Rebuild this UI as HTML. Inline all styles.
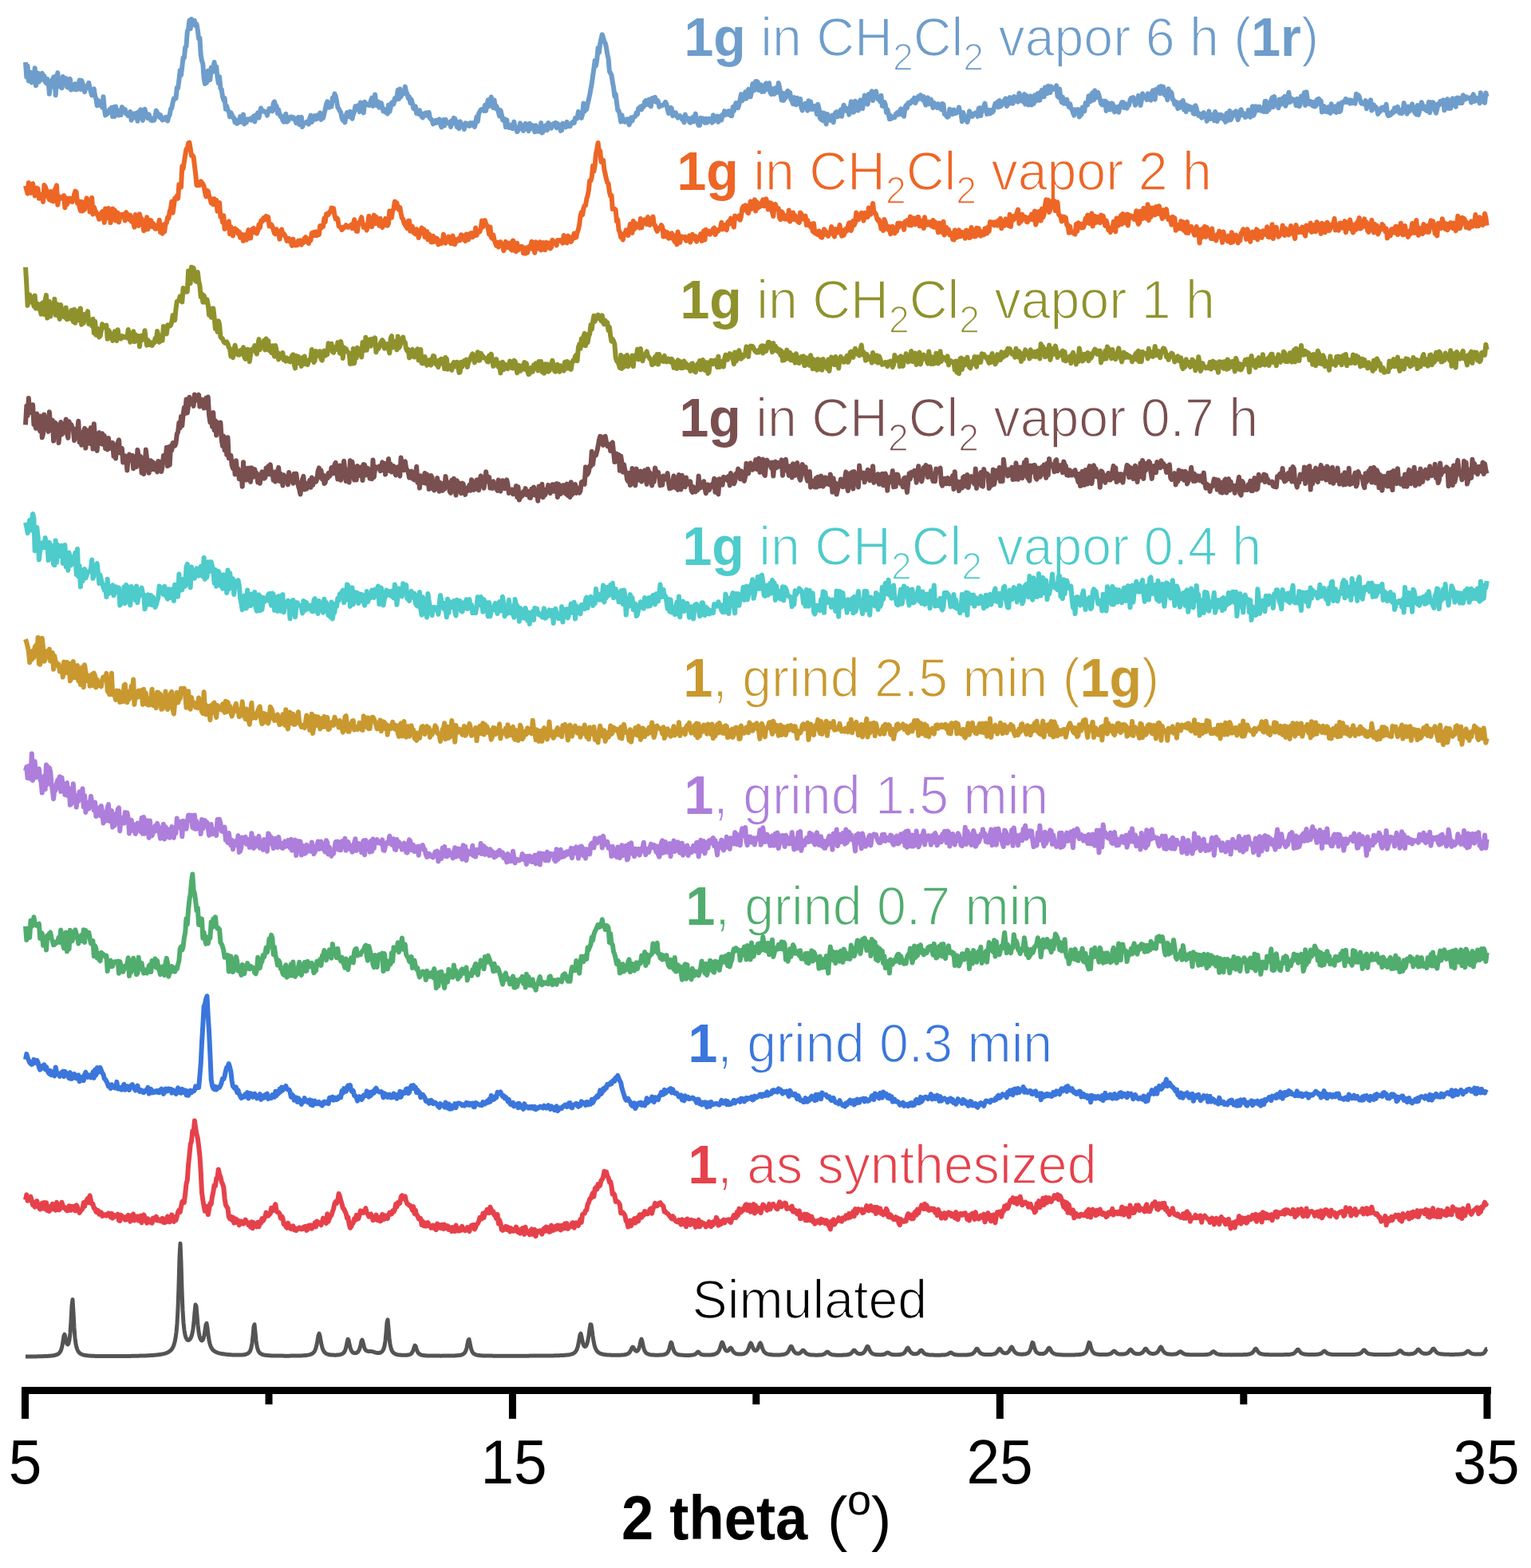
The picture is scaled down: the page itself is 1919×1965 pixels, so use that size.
<!DOCTYPE html>
<html><head><meta charset="utf-8"><title>PXRD patterns</title>
<style>
html,body{margin:0;padding:0;background:#fff;}
body{width:1919px;height:1965px;overflow:hidden;}
svg{display:block;}
text{font-family:"Liberation Sans",Arial,sans-serif;}
.lb{font-size:68.6px;}
.b{font-weight:bold;}
.tk{font-size:77.5px;fill:#000;}
</style></head><body>
<svg width="1919" height="1965" viewBox="0 0 1919 1965">
<rect width="1919" height="1965" fill="#fff"/>
<g class="lb">
<g transform="translate(857.5,69.9) scale(0.966,1)"><text x="0" y="0" fill="#6e9dcb" stroke="#fff" stroke-width="1.6"><tspan class="b" stroke="none">1g</tspan> in CH<tspan font-size="48.0" dy="17.8">2</tspan><tspan dy="-17.8">Cl</tspan><tspan font-size="48.0" dy="17.8">2</tspan><tspan dy="-17.8"> vapor 6 h (</tspan><tspan class="b" stroke="none">1r</tspan>)</text></g>
<g transform="translate(848.5,237.5) scale(0.966,1)"><text x="0" y="0" fill="#ed6626" stroke="#fff" stroke-width="1.6"><tspan class="b" stroke="none">1g</tspan> in CH<tspan font-size="48.0" dy="17.8">2</tspan><tspan dy="-17.8">Cl</tspan><tspan font-size="48.0" dy="17.8">2</tspan><tspan dy="-17.8"> vapor 2 h</tspan></text></g>
<g transform="translate(852.5,399) scale(0.966,1)"><text x="0" y="0" fill="#8f922c" stroke="#fff" stroke-width="1.6"><tspan class="b" stroke="none">1g</tspan> in CH<tspan font-size="48.0" dy="17.8">2</tspan><tspan dy="-17.8">Cl</tspan><tspan font-size="48.0" dy="17.8">2</tspan><tspan dy="-17.8"> vapor 1 h</tspan></text></g>
<g transform="translate(851.5,546.8) scale(0.966,1)"><text x="0" y="0" fill="#7a4f50" stroke="#fff" stroke-width="1.6"><tspan class="b" stroke="none">1g</tspan> in CH<tspan font-size="48.0" dy="17.8">2</tspan><tspan dy="-17.8">Cl</tspan><tspan font-size="48.0" dy="17.8">2</tspan><tspan dy="-17.8"> vapor 0.7 h</tspan></text></g>
<g transform="translate(855.5,708.3) scale(0.966,1)"><text x="0" y="0" fill="#4ecbcb" stroke="#fff" stroke-width="1.6"><tspan class="b" stroke="none">1g</tspan> in CH<tspan font-size="48.0" dy="17.8">2</tspan><tspan dy="-17.8">Cl</tspan><tspan font-size="48.0" dy="17.8">2</tspan><tspan dy="-17.8"> vapor 0.4 h</tspan></text></g>
<g transform="translate(856.5,873.2) scale(0.966,1)"><text x="0" y="0" fill="#c9992f" stroke="#fff" stroke-width="1.6"><tspan class="b" stroke="none">1</tspan>, grind 2.5 min (<tspan class="b" stroke="none">1g</tspan>)</text></g>
<g transform="translate(857.5,1019.5) scale(0.966,1)"><text x="0" y="0" fill="#ad7edb" stroke="#fff" stroke-width="1.6"><tspan class="b" stroke="none">1</tspan>, grind 1.5 min</text></g>
<g transform="translate(859.5,1158.6) scale(0.966,1)"><text x="0" y="0" fill="#50ad6e" stroke="#fff" stroke-width="1.6"><tspan class="b" stroke="none">1</tspan>, grind 0.7 min</text></g>
<g transform="translate(862.5,1331) scale(0.966,1)"><text x="0" y="0" fill="#3b76dc" stroke="#fff" stroke-width="1.6"><tspan class="b" stroke="none">1</tspan>, grind 0.3 min</text></g>
<g transform="translate(862.5,1482.5) scale(0.966,1)"><text x="0" y="0" fill="#e6414b" stroke="#fff" stroke-width="1.6"><tspan class="b" stroke="none">1</tspan>, as synthesized</text></g>
<g transform="translate(867.5,1652) scale(0.966,1)"><text x="0" y="0" fill="#000" stroke="#fff" stroke-width="1.6">Simulated</text></g>
</g>
<polyline fill="none" stroke="#6e9dcb" stroke-width="6.0" stroke-linejoin="round" points="32.0,78.0 33.3,96.6 34.6,82.6 35.9,101.4 37.2,91.3 38.5,90.9 39.8,103.5 41.1,99.2 42.4,101.8 43.7,85.3 45.0,107.3 46.3,98.0 47.6,91.6 48.9,102.4 50.2,94.7 51.5,100.2 52.8,91.7 54.1,95.4 55.4,95.3 56.7,102.4 58.0,104.3 59.3,99.0 60.6,101.8 61.9,117.8 63.2,105.2 64.5,109.1 65.8,99.5 67.1,96.8 68.4,96.2 69.7,119.2 71.0,100.9 72.3,91.1 73.6,108.4 74.9,105.5 76.2,104.4 77.5,110.4 78.8,96.1 80.1,103.9 81.4,104.1 82.7,98.1 84.0,109.1 85.3,109.6 86.6,104.8 87.9,98.9 89.2,112.6 90.5,106.0 91.8,107.7 93.1,111.7 94.4,105.1 95.7,112.4 97.0,111.8 98.3,109.1 99.6,100.5 100.9,111.9 102.2,101.0 103.5,104.1 104.8,111.6 106.1,115.2 107.4,110.2 108.7,107.8 110.0,107.0 111.3,103.8 112.6,110.1 113.9,115.6 115.2,119.5 116.5,112.4 117.8,111.5 119.1,120.1 120.4,123.9 121.7,132.4 123.0,125.8 124.3,127.9 125.6,131.9 126.9,130.4 128.2,134.5 129.5,121.2 130.8,136.3 132.1,144.4 133.4,141.5 134.7,142.6 136.0,140.3 137.3,137.1 138.6,140.9 139.9,134.9 141.2,146.1 142.5,134.3 143.8,146.0 145.1,133.5 146.4,141.5 147.7,141.1 149.0,144.5 150.3,138.3 151.6,144.0 152.9,134.1 154.2,137.8 155.5,139.7 156.8,137.1 158.1,142.8 159.4,141.8 160.7,145.0 162.0,142.7 163.3,139.9 164.6,150.7 165.9,145.5 167.2,147.6 168.5,142.3 169.8,144.7 171.1,142.0 172.4,151.8 173.7,140.3 175.0,140.1 176.3,137.4 177.6,139.5 178.9,150.9 180.2,145.8 181.5,136.7 182.8,142.2 184.1,142.9 185.4,148.2 186.7,143.4 188.0,147.8 189.3,150.8 190.6,151.1 191.9,148.4 193.2,150.6 194.5,146.6 195.8,138.6 197.1,141.0 198.4,143.1 199.7,146.8 201.0,144.0 202.3,148.2 203.6,150.4 204.9,149.3 206.2,149.6 207.5,146.8 208.8,147.0 210.1,151.5 211.4,146.1 212.7,144.1 214.0,136.6 215.3,135.5 216.6,128.5 217.9,123.5 219.2,124.0 220.5,123.2 221.8,109.9 223.1,110.4 224.4,100.5 225.7,88.2 227.0,94.2 228.3,83.5 229.6,72.2 230.9,72.4 232.2,59.3 233.5,58.1 234.8,39.3 236.1,36.4 237.4,25.6 238.7,36.1 240.0,23.9 241.3,30.9 242.6,26.9 243.9,26.0 245.2,32.5 246.5,30.1 247.8,37.8 249.1,48.4 250.4,47.6 251.7,68.9 253.0,76.2 254.3,80.0 255.6,97.9 256.9,105.0 258.2,104.2 259.5,103.0 260.8,88.7 262.1,96.8 263.4,99.9 264.7,84.8 266.0,90.6 267.3,84.6 268.6,78.0 269.9,88.9 271.2,83.4 272.5,96.6 273.8,104.2 275.1,96.2 276.4,110.8 277.7,112.0 279.0,121.2 280.3,125.5 281.6,123.0 282.9,136.8 284.2,132.9 285.5,137.9 286.8,139.6 288.1,146.4 289.4,141.1 290.7,143.6 292.0,147.5 293.3,147.7 294.6,153.5 295.9,150.6 297.2,154.8 298.5,153.9 299.8,151.9 301.1,146.1 302.4,152.9 303.7,149.5 305.0,143.5 306.3,155.4 307.6,150.3 308.9,153.5 310.2,149.2 311.5,149.8 312.8,150.0 314.1,148.5 315.4,150.6 316.7,149.9 318.0,145.7 319.3,152.5 320.6,144.3 321.9,145.6 323.2,141.2 324.5,147.6 325.8,141.2 327.1,135.5 328.4,138.1 329.7,139.4 331.0,139.3 332.3,140.1 333.6,140.4 334.9,144.7 336.2,140.0 337.5,136.1 338.8,138.0 340.1,136.2 341.4,139.3 342.7,129.5 344.0,127.5 345.3,132.4 346.6,132.9 347.9,142.1 349.2,137.5 350.5,143.9 351.8,146.1 353.1,145.6 354.4,151.0 355.7,152.7 357.0,152.3 358.3,142.7 359.6,152.8 360.9,151.9 362.2,147.3 363.5,148.6 364.8,146.3 366.1,148.5 367.4,146.9 368.7,147.9 370.0,150.7 371.3,154.1 372.6,149.0 373.9,147.0 375.2,156.2 376.5,150.2 377.8,146.9 379.1,159.1 380.4,155.5 381.7,154.3 383.0,154.1 384.3,152.7 385.6,154.0 386.9,155.7 388.2,148.4 389.5,144.7 390.8,153.0 392.1,150.1 393.4,145.2 394.7,146.9 396.0,149.6 397.3,144.5 398.6,148.5 399.9,147.3 401.2,141.5 402.5,149.9 403.8,148.4 405.1,147.9 406.4,142.2 407.7,137.3 409.0,130.6 410.3,127.4 411.6,130.1 412.9,134.6 414.2,130.8 415.5,133.5 416.8,122.6 418.1,123.9 419.4,117.5 420.7,120.3 422.0,126.8 423.3,134.3 424.6,136.3 425.9,138.9 427.2,140.9 428.5,147.8 429.8,150.7 431.1,148.7 432.4,153.4 433.7,144.5 435.0,141.1 436.3,145.8 437.6,146.3 438.9,139.7 440.2,144.1 441.5,148.8 442.8,143.4 444.1,139.7 445.4,133.2 446.7,132.9 448.0,136.7 449.3,132.0 450.6,140.1 451.9,128.4 453.2,133.7 454.5,133.4 455.8,141.4 457.1,127.7 458.4,129.9 459.7,130.1 461.0,131.6 462.3,132.0 463.6,131.9 464.9,125.9 466.2,122.7 467.5,132.9 468.8,132.2 470.1,118.4 471.4,129.9 472.7,132.2 474.0,127.3 475.3,134.8 476.6,129.8 477.9,129.1 479.2,134.5 480.5,139.4 481.8,136.9 483.1,140.4 484.4,139.8 485.7,142.5 487.0,131.4 488.3,139.9 489.6,134.8 490.9,128.7 492.2,127.9 493.5,130.3 494.8,123.4 496.1,125.1 497.4,122.5 498.7,112.8 500.0,124.1 501.3,111.4 502.6,121.2 503.9,116.7 505.2,115.7 506.5,117.4 507.8,108.6 509.1,115.2 510.4,117.4 511.7,123.0 513.0,121.3 514.3,129.0 515.6,124.6 516.9,129.5 518.2,135.6 519.5,136.7 520.8,133.4 522.1,142.0 523.4,141.5 524.7,142.9 526.0,138.2 527.3,142.9 528.6,146.2 529.9,147.5 531.2,142.5 532.5,144.6 533.8,141.4 535.1,144.3 536.4,145.2 537.7,140.9 539.0,148.4 540.3,149.3 541.6,151.2 542.9,155.3 544.2,152.0 545.5,151.1 546.8,154.0 548.1,150.6 549.4,151.6 550.7,149.5 552.0,155.6 553.3,159.4 554.6,158.3 555.9,150.1 557.2,157.5 558.5,149.7 559.8,153.5 561.1,153.5 562.4,154.8 563.7,153.1 565.0,159.0 566.3,151.1 567.6,154.9 568.9,147.9 570.2,148.8 571.5,152.1 572.8,159.3 574.1,159.1 575.4,161.1 576.7,152.2 578.0,157.9 579.3,156.4 580.6,156.3 581.9,162.0 583.2,154.3 584.5,157.5 585.8,155.2 587.1,157.1 588.4,157.9 589.7,154.2 591.0,156.9 592.3,154.0 593.6,155.3 594.9,159.0 596.2,154.1 597.5,146.3 598.8,152.2 600.1,142.4 601.4,139.7 602.7,137.5 604.0,136.8 605.3,136.5 606.6,138.8 607.9,131.8 609.2,138.9 610.5,130.4 611.8,125.2 613.1,133.1 614.4,130.3 615.7,121.5 617.0,125.9 618.3,135.1 619.6,125.5 620.9,135.8 622.2,132.8 623.5,136.0 624.8,140.7 626.1,145.4 627.4,138.1 628.7,143.3 630.0,150.4 631.3,148.6 632.6,149.4 633.9,159.3 635.2,150.3 636.5,158.9 637.8,159.9 639.1,159.8 640.4,156.7 641.7,161.0 643.0,161.0 644.3,152.6 645.6,159.4 646.9,159.8 648.2,165.2 649.5,163.4 650.8,161.4 652.1,154.4 653.4,157.2 654.7,160.3 656.0,163.9 657.3,159.2 658.6,154.9 659.9,155.6 661.2,160.9 662.5,164.1 663.8,154.7 665.1,156.9 666.4,156.8 667.7,161.3 669.0,157.5 670.3,165.3 671.6,157.2 672.9,160.2 674.2,164.8 675.5,162.9 676.8,164.5 678.1,154.1 679.4,166.4 680.7,165.3 682.0,160.4 683.3,157.6 684.6,156.9 685.9,163.1 687.2,154.0 688.5,155.6 689.8,156.5 691.1,160.7 692.4,156.4 693.7,155.2 695.0,156.8 696.3,153.8 697.6,160.2 698.9,154.8 700.2,159.5 701.5,156.3 702.8,163.9 704.1,163.2 705.4,154.4 706.7,158.1 708.0,157.7 709.3,159.2 710.6,152.9 711.9,158.1 713.2,158.2 714.5,158.3 715.8,155.3 717.1,153.5 718.4,152.6 719.7,154.1 721.0,148.0 722.3,148.8 723.6,148.4 724.9,139.9 726.2,142.2 727.5,142.1 728.8,147.9 730.1,143.0 731.4,129.4 732.7,139.7 734.0,136.1 735.3,137.0 736.6,129.8 737.9,124.5 739.2,118.8 740.5,111.6 741.8,104.4 743.1,95.1 744.4,86.0 745.7,75.7 747.0,82.3 748.3,74.4 749.6,60.1 750.9,66.0 752.2,54.9 753.5,48.7 754.8,43.3 756.1,47.2 757.4,52.3 758.7,54.2 760.0,59.7 761.3,68.1 762.6,73.8 763.9,89.4 765.2,91.6 766.5,94.2 767.8,102.9 769.1,109.8 770.4,120.7 771.7,118.0 773.0,128.1 774.3,138.4 775.6,138.6 776.9,144.0 778.2,152.6 779.5,144.1 780.8,152.0 782.1,152.0 783.4,152.9 784.7,149.6 786.0,149.2 787.3,149.4 788.6,156.4 789.9,152.9 791.2,147.3 792.5,151.5 793.8,146.6 795.1,146.4 796.4,145.6 797.7,141.2 799.0,143.2 800.3,135.7 801.6,135.4 802.9,133.6 804.2,137.1 805.5,132.9 806.8,133.8 808.1,127.4 809.4,126.1 810.7,130.9 812.0,127.6 813.3,124.7 814.6,132.1 815.9,133.4 817.2,123.0 818.5,125.8 819.8,126.5 821.1,121.9 822.4,127.8 823.7,125.5 825.0,127.1 826.3,134.0 827.6,132.3 828.9,131.9 830.2,132.4 831.5,131.2 832.8,130.2 834.1,127.8 835.4,130.4 836.7,137.2 838.0,142.0 839.3,137.2 840.6,134.8 841.9,136.0 843.2,145.2 844.5,140.9 845.8,141.8 847.1,141.3 848.4,145.5 849.7,147.5 851.0,146.5 852.3,145.2 853.6,147.1 854.9,149.8 856.2,150.2 857.5,153.5 858.8,143.5 860.1,149.2 861.4,148.7 862.7,148.4 864.0,152.6 865.3,153.9 866.6,148.5 867.9,147.3 869.2,152.5 870.5,146.3 871.8,142.6 873.1,150.1 874.4,153.8 875.7,157.1 877.0,157.1 878.3,147.8 879.6,148.8 880.9,148.3 882.2,150.8 883.5,153.8 884.8,148.7 886.1,153.8 887.4,149.3 888.7,148.7 890.0,148.9 891.3,152.5 892.6,153.6 893.9,144.3 895.2,151.8 896.5,149.0 897.8,146.0 899.1,145.5 900.4,152.9 901.7,147.1 903.0,145.6 904.3,150.5 905.6,143.8 906.9,144.8 908.2,139.1 909.5,143.8 910.8,143.5 912.1,143.4 913.4,139.1 914.7,143.4 916.0,145.1 917.3,145.2 918.6,134.1 919.9,139.2 921.2,132.8 922.5,129.1 923.8,134.3 925.1,135.2 926.4,131.0 927.7,124.2 929.0,118.1 930.3,126.3 931.6,124.4 932.9,123.1 934.2,115.4 935.5,123.6 936.8,114.7 938.1,112.0 939.4,113.2 940.7,121.4 942.0,115.8 943.3,105.0 944.6,109.6 945.9,113.0 947.2,101.9 948.5,101.9 949.8,102.9 951.1,113.0 952.4,111.9 953.7,106.2 955.0,115.0 956.3,107.8 957.6,114.8 958.9,107.3 960.2,104.3 961.5,111.9 962.8,105.0 964.1,104.1 965.4,115.8 966.7,118.1 968.0,111.1 969.3,115.3 970.6,117.8 971.9,110.3 973.2,116.1 974.5,115.5 975.8,103.9 977.1,109.4 978.4,117.3 979.7,125.5 981.0,116.7 982.3,125.9 983.6,122.7 984.9,122.5 986.2,115.4 987.5,113.9 988.8,120.2 990.1,115.8 991.4,124.8 992.7,126.6 994.0,130.2 995.3,122.0 996.6,130.6 997.9,131.3 999.2,122.7 1000.5,128.3 1001.8,130.2 1003.1,124.0 1004.4,135.0 1005.7,138.5 1007.0,131.1 1008.3,134.0 1009.6,129.6 1010.9,132.4 1012.2,138.6 1013.5,126.3 1014.8,135.6 1016.1,127.5 1017.4,137.1 1018.7,134.2 1020.0,136.6 1021.3,132.9 1022.6,136.3 1023.9,143.2 1025.2,130.8 1026.5,135.9 1027.8,147.9 1029.1,149.6 1030.4,141.3 1031.7,151.3 1033.0,141.8 1034.3,151.1 1035.6,155.5 1036.9,142.9 1038.2,145.1 1039.5,148.5 1040.8,150.8 1042.1,151.1 1043.4,144.6 1044.7,153.3 1046.0,143.9 1047.3,141.2 1048.6,140.2 1049.9,146.3 1051.2,145.1 1052.5,140.9 1053.8,137.7 1055.1,145.8 1056.4,136.2 1057.7,131.7 1059.0,136.5 1060.3,138.7 1061.6,139.2 1062.9,135.8 1064.2,143.7 1065.5,137.5 1066.8,127.3 1068.1,136.5 1069.4,140.7 1070.7,139.8 1072.0,126.8 1073.3,132.7 1074.6,133.9 1075.9,138.5 1077.2,127.8 1078.5,125.5 1079.8,135.6 1081.1,136.0 1082.4,128.5 1083.7,119.6 1085.0,129.3 1086.3,125.6 1087.6,130.7 1088.9,118.1 1090.2,123.1 1091.5,117.7 1092.8,114.4 1094.1,126.1 1095.4,118.1 1096.7,116.4 1098.0,114.3 1099.3,121.0 1100.6,124.6 1101.9,122.6 1103.2,127.3 1104.5,119.7 1105.8,132.9 1107.1,133.2 1108.4,128.0 1109.7,130.7 1111.0,140.9 1112.3,137.4 1113.6,142.1 1114.9,149.3 1116.2,144.9 1117.5,148.7 1118.8,147.1 1120.1,146.8 1121.4,147.2 1122.7,143.2 1124.0,141.8 1125.3,140.6 1126.6,143.6 1127.9,139.3 1129.2,136.4 1130.5,143.4 1131.8,143.9 1133.1,145.7 1134.4,135.2 1135.7,132.0 1137.0,135.4 1138.3,129.0 1139.6,128.4 1140.9,129.7 1142.2,127.6 1143.5,125.6 1144.8,127.7 1146.1,122.6 1147.4,129.1 1148.7,124.6 1150.0,125.0 1151.3,120.7 1152.6,121.9 1153.9,119.1 1155.2,123.9 1156.5,125.3 1157.8,121.2 1159.1,128.2 1160.4,131.6 1161.7,125.0 1163.0,122.5 1164.3,130.4 1165.6,125.4 1166.9,124.6 1168.2,128.2 1169.5,135.1 1170.8,129.0 1172.1,130.4 1173.4,131.2 1174.7,135.0 1176.0,130.2 1177.3,135.3 1178.6,133.7 1179.9,137.2 1181.2,129.9 1182.5,130.9 1183.8,143.0 1185.1,143.0 1186.4,145.6 1187.7,146.8 1189.0,145.7 1190.3,136.8 1191.6,142.0 1192.9,141.1 1194.2,143.1 1195.5,137.5 1196.8,139.1 1198.1,142.1 1199.4,140.5 1200.7,140.1 1202.0,134.5 1203.3,140.3 1204.6,142.3 1205.9,152.3 1207.2,141.1 1208.5,144.5 1209.8,149.4 1211.1,147.3 1212.4,153.0 1213.7,148.8 1215.0,139.3 1216.3,142.1 1217.6,143.6 1218.9,145.9 1220.2,142.6 1221.5,142.6 1222.8,141.3 1224.1,141.2 1225.4,145.9 1226.7,135.8 1228.0,135.2 1229.3,145.1 1230.6,138.3 1231.9,138.4 1233.2,133.2 1234.5,129.6 1235.8,137.7 1237.1,143.1 1238.4,137.8 1239.7,138.0 1241.0,142.4 1242.3,138.1 1243.6,140.9 1244.9,139.5 1246.2,134.3 1247.5,129.7 1248.8,133.0 1250.1,128.1 1251.4,134.4 1252.7,126.0 1254.0,133.5 1255.3,132.2 1256.6,129.2 1257.9,126.6 1259.2,125.4 1260.5,123.4 1261.8,133.1 1263.1,130.9 1264.4,125.6 1265.7,122.0 1267.0,129.4 1268.3,127.4 1269.6,129.6 1270.9,121.0 1272.2,121.6 1273.5,126.5 1274.8,124.1 1276.1,127.7 1277.4,116.7 1278.7,120.8 1280.0,126.1 1281.3,122.2 1282.6,127.6 1283.9,117.9 1285.2,130.6 1286.5,119.8 1287.8,121.3 1289.1,131.5 1290.4,122.5 1291.7,120.3 1293.0,131.4 1294.3,130.4 1295.6,130.1 1296.9,119.3 1298.2,126.7 1299.5,119.1 1300.8,117.2 1302.1,125.8 1303.4,125.6 1304.7,115.0 1306.0,112.9 1307.3,115.7 1308.6,121.3 1309.9,109.5 1311.2,109.5 1312.5,117.3 1313.8,107.8 1315.1,114.5 1316.4,116.0 1317.7,108.4 1319.0,112.4 1320.3,110.7 1321.6,110.2 1322.9,111.7 1324.2,107.2 1325.5,120.4 1326.8,121.9 1328.1,111.5 1329.4,122.4 1330.7,128.0 1332.0,121.6 1333.3,129.7 1334.6,125.9 1335.9,129.8 1337.2,124.7 1338.5,130.3 1339.8,134.1 1341.1,130.1 1342.4,135.0 1343.7,137.5 1345.0,141.2 1346.3,144.6 1347.6,137.2 1348.9,140.0 1350.2,141.3 1351.5,137.1 1352.8,146.5 1354.1,144.4 1355.4,143.9 1356.7,134.6 1358.0,134.9 1359.3,139.5 1360.6,128.9 1361.9,128.5 1363.2,131.4 1364.5,120.2 1365.8,123.4 1367.1,127.0 1368.4,117.5 1369.7,116.2 1371.0,125.3 1372.3,113.5 1373.6,122.6 1374.9,119.1 1376.2,115.8 1377.5,119.5 1378.8,124.6 1380.1,129.9 1381.4,131.4 1382.7,126.8 1384.0,126.8 1385.3,126.6 1386.6,138.9 1387.9,128.6 1389.2,134.7 1390.5,133.3 1391.8,137.5 1393.1,129.4 1394.4,129.9 1395.7,132.6 1397.0,140.2 1398.3,138.7 1399.6,139.1 1400.9,133.9 1402.2,140.7 1403.5,135.1 1404.8,131.6 1406.1,128.3 1407.4,128.1 1408.7,135.0 1410.0,129.7 1411.3,131.0 1412.6,135.7 1413.9,130.8 1415.2,131.7 1416.5,125.3 1417.8,122.9 1419.1,122.6 1420.4,122.0 1421.7,126.3 1423.0,131.9 1424.3,124.7 1425.6,126.3 1426.9,119.9 1428.2,126.8 1429.5,132.0 1430.8,126.2 1432.1,117.3 1433.4,121.8 1434.7,120.4 1436.0,120.5 1437.3,125.0 1438.6,117.3 1439.9,123.8 1441.2,124.7 1442.5,125.6 1443.8,115.9 1445.1,113.5 1446.4,118.0 1447.7,124.6 1449.0,112.0 1450.3,112.9 1451.6,110.9 1452.9,109.1 1454.2,117.4 1455.5,108.1 1456.8,111.7 1458.1,108.8 1459.4,118.3 1460.7,119.5 1462.0,118.7 1463.3,125.2 1464.6,111.3 1465.9,119.8 1467.2,115.0 1468.5,116.3 1469.8,124.9 1471.1,125.4 1472.4,130.8 1473.7,127.8 1475.0,128.1 1476.3,136.1 1477.6,134.2 1478.9,134.6 1480.2,128.4 1481.5,132.3 1482.8,126.0 1484.1,137.6 1485.4,130.9 1486.7,140.1 1488.0,132.3 1489.3,133.5 1490.6,133.3 1491.9,137.3 1493.2,134.5 1494.5,134.4 1495.8,142.2 1497.1,142.8 1498.4,132.2 1499.7,135.8 1501.0,141.5 1502.3,144.8 1503.6,142.3 1504.9,143.8 1506.2,147.7 1507.5,144.0 1508.8,141.1 1510.1,146.4 1511.4,143.7 1512.7,151.9 1514.0,148.0 1515.3,139.4 1516.6,149.0 1517.9,148.0 1519.2,145.4 1520.5,143.6 1521.8,151.1 1523.1,140.0 1524.4,143.8 1525.7,152.1 1527.0,147.3 1528.3,143.7 1529.6,148.0 1530.9,143.9 1532.2,145.1 1533.5,149.4 1534.8,148.6 1536.1,152.9 1537.4,142.0 1538.7,145.6 1540.0,150.7 1541.3,139.0 1542.6,150.2 1543.9,147.2 1545.2,145.2 1546.5,141.0 1547.8,142.4 1549.1,139.3 1550.4,145.9 1551.7,150.1 1553.0,146.3 1554.3,139.4 1555.6,137.3 1556.9,144.1 1558.2,141.6 1559.5,142.7 1560.8,146.9 1562.1,144.2 1563.4,145.5 1564.7,137.9 1566.0,141.4 1567.3,146.9 1568.6,143.0 1569.9,133.2 1571.2,144.8 1572.5,141.8 1573.8,133.3 1575.1,135.4 1576.4,138.2 1577.7,133.7 1579.0,133.8 1580.3,138.7 1581.6,136.1 1582.9,139.4 1584.2,139.9 1585.5,127.0 1586.8,126.8 1588.1,140.1 1589.4,130.3 1590.7,137.3 1592.0,129.4 1593.3,125.6 1594.6,122.3 1595.9,134.3 1597.2,121.1 1598.5,128.1 1599.8,130.6 1601.1,129.4 1602.4,135.3 1603.7,124.6 1605.0,126.4 1606.3,130.7 1607.6,123.3 1608.9,122.7 1610.2,120.9 1611.5,132.8 1612.8,128.1 1614.1,122.0 1615.4,115.8 1616.7,128.3 1618.0,122.8 1619.3,126.7 1620.6,124.4 1621.9,125.1 1623.2,125.4 1624.5,132.3 1625.8,123.8 1627.1,125.6 1628.4,133.3 1629.7,131.3 1631.0,120.4 1632.3,127.0 1633.6,126.7 1634.9,115.9 1636.2,131.9 1637.5,115.2 1638.8,123.9 1640.1,126.9 1641.4,130.5 1642.7,127.0 1644.0,128.6 1645.3,132.6 1646.6,128.1 1647.9,133.5 1649.2,133.0 1650.5,125.1 1651.8,130.3 1653.1,123.7 1654.4,127.8 1655.7,126.4 1657.0,140.5 1658.3,133.2 1659.6,133.1 1660.9,139.6 1662.2,138.0 1663.5,140.1 1664.8,134.2 1666.1,140.5 1667.4,141.8 1668.7,130.3 1670.0,138.5 1671.3,134.3 1672.6,139.8 1673.9,133.2 1675.2,141.0 1676.5,139.2 1677.8,130.1 1679.1,140.0 1680.4,138.6 1681.7,128.4 1683.0,129.4 1684.3,127.4 1685.6,126.5 1686.9,123.9 1688.2,128.2 1689.5,126.3 1690.8,125.4 1692.1,129.6 1693.4,125.7 1694.7,129.1 1696.0,126.5 1697.3,128.3 1698.6,129.7 1699.9,117.8 1701.2,121.8 1702.5,119.2 1703.8,121.2 1705.1,126.0 1706.4,129.7 1707.7,129.9 1709.0,130.1 1710.3,130.5 1711.6,126.1 1712.9,136.2 1714.2,129.2 1715.5,128.7 1716.8,127.2 1718.1,125.3 1719.4,138.5 1720.7,135.7 1722.0,131.3 1723.3,135.8 1724.6,134.1 1725.9,137.1 1727.2,143.0 1728.5,138.6 1729.8,140.1 1731.1,135.2 1732.4,134.6 1733.7,134.4 1735.0,137.9 1736.3,136.9 1737.6,130.8 1738.9,142.5 1740.2,145.0 1741.5,141.9 1742.8,144.1 1744.1,142.8 1745.4,139.5 1746.7,141.0 1748.0,135.2 1749.3,139.4 1750.6,136.9 1751.9,133.9 1753.2,139.3 1754.5,141.7 1755.8,138.4 1757.1,142.2 1758.4,139.8 1759.7,129.1 1761.0,133.5 1762.3,133.5 1763.6,142.7 1764.9,133.4 1766.2,139.9 1767.5,135.8 1768.8,135.3 1770.1,130.4 1771.4,138.5 1772.7,139.6 1774.0,142.0 1775.3,143.3 1776.6,132.1 1777.9,144.0 1779.2,138.9 1780.5,134.7 1781.8,128.2 1783.1,131.5 1784.4,136.5 1785.7,133.6 1787.0,137.8 1788.3,138.8 1789.6,135.9 1790.9,127.9 1792.2,141.2 1793.5,128.3 1794.8,136.3 1796.1,128.2 1797.4,129.8 1798.7,138.4 1800.0,141.6 1801.3,136.8 1802.6,130.3 1803.9,131.6 1805.2,127.1 1806.5,127.9 1807.8,126.1 1809.1,125.3 1810.4,138.2 1811.7,125.9 1813.0,131.3 1814.3,124.1 1815.6,135.8 1816.9,129.9 1818.2,135.9 1819.5,125.5 1820.8,123.4 1822.1,129.1 1823.4,132.1 1824.7,133.8 1826.0,122.6 1827.3,122.4 1828.6,123.0 1829.9,129.1 1831.2,128.4 1832.5,129.1 1833.8,119.2 1835.1,120.7 1836.4,124.7 1837.7,121.3 1839.0,123.3 1840.3,122.5 1841.6,122.4 1842.9,123.4 1844.2,128.5 1845.5,121.2 1846.8,118.2 1848.1,127.1 1849.4,124.8 1850.7,122.7 1852.0,125.8 1853.3,125.4 1854.6,129.4 1855.9,116.3 1857.2,125.0 1858.5,120.4 1859.8,127.9 1861.1,128.8 1862.4,116.4 1863.7,121.1"/>
<polyline fill="none" stroke="#ed6626" stroke-width="6.0" stroke-linejoin="round" points="32.0,232.7 33.3,237.7 34.6,242.5 35.9,229.0 37.2,240.9 38.5,241.8 39.8,230.7 41.1,230.2 42.4,238.9 43.7,245.4 45.0,241.5 46.3,235.6 47.6,236.5 48.9,248.7 50.2,243.3 51.5,246.3 52.8,247.3 54.1,252.9 55.4,232.1 56.7,234.0 58.0,237.6 59.3,245.9 60.6,247.0 61.9,250.0 63.2,240.0 64.5,251.6 65.8,246.2 67.1,252.4 68.4,238.1 69.7,236.2 71.0,232.4 72.3,256.7 73.6,247.7 74.9,246.6 76.2,248.7 77.5,248.3 78.8,246.2 80.1,245.1 81.4,260.3 82.7,248.0 84.0,256.1 85.3,253.2 86.6,248.5 87.9,248.7 89.2,252.4 90.5,253.0 91.8,248.9 93.1,243.7 94.4,239.7 95.7,240.6 97.0,254.6 98.3,251.9 99.6,258.9 100.9,264.1 102.2,252.8 103.5,264.5 104.8,260.5 106.1,262.4 107.4,253.9 108.7,248.3 110.0,253.8 111.3,251.7 112.6,265.5 113.9,252.4 115.2,247.9 116.5,268.6 117.8,259.6 119.1,263.1 120.4,265.6 121.7,268.4 123.0,270.8 124.3,274.7 125.6,271.0 126.9,266.9 128.2,265.3 129.5,271.6 130.8,278.9 132.1,261.5 133.4,273.5 134.7,270.9 136.0,261.0 137.3,265.7 138.6,279.1 139.9,272.1 141.2,261.5 142.5,267.6 143.8,263.4 145.1,276.6 146.4,266.3 147.7,266.6 149.0,278.4 150.3,272.4 151.6,269.1 152.9,270.1 154.2,268.7 155.5,271.4 156.8,276.5 158.1,266.1 159.4,268.5 160.7,269.2 162.0,275.2 163.3,269.7 164.6,277.5 165.9,272.6 167.2,279.4 168.5,284.7 169.8,268.9 171.1,273.4 172.4,280.5 173.7,282.8 175.0,268.3 176.3,274.1 177.6,274.0 178.9,279.5 180.2,289.2 181.5,284.9 182.8,287.6 184.1,272.2 185.4,287.3 186.7,279.2 188.0,276.0 189.3,276.2 190.6,284.0 191.9,280.1 193.2,281.5 194.5,286.8 195.8,286.5 197.1,282.5 198.4,284.9 199.7,275.8 201.0,290.9 202.3,289.2 203.6,292.7 204.9,281.5 206.2,290.4 207.5,280.3 208.8,279.5 210.1,272.2 211.4,273.6 212.7,265.1 214.0,261.1 215.3,252.4 216.6,266.8 217.9,257.9 219.2,248.3 220.5,248.4 221.8,245.3 223.1,248.8 224.4,231.3 225.7,233.6 227.0,234.5 228.3,208.5 229.6,211.4 230.9,202.7 232.2,194.6 233.5,186.7 234.8,186.8 236.1,179.4 237.4,178.7 238.7,186.3 240.0,195.1 241.3,194.7 242.6,196.6 243.9,207.8 245.2,218.3 246.5,232.2 247.8,232.4 249.1,228.3 250.4,232.1 251.7,227.2 253.0,228.8 254.3,230.4 255.6,233.2 256.9,240.8 258.2,246.3 259.5,238.7 260.8,239.6 262.1,245.8 263.4,249.2 264.7,254.4 266.0,249.5 267.3,256.4 268.6,249.1 269.9,254.1 271.2,250.9 272.5,264.8 273.8,263.5 275.1,253.9 276.4,271.8 277.7,270.4 279.0,278.6 280.3,270.1 281.6,287.0 282.9,280.0 284.2,280.1 285.5,285.6 286.8,277.4 288.1,293.3 289.4,284.2 290.7,287.2 292.0,295.5 293.3,287.8 294.6,286.5 295.9,287.8 297.2,288.5 298.5,292.9 299.8,290.6 301.1,297.8 302.4,296.5 303.7,294.0 305.0,301.9 306.3,294.3 307.6,299.8 308.9,300.5 310.2,293.1 311.5,288.1 312.8,298.5 314.1,298.5 315.4,288.1 316.7,286.8 318.0,286.0 319.3,291.2 320.6,290.0 321.9,292.6 323.2,289.3 324.5,281.4 325.8,285.5 327.1,276.9 328.4,277.8 329.7,274.0 331.0,272.7 332.3,275.4 333.6,270.9 334.9,274.1 336.2,272.0 337.5,283.5 338.8,282.9 340.1,281.5 341.4,283.6 342.7,288.1 344.0,292.4 345.3,293.2 346.6,287.2 347.9,291.8 349.2,289.9 350.5,299.8 351.8,294.0 353.1,287.5 354.4,294.0 355.7,293.0 357.0,294.6 358.3,297.8 359.6,301.9 360.9,300.7 362.2,299.0 363.5,302.9 364.8,303.6 366.1,307.9 367.4,299.6 368.7,307.0 370.0,307.5 371.3,304.3 372.6,307.2 373.9,301.7 375.2,304.1 376.5,301.3 377.8,306.8 379.1,303.2 380.4,304.0 381.7,298.6 383.0,297.2 384.3,298.6 385.6,303.9 386.9,305.1 388.2,299.2 389.5,301.2 390.8,291.9 392.1,294.7 393.4,291.0 394.7,295.2 396.0,290.5 397.3,295.2 398.6,291.1 399.9,294.0 401.2,282.9 402.5,285.8 403.8,283.7 405.1,283.9 406.4,273.6 407.7,278.0 409.0,268.3 410.3,267.5 411.6,269.0 412.9,265.7 414.2,265.7 415.5,260.5 416.8,261.0 418.1,261.2 419.4,269.6 420.7,274.4 422.0,273.1 423.3,274.4 424.6,283.2 425.9,284.4 427.2,285.2 428.5,288.1 429.8,284.9 431.1,285.8 432.4,284.1 433.7,282.2 435.0,283.7 436.3,284.9 437.6,283.5 438.9,282.8 440.2,281.6 441.5,286.3 442.8,281.7 444.1,275.3 445.4,285.1 446.7,289.8 448.0,289.8 449.3,279.1 450.6,280.3 451.9,275.8 453.2,272.2 454.5,279.7 455.8,285.1 457.1,284.9 458.4,282.5 459.7,288.6 461.0,281.1 462.3,270.8 463.6,283.4 464.9,274.7 466.2,284.3 467.5,277.5 468.8,269.6 470.1,280.2 471.4,271.8 472.7,279.7 474.0,275.1 475.3,282.7 476.6,273.7 477.9,282.9 479.2,285.0 480.5,277.8 481.8,282.3 483.1,273.9 484.4,279.9 485.7,282.7 487.0,280.1 488.3,264.5 489.6,265.9 490.9,272.8 492.2,263.8 493.5,261.8 494.8,252.4 496.1,259.5 497.4,254.2 498.7,261.4 500.0,262.9 501.3,259.9 502.6,267.6 503.9,273.4 505.2,274.6 506.5,279.7 507.8,281.8 509.1,283.8 510.4,286.1 511.7,276.8 513.0,276.8 514.3,289.6 515.6,283.1 516.9,283.7 518.2,291.4 519.5,292.1 520.8,293.3 522.1,287.3 523.4,288.3 524.7,298.0 526.0,293.6 527.3,292.5 528.6,285.6 529.9,290.6 531.2,287.4 532.5,297.2 533.8,291.6 535.1,290.1 536.4,300.3 537.7,293.2 539.0,295.0 540.3,303.4 541.6,303.5 542.9,295.7 544.2,302.9 545.5,297.8 546.8,299.9 548.1,299.1 549.4,306.5 550.7,301.9 552.0,302.9 553.3,305.0 554.6,303.4 555.9,293.6 557.2,300.1 558.5,304.8 559.8,300.1 561.1,301.3 562.4,296.6 563.7,302.5 565.0,305.0 566.3,297.5 567.6,295.6 568.9,305.8 570.2,306.1 571.5,300.1 572.8,302.4 574.1,301.8 575.4,298.6 576.7,301.2 578.0,294.2 579.3,297.6 580.6,295.3 581.9,300.2 583.2,302.1 584.5,293.4 585.8,293.7 587.1,300.4 588.4,294.6 589.7,292.4 591.0,292.0 592.3,297.3 593.6,295.9 594.9,295.3 596.2,285.4 597.5,294.9 598.8,290.2 600.1,290.1 601.4,290.4 602.7,286.4 604.0,276.6 605.3,284.2 606.6,276.5 607.9,276.3 609.2,280.9 610.5,282.4 611.8,286.3 613.1,293.6 614.4,284.4 615.7,297.5 617.0,298.8 618.3,294.4 619.6,300.7 620.9,304.4 622.2,308.0 623.5,303.7 624.8,309.6 626.1,305.7 627.4,303.1 628.7,306.3 630.0,307.1 631.3,314.2 632.6,309.8 633.9,302.9 635.2,310.1 636.5,305.7 637.8,310.1 639.1,304.5 640.4,312.4 641.7,313.6 643.0,301.4 644.3,303.9 645.6,314.2 646.9,315.2 648.2,304.8 649.5,313.4 650.8,309.2 652.1,309.4 653.4,308.8 654.7,309.1 656.0,317.3 657.3,312.6 658.6,317.8 659.9,310.4 661.2,316.7 662.5,310.5 663.8,308.4 665.1,310.1 666.4,302.7 667.7,312.4 669.0,304.1 670.3,316.7 671.6,303.3 672.9,309.0 674.2,311.6 675.5,309.8 676.8,303.3 678.1,313.4 679.4,304.5 680.7,304.1 682.0,312.8 683.3,313.1 684.6,303.7 685.9,307.4 687.2,310.1 688.5,304.5 689.8,311.4 691.1,309.7 692.4,300.7 693.7,302.5 695.0,303.2 696.3,304.7 697.6,307.5 698.9,301.1 700.2,302.1 701.5,300.9 702.8,301.2 704.1,303.0 705.4,304.6 706.7,295.0 708.0,300.3 709.3,300.0 710.6,304.5 711.9,295.5 713.2,300.0 714.5,297.2 715.8,303.0 717.1,300.4 718.4,297.5 719.7,292.5 721.0,297.9 722.3,297.5 723.6,291.2 724.9,287.7 726.2,281.6 727.5,270.7 728.8,266.1 730.1,269.3 731.4,261.5 732.7,257.7 734.0,257.4 735.3,249.3 736.6,245.2 737.9,238.2 739.2,226.4 740.5,226.5 741.8,222.0 743.1,207.7 744.4,214.8 745.7,207.0 747.0,192.6 748.3,186.6 749.6,179.0 750.9,190.0 752.2,189.1 753.5,202.9 754.8,203.4 756.1,200.7 757.4,212.6 758.7,218.2 760.0,224.4 761.3,228.8 762.6,230.3 763.9,240.5 765.2,245.6 766.5,244.8 767.8,261.9 769.1,261.7 770.4,261.8 771.7,263.0 773.0,277.2 774.3,275.3 775.6,288.2 776.9,291.0 778.2,297.3 779.5,295.1 780.8,300.5 782.1,293.0 783.4,292.8 784.7,288.3 786.0,292.0 787.3,295.1 788.6,288.1 789.9,280.7 791.2,290.7 792.5,291.8 793.8,276.9 795.1,287.3 796.4,279.9 797.7,281.0 799.0,284.6 800.3,284.4 801.6,285.5 802.9,274.0 804.2,285.3 805.5,278.8 806.8,276.9 808.1,275.3 809.4,275.5 810.7,281.2 812.0,271.9 813.3,274.7 814.6,282.0 815.9,275.3 817.2,275.2 818.5,271.5 819.8,281.5 821.1,282.3 822.4,287.3 823.7,289.8 825.0,287.3 826.3,285.6 827.6,286.3 828.9,282.1 830.2,284.3 831.5,296.5 832.8,289.4 834.1,296.4 835.4,291.0 836.7,291.7 838.0,298.8 839.3,296.6 840.6,298.0 841.9,292.2 843.2,297.6 844.5,300.4 845.8,303.0 847.1,294.7 848.4,306.3 849.7,290.6 851.0,296.3 852.3,303.9 853.6,296.3 854.9,298.7 856.2,296.8 857.5,297.8 858.8,296.9 860.1,301.8 861.4,299.2 862.7,297.2 864.0,295.4 865.3,303.6 866.6,298.3 867.9,293.7 869.2,296.5 870.5,299.5 871.8,296.0 873.1,302.8 874.4,299.2 875.7,299.0 877.0,296.9 878.3,293.0 879.6,302.0 880.9,297.9 882.2,289.3 883.5,300.6 884.8,287.8 886.1,293.3 887.4,291.7 888.7,289.6 890.0,293.7 891.3,290.2 892.6,291.1 893.9,286.9 895.2,285.8 896.5,294.0 897.8,291.8 899.1,288.2 900.4,289.5 901.7,287.7 903.0,286.1 904.3,278.7 905.6,287.4 906.9,283.0 908.2,282.2 909.5,286.9 910.8,288.2 912.1,278.9 913.4,277.2 914.7,280.4 916.0,273.6 917.3,276.1 918.6,279.7 919.9,284.7 921.2,270.5 922.5,271.6 923.8,273.1 925.1,273.7 926.4,270.3 927.7,275.7 929.0,270.9 930.3,261.4 931.6,258.7 932.9,263.1 934.2,257.2 935.5,258.0 936.8,265.8 938.1,267.1 939.4,260.0 940.7,252.4 942.0,261.8 943.3,258.6 944.6,256.3 945.9,250.2 947.2,264.5 948.5,253.1 949.8,260.9 951.1,255.2 952.4,259.1 953.7,255.7 955.0,253.9 956.3,250.4 957.6,258.2 958.9,256.7 960.2,249.2 961.5,253.3 962.8,262.5 964.1,261.6 965.4,254.1 966.7,254.5 968.0,266.1 969.3,271.0 970.6,259.0 971.9,255.9 973.2,261.2 974.5,260.6 975.8,261.4 977.1,273.0 978.4,275.0 979.7,265.3 981.0,266.8 982.3,273.9 983.6,270.1 984.9,274.7 986.2,273.1 987.5,274.8 988.8,263.5 990.1,277.5 991.4,275.6 992.7,266.9 994.0,266.5 995.3,275.0 996.6,269.9 997.9,275.8 999.2,273.3 1000.5,278.2 1001.8,279.1 1003.1,266.6 1004.4,268.0 1005.7,270.2 1007.0,274.6 1008.3,273.1 1009.6,270.7 1010.9,282.1 1012.2,275.9 1013.5,281.2 1014.8,281.6 1016.1,284.6 1017.4,280.7 1018.7,289.9 1020.0,280.0 1021.3,291.8 1022.6,290.2 1023.9,293.7 1025.2,294.0 1026.5,289.5 1027.8,295.3 1029.1,297.4 1030.4,297.7 1031.7,291.0 1033.0,287.4 1034.3,289.4 1035.6,293.9 1036.9,292.2 1038.2,296.0 1039.5,291.2 1040.8,292.3 1042.1,284.1 1043.4,287.4 1044.7,294.3 1046.0,296.5 1047.3,287.0 1048.6,289.7 1049.9,291.3 1051.2,290.5 1052.5,281.9 1053.8,291.2 1055.1,295.8 1056.4,288.6 1057.7,294.9 1059.0,291.1 1060.3,286.9 1061.6,289.2 1062.9,283.5 1064.2,279.4 1065.5,279.0 1066.8,289.0 1068.1,284.7 1069.4,276.7 1070.7,282.1 1072.0,278.8 1073.3,266.5 1074.6,272.8 1075.9,275.3 1077.2,269.0 1078.5,271.9 1079.8,266.8 1081.1,268.2 1082.4,276.6 1083.7,266.8 1085.0,272.3 1086.3,271.9 1087.6,272.0 1088.9,260.4 1090.2,264.7 1091.5,268.7 1092.8,263.3 1094.1,254.9 1095.4,266.0 1096.7,266.7 1098.0,268.7 1099.3,274.2 1100.6,276.5 1101.9,275.5 1103.2,280.4 1104.5,286.8 1105.8,284.4 1107.1,288.9 1108.4,275.0 1109.7,278.6 1111.0,283.3 1112.3,287.2 1113.6,288.0 1114.9,284.0 1116.2,293.2 1117.5,285.6 1118.8,283.9 1120.1,291.1 1121.4,292.4 1122.7,290.3 1124.0,289.8 1125.3,279.7 1126.6,284.9 1127.9,279.6 1129.2,281.1 1130.5,280.3 1131.8,280.9 1133.1,287.9 1134.4,277.7 1135.7,278.2 1137.0,276.1 1138.3,279.9 1139.6,282.1 1140.9,271.4 1142.2,282.4 1143.5,280.7 1144.8,273.3 1146.1,278.1 1147.4,281.3 1148.7,280.2 1150.0,272.0 1151.3,272.1 1152.6,283.3 1153.9,282.9 1155.2,281.4 1156.5,276.2 1157.8,286.1 1159.1,272.3 1160.4,282.1 1161.7,281.8 1163.0,278.4 1164.3,278.2 1165.6,281.9 1166.9,278.2 1168.2,283.4 1169.5,276.0 1170.8,284.7 1172.1,278.1 1173.4,284.8 1174.7,284.7 1176.0,291.3 1177.3,279.4 1178.6,286.5 1179.9,284.4 1181.2,291.5 1182.5,277.7 1183.8,294.4 1185.1,288.4 1186.4,285.0 1187.7,291.6 1189.0,287.6 1190.3,294.5 1191.6,292.7 1192.9,292.3 1194.2,300.1 1195.5,300.5 1196.8,288.4 1198.1,289.6 1199.4,297.6 1200.7,293.0 1202.0,288.4 1203.3,296.4 1204.6,295.9 1205.9,291.0 1207.2,294.0 1208.5,294.7 1209.8,298.7 1211.1,288.5 1212.4,293.4 1213.7,289.7 1215.0,298.0 1216.3,297.7 1217.6,285.1 1218.9,290.6 1220.2,295.3 1221.5,296.5 1222.8,296.3 1224.1,285.8 1225.4,294.3 1226.7,286.1 1228.0,294.6 1229.3,295.6 1230.6,290.3 1231.9,292.2 1233.2,294.2 1234.5,286.3 1235.8,290.5 1237.1,292.4 1238.4,284.6 1239.7,289.9 1241.0,278.0 1242.3,278.4 1243.6,281.1 1244.9,278.7 1246.2,282.4 1247.5,278.3 1248.8,278.8 1250.1,282.6 1251.4,276.2 1252.7,277.3 1254.0,273.9 1255.3,286.3 1256.6,278.7 1257.9,277.5 1259.2,282.8 1260.5,274.4 1261.8,275.3 1263.1,278.2 1264.4,283.0 1265.7,268.7 1267.0,283.9 1268.3,271.4 1269.6,271.2 1270.9,275.3 1272.2,270.3 1273.5,270.9 1274.8,266.0 1276.1,262.7 1277.4,280.0 1278.7,277.3 1280.0,277.3 1281.3,268.6 1282.6,273.0 1283.9,274.0 1285.2,271.9 1286.5,277.7 1287.8,278.3 1289.1,276.4 1290.4,272.4 1291.7,273.0 1293.0,268.5 1294.3,275.4 1295.6,275.1 1296.9,264.5 1298.2,281.6 1299.5,277.6 1300.8,265.5 1302.1,269.0 1303.4,264.7 1304.7,276.6 1306.0,261.7 1307.3,272.5 1308.6,268.9 1309.9,257.5 1311.2,250.2 1312.5,258.7 1313.8,250.8 1315.1,266.0 1316.4,262.6 1317.7,256.7 1319.0,251.8 1320.3,251.4 1321.6,252.0 1322.9,264.1 1324.2,254.5 1325.5,253.5 1326.8,268.3 1328.1,270.1 1329.4,270.8 1330.7,277.5 1332.0,275.5 1333.3,271.5 1334.6,272.1 1335.9,272.9 1337.2,282.0 1338.5,281.8 1339.8,291.8 1341.1,283.6 1342.4,291.2 1343.7,291.0 1345.0,291.2 1346.3,292.8 1347.6,293.5 1348.9,280.9 1350.2,289.8 1351.5,279.3 1352.8,280.8 1354.1,283.1 1355.4,285.4 1356.7,280.6 1358.0,285.2 1359.3,280.7 1360.6,273.7 1361.9,279.4 1363.2,269.5 1364.5,276.1 1365.8,280.1 1367.1,275.5 1368.4,267.4 1369.7,283.6 1371.0,275.8 1372.3,270.9 1373.6,279.0 1374.9,273.1 1376.2,271.9 1377.5,273.4 1378.8,279.3 1380.1,269.4 1381.4,273.0 1382.7,270.6 1384.0,275.9 1385.3,283.0 1386.6,276.4 1387.9,281.0 1389.2,288.1 1390.5,285.2 1391.8,291.1 1393.1,287.4 1394.4,287.9 1395.7,277.7 1397.0,283.5 1398.3,290.3 1399.6,273.4 1400.9,277.2 1402.2,282.5 1403.5,276.2 1404.8,270.4 1406.1,281.0 1407.4,268.0 1408.7,272.7 1410.0,270.3 1411.3,279.5 1412.6,268.5 1413.9,282.5 1415.2,269.6 1416.5,273.2 1417.8,270.4 1419.1,272.1 1420.4,271.2 1421.7,275.0 1423.0,271.5 1424.3,264.2 1425.6,277.0 1426.9,280.9 1428.2,278.9 1429.5,264.7 1430.8,271.1 1432.1,274.1 1433.4,261.1 1434.7,268.3 1436.0,265.6 1437.3,273.7 1438.6,256.3 1439.9,276.0 1441.2,259.9 1442.5,272.1 1443.8,265.2 1445.1,260.6 1446.4,260.7 1447.7,269.4 1449.0,259.0 1450.3,266.6 1451.6,267.8 1452.9,258.1 1454.2,265.6 1455.5,268.5 1456.8,274.0 1458.1,263.2 1459.4,266.2 1460.7,271.4 1462.0,262.1 1463.3,271.9 1464.6,275.2 1465.9,272.6 1467.2,276.6 1468.5,281.7 1469.8,271.8 1471.1,280.6 1472.4,273.1 1473.7,288.8 1475.0,282.9 1476.3,282.2 1477.6,286.5 1478.9,284.2 1480.2,277.3 1481.5,286.9 1482.8,278.3 1484.1,288.9 1485.4,287.3 1486.7,291.6 1488.0,277.9 1489.3,292.0 1490.6,286.0 1491.9,284.7 1493.2,283.9 1494.5,288.6 1495.8,290.8 1497.1,294.6 1498.4,292.1 1499.7,284.0 1501.0,294.8 1502.3,289.5 1503.6,304.4 1504.9,287.5 1506.2,297.9 1507.5,292.1 1508.8,285.4 1510.1,283.9 1511.4,296.9 1512.7,284.9 1514.0,289.3 1515.3,290.7 1516.6,295.6 1517.9,299.0 1519.2,286.5 1520.5,299.3 1521.8,298.5 1523.1,296.6 1524.4,301.5 1525.7,293.7 1527.0,296.9 1528.3,289.6 1529.6,296.7 1530.9,296.0 1532.2,303.9 1533.5,290.6 1534.8,296.2 1536.1,299.8 1537.4,298.6 1538.7,302.3 1540.0,295.6 1541.3,300.7 1542.6,304.1 1543.9,291.2 1545.2,303.5 1546.5,297.0 1547.8,294.9 1549.1,294.5 1550.4,297.7 1551.7,304.5 1553.0,298.4 1554.3,301.7 1555.6,292.3 1556.9,290.6 1558.2,287.4 1559.5,293.3 1560.8,291.3 1562.1,299.9 1563.4,287.2 1564.7,290.2 1566.0,291.7 1567.3,302.9 1568.6,291.8 1569.9,290.7 1571.2,296.3 1572.5,297.8 1573.8,293.5 1575.1,287.4 1576.4,300.3 1577.7,289.5 1579.0,293.5 1580.3,296.6 1581.6,297.7 1582.9,289.2 1584.2,291.8 1585.5,290.9 1586.8,294.0 1588.1,284.3 1589.4,296.8 1590.7,297.2 1592.0,296.4 1593.3,290.3 1594.6,281.2 1595.9,299.0 1597.2,284.9 1598.5,287.7 1599.8,284.8 1601.1,292.1 1602.4,296.8 1603.7,295.4 1605.0,293.4 1606.3,292.9 1607.6,282.5 1608.9,291.5 1610.2,295.0 1611.5,286.4 1612.8,288.4 1614.1,292.3 1615.4,294.3 1616.7,289.4 1618.0,283.0 1619.3,292.6 1620.6,285.8 1621.9,293.4 1623.2,299.1 1624.5,282.1 1625.8,287.1 1627.1,288.5 1628.4,291.0 1629.7,287.2 1631.0,290.7 1632.3,284.5 1633.6,291.6 1634.9,291.7 1636.2,295.7 1637.5,282.4 1638.8,284.3 1640.1,288.5 1641.4,288.3 1642.7,279.5 1644.0,290.9 1645.3,290.0 1646.6,287.0 1647.9,281.8 1649.2,290.3 1650.5,278.2 1651.8,280.6 1653.1,287.2 1654.4,286.3 1655.7,292.9 1657.0,279.8 1658.3,282.4 1659.6,281.2 1660.9,291.3 1662.2,283.2 1663.5,278.7 1664.8,280.7 1666.1,289.1 1667.4,286.8 1668.7,282.2 1670.0,281.0 1671.3,281.4 1672.6,273.9 1673.9,288.4 1675.2,286.0 1676.5,283.2 1677.8,288.8 1679.1,279.6 1680.4,279.4 1681.7,284.0 1683.0,285.7 1684.3,282.7 1685.6,277.1 1686.9,291.2 1688.2,278.8 1689.5,286.7 1690.8,285.5 1692.1,275.4 1693.4,282.1 1694.7,288.2 1696.0,291.5 1697.3,288.9 1698.6,281.0 1699.9,287.6 1701.2,278.4 1702.5,277.4 1703.8,273.1 1705.1,286.6 1706.4,285.6 1707.7,283.7 1709.0,279.4 1710.3,274.3 1711.6,284.0 1712.9,278.4 1714.2,289.2 1715.5,290.9 1716.8,286.9 1718.1,283.8 1719.4,275.9 1720.7,286.9 1722.0,291.5 1723.3,281.1 1724.6,290.3 1725.9,282.7 1727.2,293.5 1728.5,290.2 1729.8,287.2 1731.1,287.4 1732.4,281.0 1733.7,282.3 1735.0,285.4 1736.3,290.0 1737.6,286.3 1738.9,298.4 1740.2,293.7 1741.5,294.6 1742.8,295.3 1744.1,287.2 1745.4,287.1 1746.7,287.2 1748.0,291.6 1749.3,283.7 1750.6,284.1 1751.9,294.1 1753.2,292.9 1754.5,284.9 1755.8,279.7 1757.1,285.9 1758.4,294.4 1759.7,294.0 1761.0,283.1 1762.3,290.7 1763.6,292.5 1764.9,297.0 1766.2,289.9 1767.5,293.6 1768.8,289.7 1770.1,279.9 1771.4,281.4 1772.7,292.1 1774.0,284.0 1775.3,276.0 1776.6,288.5 1777.9,294.9 1779.2,285.6 1780.5,289.1 1781.8,292.1 1783.1,293.0 1784.4,280.9 1785.7,287.9 1787.0,283.2 1788.3,290.8 1789.6,282.8 1790.9,291.0 1792.2,284.6 1793.5,276.4 1794.8,279.4 1796.1,277.3 1797.4,284.3 1798.7,292.9 1800.0,283.8 1801.3,295.5 1802.6,280.0 1803.9,284.2 1805.2,279.5 1806.5,286.1 1807.8,274.2 1809.1,279.7 1810.4,279.4 1811.7,287.0 1813.0,280.5 1814.3,288.2 1815.6,286.0 1816.9,280.2 1818.2,279.1 1819.5,284.2 1820.8,285.9 1822.1,279.5 1823.4,279.7 1824.7,289.3 1826.0,285.7 1827.3,270.8 1828.6,277.1 1829.9,286.3 1831.2,281.4 1832.5,272.8 1833.8,275.6 1835.1,274.0 1836.4,276.4 1837.7,285.0 1839.0,279.1 1840.3,284.5 1841.6,286.2 1842.9,283.0 1844.2,277.3 1845.5,283.8 1846.8,279.5 1848.1,279.7 1849.4,269.0 1850.7,283.6 1852.0,273.1 1853.3,283.2 1854.6,272.3 1855.9,276.6 1857.2,276.6 1858.5,282.1 1859.8,276.9 1861.1,267.8 1862.4,273.2 1863.7,282.7"/>
<polyline fill="none" stroke="#8f922c" stroke-width="6.0" stroke-linejoin="round" points="32.0,334.9 33.3,356.4 34.6,382.8 35.9,374.4 37.2,369.5 38.5,372.5 39.8,379.0 41.1,374.4 42.4,383.7 43.7,370.4 45.0,386.6 46.3,382.3 47.6,380.9 48.9,387.0 50.2,388.1 51.5,393.7 52.8,379.9 54.1,379.1 55.4,394.0 56.7,376.3 58.0,369.9 59.3,398.5 60.6,381.4 61.9,377.8 63.2,396.6 64.5,385.2 65.8,384.5 67.1,389.1 68.4,374.8 69.7,394.8 71.0,386.7 72.3,381.3 73.6,396.7 74.9,399.9 76.2,381.9 77.5,392.9 78.8,392.2 80.1,396.9 81.4,397.7 82.7,385.4 84.0,400.3 85.3,397.3 86.6,396.7 87.9,399.4 89.2,389.1 90.5,396.3 91.8,403.2 93.1,387.8 94.4,404.7 95.7,392.4 97.0,391.7 98.3,389.5 99.6,401.4 100.9,386.4 102.2,406.7 103.5,394.5 104.8,404.8 106.1,393.7 107.4,398.7 108.7,397.4 110.0,390.1 111.3,406.0 112.6,405.8 113.9,403.1 115.2,408.4 116.5,399.8 117.8,417.4 119.1,402.8 120.4,419.7 121.7,411.2 123.0,417.1 124.3,422.5 125.6,421.2 126.9,414.3 128.2,406.1 129.5,408.8 130.8,408.4 132.1,410.7 133.4,407.6 134.7,424.8 136.0,413.7 137.3,415.6 138.6,420.3 139.9,423.5 141.2,426.9 142.5,421.0 143.8,415.4 145.1,425.5 146.4,427.0 147.7,413.3 149.0,422.9 150.3,421.8 151.6,424.5 152.9,421.1 154.2,421.6 155.5,422.9 156.8,421.9 158.1,422.3 159.4,423.4 160.7,413.0 162.0,421.6 163.3,428.8 164.6,426.0 165.9,423.6 167.2,415.3 168.5,428.2 169.8,419.2 171.1,427.0 172.4,422.8 173.7,421.3 175.0,434.3 176.3,421.1 177.6,426.4 178.9,420.4 180.2,424.8 181.5,414.2 182.8,425.4 184.1,432.6 185.4,426.2 186.7,432.0 188.0,431.9 189.3,429.1 190.6,433.0 191.9,430.5 193.2,429.7 194.5,424.1 195.8,427.6 197.1,415.1 198.4,420.2 199.7,428.9 201.0,422.5 202.3,422.9 203.6,426.7 204.9,409.0 206.2,415.7 207.5,414.2 208.8,418.5 210.1,407.2 211.4,407.8 212.7,408.7 214.0,407.6 215.3,403.4 216.6,395.0 217.9,394.8 219.2,401.3 220.5,387.3 221.8,377.7 223.1,377.6 224.4,376.0 225.7,371.4 227.0,372.8 228.3,378.5 229.6,361.0 230.9,364.9 232.2,363.4 233.5,365.8 234.8,365.5 236.1,339.6 237.4,342.5 238.7,355.1 240.0,334.8 241.3,339.7 242.6,335.9 243.9,347.0 245.2,352.4 246.5,352.9 247.8,341.0 249.1,352.3 250.4,357.8 251.7,372.1 253.0,368.0 254.3,378.7 255.6,370.2 256.9,374.0 258.2,379.0 259.5,375.4 260.8,381.9 262.1,394.7 263.4,386.8 264.7,397.7 266.0,394.1 267.3,386.4 268.6,397.3 269.9,412.1 271.2,404.7 272.5,416.0 273.8,402.2 275.1,406.7 276.4,422.0 277.7,423.8 279.0,424.5 280.3,428.1 281.6,429.7 282.9,428.6 284.2,428.3 285.5,430.9 286.8,435.5 288.1,436.8 289.4,446.5 290.7,441.5 292.0,448.2 293.3,437.9 294.6,432.7 295.9,439.8 297.2,443.8 298.5,444.5 299.8,444.8 301.1,439.4 302.4,438.6 303.7,443.8 305.0,435.2 306.3,447.5 307.6,449.9 308.9,447.9 310.2,437.7 311.5,438.2 312.8,453.2 314.1,443.5 315.4,438.2 316.7,437.0 318.0,437.8 319.3,433.1 320.6,441.1 321.9,443.6 323.2,433.3 324.5,425.1 325.8,438.3 327.1,429.5 328.4,431.6 329.7,432.3 331.0,426.7 332.3,438.5 333.6,424.4 334.9,432.0 336.2,426.8 337.5,439.1 338.8,438.3 340.1,442.1 341.4,433.2 342.7,439.8 344.0,446.8 345.3,433.0 346.6,439.7 347.9,446.3 349.2,450.5 350.5,443.1 351.8,448.4 353.1,446.3 354.4,442.2 355.7,451.0 357.0,448.1 358.3,452.6 359.6,448.7 360.9,449.9 362.2,452.7 363.5,453.4 364.8,449.0 366.1,445.7 367.4,444.4 368.7,456.7 370.0,461.4 371.3,446.1 372.6,448.1 373.9,446.9 375.2,455.2 376.5,454.5 377.8,458.9 379.1,448.2 380.4,455.9 381.7,446.4 383.0,456.3 384.3,455.3 385.6,457.0 386.9,452.7 388.2,450.3 389.5,449.1 390.8,438.0 392.1,449.2 393.4,454.0 394.7,451.7 396.0,440.1 397.3,446.4 398.6,441.7 399.9,443.8 401.2,440.2 402.5,450.2 403.8,451.6 405.1,443.6 406.4,439.6 407.7,445.8 409.0,444.5 410.3,444.3 411.6,430.3 412.9,431.6 414.2,436.3 415.5,430.7 416.8,440.9 418.1,441.9 419.4,435.1 420.7,438.3 422.0,437.5 423.3,429.1 424.6,435.8 425.9,442.7 427.2,428.1 428.5,434.8 429.8,449.0 431.1,435.5 432.4,437.0 433.7,436.9 435.0,439.7 436.3,441.9 437.6,442.3 438.9,456.0 440.2,443.6 441.5,455.7 442.8,437.0 444.1,455.3 445.4,445.3 446.7,448.8 448.0,435.7 449.3,441.8 450.6,441.1 451.9,442.1 453.2,447.5 454.5,428.9 455.8,434.7 457.1,439.1 458.4,422.7 459.7,438.8 461.0,427.8 462.3,427.7 463.6,425.3 464.9,433.8 466.2,424.7 467.5,428.5 468.8,429.7 470.1,423.4 471.4,441.4 472.7,434.4 474.0,437.5 475.3,435.3 476.6,430.9 477.9,428.1 479.2,426.2 480.5,428.1 481.8,436.6 483.1,435.5 484.4,431.1 485.7,431.2 487.0,437.0 488.3,442.5 489.6,424.6 490.9,421.0 492.2,435.4 493.5,430.2 494.8,428.1 496.1,431.7 497.4,438.4 498.7,421.6 500.0,436.1 501.3,433.8 502.6,428.3 503.9,425.4 505.2,422.5 506.5,428.8 507.8,429.2 509.1,437.2 510.4,439.8 511.7,437.9 513.0,448.4 514.3,441.0 515.6,446.9 516.9,437.7 518.2,442.4 519.5,447.5 520.8,441.7 522.1,439.1 523.4,437.3 524.7,451.6 526.0,440.9 527.3,438.0 528.6,455.2 529.9,455.5 531.2,447.7 532.5,447.1 533.8,454.3 535.1,457.8 536.4,451.6 537.7,455.9 539.0,451.1 540.3,457.6 541.6,451.0 542.9,446.1 544.2,446.2 545.5,453.7 546.8,456.7 548.1,457.6 549.4,460.0 550.7,451.2 552.0,456.0 553.3,449.9 554.6,451.6 555.9,450.2 557.2,462.3 558.5,448.1 559.8,449.6 561.1,462.8 562.4,459.5 563.7,458.2 565.0,461.4 566.3,463.8 567.6,456.2 568.9,454.0 570.2,455.4 571.5,459.5 572.8,453.7 574.1,458.4 575.4,467.1 576.7,466.2 578.0,453.8 579.3,459.7 580.6,455.2 581.9,452.0 583.2,453.4 584.5,450.7 585.8,460.1 587.1,454.2 588.4,452.2 589.7,448.7 591.0,445.8 592.3,443.5 593.6,445.5 594.9,454.4 596.2,446.0 597.5,447.4 598.8,441.2 600.1,451.8 601.4,451.5 602.7,442.7 604.0,444.9 605.3,446.5 606.6,448.6 607.9,448.8 609.2,448.7 610.5,453.0 611.8,453.6 613.1,445.6 614.4,452.3 615.7,443.6 617.0,451.3 618.3,458.9 619.6,456.6 620.9,455.2 622.2,450.1 623.5,457.9 624.8,460.0 626.1,455.3 627.4,467.4 628.7,454.4 630.0,453.9 631.3,463.2 632.6,456.4 633.9,457.5 635.2,459.8 636.5,462.2 637.8,457.8 639.1,452.5 640.4,456.3 641.7,461.3 643.0,461.5 644.3,451.8 645.6,452.9 646.9,457.8 648.2,467.4 649.5,457.7 650.8,458.4 652.1,464.9 653.4,463.8 654.7,458.1 656.0,462.2 657.3,454.0 658.6,463.2 659.9,455.4 661.2,465.1 662.5,469.2 663.8,468.3 665.1,461.1 666.4,463.3 667.7,465.9 669.0,457.2 670.3,458.9 671.6,455.3 672.9,458.1 674.2,464.5 675.5,453.1 676.8,460.7 678.1,453.0 679.4,465.9 680.7,460.3 682.0,467.8 683.3,456.3 684.6,457.1 685.9,456.4 687.2,465.8 688.5,464.7 689.8,461.0 691.1,455.9 692.4,451.8 693.7,457.8 695.0,464.8 696.3,465.7 697.6,462.6 698.9,456.9 700.2,459.7 701.5,465.9 702.8,458.4 704.1,458.8 705.4,462.2 706.7,464.6 708.0,453.8 709.3,462.0 710.6,453.0 711.9,453.6 713.2,461.6 714.5,455.7 715.8,462.9 717.1,454.1 718.4,451.5 719.7,452.1 721.0,446.7 722.3,444.8 723.6,452.3 724.9,435.5 726.2,431.4 727.5,436.9 728.8,424.6 730.1,432.7 731.4,421.7 732.7,417.9 734.0,433.2 735.3,419.2 736.6,429.3 737.9,421.4 739.2,418.5 740.5,407.0 741.8,412.6 743.1,402.8 744.4,395.8 745.7,402.8 747.0,397.0 748.3,397.8 749.6,394.6 750.9,399.3 752.2,396.2 753.5,402.1 754.8,395.4 756.1,404.7 757.4,406.4 758.7,401.6 760.0,406.4 761.3,404.1 762.6,414.0 763.9,409.9 765.2,420.9 766.5,427.8 767.8,425.0 769.1,427.5 770.4,431.2 771.7,447.9 773.0,452.4 774.3,453.9 775.6,456.5 776.9,460.9 778.2,445.0 779.5,461.9 780.8,452.1 782.1,459.9 783.4,446.8 784.7,456.7 786.0,445.0 787.3,459.3 788.6,456.9 789.9,455.8 791.2,450.6 792.5,445.6 793.8,459.1 795.1,445.8 796.4,446.1 797.7,447.0 799.0,437.6 800.3,450.5 801.6,441.6 802.9,437.0 804.2,447.0 805.5,452.4 806.8,447.1 808.1,446.4 809.4,443.2 810.7,440.5 812.0,446.1 813.3,447.2 814.6,449.9 815.9,450.2 817.2,457.2 818.5,455.0 819.8,455.9 821.1,447.0 822.4,449.9 823.7,444.1 825.0,456.6 826.3,444.0 827.6,452.7 828.9,447.8 830.2,449.7 831.5,453.0 832.8,445.7 834.1,451.2 835.4,453.5 836.7,453.2 838.0,449.5 839.3,453.0 840.6,453.8 841.9,449.8 843.2,451.7 844.5,460.9 845.8,454.1 847.1,457.5 848.4,462.0 849.7,451.3 851.0,457.6 852.3,453.0 853.6,461.3 854.9,458.1 856.2,461.0 857.5,452.4 858.8,456.1 860.1,455.8 861.4,460.8 862.7,458.2 864.0,457.6 865.3,465.0 866.6,456.0 867.9,455.4 869.2,458.3 870.5,465.2 871.8,466.3 873.1,460.1 874.4,456.1 875.7,461.8 877.0,451.9 878.3,463.4 879.6,454.2 880.9,451.1 882.2,453.1 883.5,464.0 884.8,462.2 886.1,454.3 887.4,468.0 888.7,466.3 890.0,453.8 891.3,451.8 892.6,452.0 893.9,456.2 895.2,452.7 896.5,451.4 897.8,453.1 899.1,460.2 900.4,446.7 901.7,460.1 903.0,453.3 904.3,458.6 905.6,452.9 906.9,459.6 908.2,449.4 909.5,444.7 910.8,449.4 912.1,450.7 913.4,446.4 914.7,443.2 916.0,443.9 917.3,447.2 918.6,449.6 919.9,456.2 921.2,441.6 922.5,452.6 923.8,450.4 925.1,441.8 926.4,439.2 927.7,446.7 929.0,449.7 930.3,444.9 931.6,447.5 932.9,444.7 934.2,442.8 935.5,434.4 936.8,437.8 938.1,447.1 939.4,435.0 940.7,433.8 942.0,435.9 943.3,433.9 944.6,436.3 945.9,439.4 947.2,440.8 948.5,441.7 949.8,439.3 951.1,441.4 952.4,439.2 953.7,434.2 955.0,433.3 956.3,442.6 957.6,433.6 958.9,437.9 960.2,440.0 961.5,436.3 962.8,428.7 964.1,429.0 965.4,431.6 966.7,433.6 968.0,441.2 969.3,430.1 970.6,436.5 971.9,433.8 973.2,439.5 974.5,436.8 975.8,441.0 977.1,438.1 978.4,445.1 979.7,440.0 981.0,451.8 982.3,446.5 983.6,451.1 984.9,442.4 986.2,438.7 987.5,444.2 988.8,449.8 990.1,441.9 991.4,451.4 992.7,444.7 994.0,451.4 995.3,449.4 996.6,454.7 997.9,443.3 999.2,448.5 1000.5,454.5 1001.8,455.2 1003.1,451.0 1004.4,447.1 1005.7,447.0 1007.0,446.3 1008.3,458.3 1009.6,457.8 1010.9,448.3 1012.2,454.4 1013.5,455.2 1014.8,457.9 1016.1,445.3 1017.4,452.6 1018.7,462.3 1020.0,450.5 1021.3,455.5 1022.6,461.3 1023.9,463.6 1025.2,450.1 1026.5,462.6 1027.8,461.9 1029.1,451.3 1030.4,463.8 1031.7,449.9 1033.0,459.2 1034.3,454.4 1035.6,454.5 1036.9,462.1 1038.2,450.5 1039.5,465.0 1040.8,453.8 1042.1,447.6 1043.4,454.5 1044.7,452.2 1046.0,457.2 1047.3,447.0 1048.6,456.0 1049.9,456.9 1051.2,461.5 1052.5,449.5 1053.8,446.9 1055.1,450.2 1056.4,451.2 1057.7,453.9 1059.0,449.4 1060.3,448.6 1061.6,446.0 1062.9,453.9 1064.2,451.6 1065.5,441.7 1066.8,440.7 1068.1,442.1 1069.4,447.9 1070.7,440.2 1072.0,436.9 1073.3,442.4 1074.6,443.7 1075.9,440.2 1077.2,445.7 1078.5,437.2 1079.8,432.5 1081.1,444.3 1082.4,441.2 1083.7,443.7 1085.0,451.7 1086.3,443.9 1087.6,450.4 1088.9,446.7 1090.2,447.8 1091.5,448.2 1092.8,454.6 1094.1,442.1 1095.4,449.8 1096.7,451.1 1098.0,453.2 1099.3,445.4 1100.6,454.8 1101.9,446.5 1103.2,449.7 1104.5,453.6 1105.8,457.0 1107.1,455.8 1108.4,456.3 1109.7,454.0 1111.0,455.4 1112.3,459.1 1113.6,453.6 1114.9,454.5 1116.2,452.7 1117.5,455.4 1118.8,460.1 1120.1,456.8 1121.4,444.9 1122.7,452.2 1124.0,448.6 1125.3,449.4 1126.6,448.1 1127.9,459.3 1129.2,446.2 1130.5,452.8 1131.8,458.9 1133.1,448.1 1134.4,450.2 1135.7,443.2 1137.0,447.1 1138.3,453.6 1139.6,447.6 1140.9,449.1 1142.2,440.0 1143.5,453.1 1144.8,453.3 1146.1,447.6 1147.4,442.6 1148.7,457.0 1150.0,446.5 1151.3,448.0 1152.6,441.6 1153.9,456.4 1155.2,451.1 1156.5,447.4 1157.8,444.7 1159.1,446.2 1160.4,449.4 1161.7,452.4 1163.0,455.7 1164.3,440.6 1165.6,454.3 1166.9,456.0 1168.2,447.3 1169.5,456.1 1170.8,455.4 1172.1,455.1 1173.4,442.7 1174.7,452.7 1176.0,455.5 1177.3,452.4 1178.6,440.2 1179.9,452.9 1181.2,449.1 1182.5,447.6 1183.8,448.6 1185.1,448.6 1186.4,452.2 1187.7,446.4 1189.0,457.4 1190.3,452.5 1191.6,452.1 1192.9,453.8 1194.2,453.6 1195.5,453.6 1196.8,463.6 1198.1,452.5 1199.4,466.4 1200.7,454.8 1202.0,468.2 1203.3,449.7 1204.6,448.6 1205.9,463.0 1207.2,450.0 1208.5,458.0 1209.8,456.8 1211.1,453.3 1212.4,447.7 1213.7,456.5 1215.0,460.1 1216.3,461.2 1217.6,456.7 1218.9,452.8 1220.2,455.9 1221.5,447.0 1222.8,455.3 1224.1,459.7 1225.4,447.3 1226.7,454.2 1228.0,452.6 1229.3,453.7 1230.6,443.3 1231.9,444.1 1233.2,444.0 1234.5,446.8 1235.8,448.5 1237.1,447.7 1238.4,452.3 1239.7,455.0 1241.0,447.0 1242.3,454.0 1243.6,442.9 1244.9,452.4 1246.2,449.5 1247.5,456.4 1248.8,454.0 1250.1,444.1 1251.4,451.5 1252.7,445.1 1254.0,451.0 1255.3,441.1 1256.6,448.0 1257.9,446.9 1259.2,446.1 1260.5,441.0 1261.8,445.2 1263.1,436.9 1264.4,441.6 1265.7,437.1 1267.0,439.9 1268.3,443.7 1269.6,443.9 1270.9,444.4 1272.2,447.7 1273.5,436.7 1274.8,445.0 1276.1,447.3 1277.4,440.3 1278.7,445.3 1280.0,453.0 1281.3,443.2 1282.6,449.9 1283.9,444.7 1285.2,438.4 1286.5,442.1 1287.8,443.5 1289.1,444.4 1290.4,449.4 1291.7,438.2 1293.0,442.6 1294.3,446.6 1295.6,442.4 1296.9,441.0 1298.2,447.2 1299.5,440.5 1300.8,439.6 1302.1,440.8 1303.4,449.5 1304.7,430.9 1306.0,436.3 1307.3,434.7 1308.6,438.2 1309.9,447.3 1311.2,437.9 1312.5,446.2 1313.8,440.8 1315.1,432.5 1316.4,450.9 1317.7,445.3 1319.0,437.0 1320.3,444.0 1321.6,437.9 1322.9,433.7 1324.2,439.3 1325.5,448.1 1326.8,442.3 1328.1,445.4 1329.4,443.8 1330.7,441.9 1332.0,439.6 1333.3,451.3 1334.6,441.0 1335.9,452.4 1337.2,451.5 1338.5,449.7 1339.8,449.1 1341.1,446.4 1342.4,455.3 1343.7,445.0 1345.0,441.8 1346.3,445.7 1347.6,448.0 1348.9,456.6 1350.2,448.2 1351.5,453.2 1352.8,436.6 1354.1,442.6 1355.4,444.9 1356.7,452.6 1358.0,451.6 1359.3,443.9 1360.6,447.1 1361.9,449.4 1363.2,442.0 1364.5,452.3 1365.8,443.4 1367.1,449.2 1368.4,447.1 1369.7,442.5 1371.0,440.4 1372.3,437.7 1373.6,438.5 1374.9,443.8 1376.2,443.7 1377.5,444.4 1378.8,439.5 1380.1,454.4 1381.4,443.8 1382.7,447.1 1384.0,449.9 1385.3,439.5 1386.6,449.5 1387.9,434.5 1389.2,436.7 1390.5,437.8 1391.8,442.0 1393.1,449.2 1394.4,437.9 1395.7,446.4 1397.0,446.7 1398.3,450.2 1399.6,446.6 1400.9,441.6 1402.2,436.3 1403.5,442.4 1404.8,448.8 1406.1,453.4 1407.4,447.9 1408.7,441.6 1410.0,448.1 1411.3,443.6 1412.6,444.2 1413.9,447.7 1415.2,446.0 1416.5,448.0 1417.8,447.6 1419.1,453.3 1420.4,450.6 1421.7,449.0 1423.0,444.3 1424.3,442.4 1425.6,451.1 1426.9,439.7 1428.2,453.1 1429.5,441.2 1430.8,453.3 1432.1,441.0 1433.4,442.6 1434.7,443.8 1436.0,443.0 1437.3,442.4 1438.6,449.5 1439.9,436.8 1441.2,446.6 1442.5,441.1 1443.8,443.4 1445.1,446.9 1446.4,443.3 1447.7,433.9 1449.0,445.3 1450.3,443.1 1451.6,439.9 1452.9,445.2 1454.2,448.2 1455.5,441.3 1456.8,439.3 1458.1,436.4 1459.4,437.0 1460.7,439.9 1462.0,447.3 1463.3,444.9 1464.6,450.9 1465.9,445.8 1467.2,444.4 1468.5,442.6 1469.8,443.5 1471.1,448.0 1472.4,453.5 1473.7,450.6 1475.0,450.2 1476.3,446.4 1477.6,452.1 1478.9,450.3 1480.2,448.3 1481.5,459.4 1482.8,462.1 1484.1,458.0 1485.4,459.6 1486.7,450.2 1488.0,456.9 1489.3,453.6 1490.6,455.8 1491.9,459.8 1493.2,455.5 1494.5,450.6 1495.8,452.2 1497.1,455.9 1498.4,464.2 1499.7,456.1 1501.0,458.7 1502.3,447.2 1503.6,455.0 1504.9,465.1 1506.2,461.5 1507.5,455.3 1508.8,458.8 1510.1,460.4 1511.4,461.3 1512.7,460.0 1514.0,460.8 1515.3,461.2 1516.6,453.7 1517.9,462.6 1519.2,461.4 1520.5,452.6 1521.8,457.2 1523.1,454.1 1524.4,461.6 1525.7,458.7 1527.0,466.8 1528.3,453.3 1529.6,456.2 1530.9,453.7 1532.2,458.1 1533.5,461.6 1534.8,453.1 1536.1,461.8 1537.4,462.6 1538.7,450.5 1540.0,461.9 1541.3,452.9 1542.6,459.9 1543.9,454.6 1545.2,453.0 1546.5,457.5 1547.8,465.5 1549.1,448.9 1550.4,452.5 1551.7,459.4 1553.0,462.6 1554.3,456.1 1555.6,463.4 1556.9,460.9 1558.2,457.6 1559.5,455.8 1560.8,451.0 1562.1,456.4 1563.4,450.2 1564.7,456.2 1566.0,466.3 1567.3,450.9 1568.6,446.0 1569.9,454.1 1571.2,456.0 1572.5,458.8 1573.8,460.5 1575.1,450.7 1576.4,457.3 1577.7,448.1 1579.0,458.2 1580.3,449.6 1581.6,456.9 1582.9,444.3 1584.2,454.1 1585.5,457.3 1586.8,452.8 1588.1,450.4 1589.4,449.0 1590.7,458.0 1592.0,446.1 1593.3,443.8 1594.6,443.8 1595.9,454.2 1597.2,453.6 1598.5,449.3 1599.8,458.2 1601.1,449.9 1602.4,444.4 1603.7,452.3 1605.0,453.7 1606.3,446.7 1607.6,451.7 1608.9,440.7 1610.2,442.2 1611.5,453.1 1612.8,445.7 1614.1,453.2 1615.4,450.6 1616.7,442.2 1618.0,442.5 1619.3,453.7 1620.6,442.5 1621.9,438.9 1623.2,453.5 1624.5,436.7 1625.8,445.4 1627.1,449.2 1628.4,452.1 1629.7,440.1 1631.0,433.0 1632.3,441.5 1633.6,444.7 1634.9,444.5 1636.2,439.9 1637.5,443.9 1638.8,441.6 1640.1,442.5 1641.4,451.1 1642.7,447.2 1644.0,444.8 1645.3,456.8 1646.6,444.0 1647.9,452.8 1649.2,458.3 1650.5,450.8 1651.8,439.7 1653.1,442.8 1654.4,455.6 1655.7,455.8 1657.0,456.3 1658.3,445.3 1659.6,448.0 1660.9,459.1 1662.2,454.8 1663.5,453.4 1664.8,454.3 1666.1,463.9 1667.4,446.4 1668.7,456.8 1670.0,452.6 1671.3,455.7 1672.6,454.9 1673.9,457.9 1675.2,447.0 1676.5,448.6 1677.8,446.6 1679.1,454.5 1680.4,450.1 1681.7,457.3 1683.0,445.9 1684.3,447.8 1685.6,444.6 1686.9,444.1 1688.2,458.3 1689.5,454.5 1690.8,451.0 1692.1,451.5 1693.4,455.0 1694.7,454.3 1696.0,444.4 1697.3,454.7 1698.6,455.1 1699.9,445.7 1701.2,453.3 1702.5,447.2 1703.8,450.7 1705.1,459.4 1706.4,454.9 1707.7,449.8 1709.0,458.0 1710.3,451.0 1711.6,458.1 1712.9,454.5 1714.2,461.5 1715.5,454.3 1716.8,457.1 1718.1,457.4 1719.4,461.6 1720.7,465.0 1722.0,451.7 1723.3,462.3 1724.6,457.8 1725.9,449.5 1727.2,452.3 1728.5,458.7 1729.8,455.4 1731.1,464.3 1732.4,464.3 1733.7,461.1 1735.0,466.8 1736.3,466.3 1737.6,465.2 1738.9,465.1 1740.2,465.7 1741.5,452.6 1742.8,460.5 1744.1,458.4 1745.4,458.2 1746.7,450.1 1748.0,459.3 1749.3,452.8 1750.6,456.7 1751.9,447.6 1753.2,460.5 1754.5,464.9 1755.8,458.1 1757.1,452.2 1758.4,453.4 1759.7,462.6 1761.0,456.8 1762.3,449.4 1763.6,450.5 1764.9,450.3 1766.2,456.5 1767.5,459.2 1768.8,457.8 1770.1,457.8 1771.4,448.0 1772.7,451.2 1774.0,455.8 1775.3,450.7 1776.6,462.1 1777.9,451.7 1779.2,452.5 1780.5,459.5 1781.8,451.8 1783.1,447.0 1784.4,444.0 1785.7,456.8 1787.0,452.6 1788.3,450.5 1789.6,458.6 1790.9,457.6 1792.2,444.9 1793.5,444.6 1794.8,457.2 1796.1,452.0 1797.4,454.1 1798.7,452.3 1800.0,441.8 1801.3,450.5 1802.6,442.8 1803.9,440.7 1805.2,442.3 1806.5,453.6 1807.8,453.3 1809.1,451.4 1810.4,451.5 1811.7,442.4 1813.0,447.7 1814.3,447.8 1815.6,449.4 1816.9,451.4 1818.2,439.3 1819.5,458.7 1820.8,442.8 1822.1,445.0 1823.4,446.8 1824.7,460.6 1826.0,440.9 1827.3,446.7 1828.6,445.7 1829.9,449.6 1831.2,449.2 1832.5,442.6 1833.8,439.9 1835.1,449.4 1836.4,448.7 1837.7,451.9 1839.0,457.5 1840.3,444.9 1841.6,453.5 1842.9,443.1 1844.2,440.6 1845.5,455.0 1846.8,443.3 1848.1,441.3 1849.4,446.8 1850.7,441.7 1852.0,451.5 1853.3,449.7 1854.6,453.3 1855.9,451.8 1857.2,441.9 1858.5,443.1 1859.8,441.0 1861.1,445.0 1862.4,431.8 1863.7,438.2"/>
<polyline fill="none" stroke="#7a4f50" stroke-width="6.0" stroke-linejoin="round" points="32.0,532.4 33.3,508.8 34.6,521.1 35.9,499.0 37.2,517.2 38.5,510.6 39.8,517.1 41.1,507.2 42.4,531.8 43.7,530.5 45.0,536.8 46.3,518.6 47.6,522.0 48.9,536.7 50.2,540.3 51.5,521.4 52.8,548.3 54.1,543.3 55.4,519.5 56.7,527.0 58.0,537.3 59.3,534.3 60.6,540.9 61.9,516.3 63.2,533.8 64.5,537.8 65.8,526.7 67.1,552.6 68.4,529.3 69.7,530.2 71.0,533.0 72.3,535.8 73.6,555.0 74.9,540.2 76.2,529.0 77.5,544.5 78.8,542.4 80.1,540.8 81.4,535.3 82.7,525.4 84.0,543.6 85.3,548.9 86.6,528.3 87.9,536.7 89.2,531.9 90.5,535.5 91.8,537.9 93.1,552.0 94.4,547.2 95.7,537.5 97.0,540.1 98.3,527.8 99.6,554.1 100.9,542.6 102.2,557.7 103.5,543.2 104.8,540.7 106.1,536.9 107.4,561.5 108.7,546.8 110.0,539.4 111.3,555.0 112.6,555.9 113.9,536.1 115.2,536.4 116.5,562.6 117.8,531.3 119.1,548.6 120.4,555.8 121.7,564.9 123.0,543.6 124.3,542.3 125.6,553.0 126.9,556.1 128.2,543.3 129.5,557.0 130.8,546.1 132.1,561.9 133.4,557.1 134.7,563.4 136.0,549.0 137.3,561.9 138.6,555.9 139.9,559.6 141.2,554.8 142.5,571.8 143.8,562.0 145.1,574.4 146.4,558.7 147.7,554.7 149.0,551.4 150.3,567.6 151.6,566.7 152.9,562.0 154.2,579.6 155.5,573.0 156.8,571.4 158.1,574.3 159.4,589.4 160.7,573.9 162.0,569.5 163.3,572.2 164.6,577.4 165.9,570.7 167.2,587.2 168.5,572.3 169.8,573.5 171.1,585.1 172.4,563.7 173.7,571.7 175.0,571.3 176.3,572.2 177.6,592.6 178.9,584.4 180.2,594.0 181.5,583.9 182.8,563.6 184.1,574.5 185.4,576.6 186.7,592.7 188.0,579.2 189.3,577.5 190.6,588.2 191.9,579.3 193.2,588.3 194.5,581.1 195.8,587.4 197.1,591.4 198.4,577.9 199.7,578.8 201.0,583.8 202.3,591.0 203.6,584.2 204.9,571.1 206.2,579.2 207.5,576.2 208.8,560.8 210.1,584.0 211.4,560.3 212.7,582.6 214.0,559.0 215.3,564.4 216.6,554.9 217.9,555.5 219.2,558.7 220.5,555.2 221.8,543.8 223.1,541.5 224.4,529.7 225.7,536.4 227.0,522.1 228.3,533.5 229.6,519.5 230.9,510.8 232.2,518.4 233.5,500.6 234.8,517.5 236.1,508.4 237.4,497.8 238.7,501.1 240.0,504.0 241.3,506.0 242.6,508.8 243.9,494.4 245.2,498.6 246.5,501.6 247.8,498.2 249.1,494.7 250.4,509.4 251.7,507.9 253.0,500.7 254.3,503.3 255.6,511.4 256.9,506.7 258.2,498.7 259.5,511.3 260.8,497.6 262.1,520.6 263.4,529.2 264.7,523.8 266.0,534.9 267.3,516.9 268.6,539.1 269.9,527.2 271.2,545.5 272.5,529.3 273.8,536.1 275.1,534.1 276.4,529.5 277.7,550.8 279.0,559.0 280.3,546.6 281.6,564.4 282.9,549.0 284.2,569.7 285.5,548.2 286.8,574.1 288.1,573.0 289.4,570.7 290.7,583.3 292.0,587.1 293.3,579.3 294.6,594.6 295.9,577.2 297.2,590.2 298.5,587.4 299.8,600.3 301.1,597.6 302.4,591.6 303.7,609.7 305.0,579.3 306.3,600.9 307.6,593.2 308.9,601.6 310.2,586.7 311.5,590.2 312.8,586.6 314.1,603.9 315.4,586.2 316.7,593.2 318.0,597.7 319.3,588.1 320.6,594.0 321.9,593.1 323.2,604.6 324.5,597.3 325.8,605.7 327.1,596.8 328.4,591.3 329.7,592.6 331.0,599.6 332.3,598.8 333.6,586.4 334.9,587.4 336.2,584.4 337.5,594.6 338.8,582.2 340.1,593.3 341.4,591.5 342.7,601.8 344.0,591.4 345.3,603.6 346.6,591.9 347.9,590.9 349.2,585.8 350.5,603.0 351.8,593.8 353.1,597.2 354.4,608.5 355.7,595.3 357.0,597.6 358.3,598.8 359.6,598.7 360.9,607.4 362.2,592.0 363.5,599.7 364.8,598.6 366.1,602.6 367.4,605.7 368.7,593.8 370.0,599.6 371.3,593.6 372.6,603.8 373.9,609.0 375.2,613.0 376.5,619.5 377.8,605.6 379.1,600.8 380.4,596.9 381.7,613.6 383.0,611.2 384.3,612.6 385.6,605.6 386.9,609.6 388.2,601.7 389.5,610.9 390.8,598.5 392.1,607.9 393.4,600.5 394.7,600.6 396.0,603.7 397.3,600.8 398.6,590.4 399.9,586.3 401.2,598.0 402.5,589.5 403.8,600.5 405.1,595.1 406.4,606.0 407.7,604.8 409.0,596.6 410.3,599.6 411.6,593.1 412.9,596.9 414.2,594.8 415.5,586.0 416.8,593.2 418.1,593.2 419.4,582.6 420.7,579.8 422.0,590.8 423.3,600.6 424.6,588.9 425.9,583.5 427.2,601.8 428.5,591.8 429.8,588.3 431.1,577.8 432.4,589.9 433.7,602.9 435.0,588.8 436.3,597.8 437.6,604.5 438.9,577.3 440.2,592.2 441.5,578.7 442.8,591.6 444.1,601.5 445.4,585.7 446.7,601.5 448.0,583.9 449.3,593.9 450.6,595.8 451.9,596.4 453.2,585.0 454.5,602.0 455.8,582.1 457.1,582.6 458.4,595.5 459.7,590.2 461.0,586.7 462.3,593.0 463.6,599.8 464.9,589.5 466.2,600.2 467.5,576.6 468.8,597.9 470.1,587.2 471.4,585.3 472.7,585.9 474.0,586.8 475.3,584.4 476.6,590.2 477.9,589.5 479.2,579.2 480.5,584.7 481.8,580.9 483.1,594.6 484.4,583.9 485.7,585.9 487.0,575.1 488.3,589.9 489.6,581.4 490.9,591.5 492.2,585.0 493.5,584.2 494.8,591.7 496.1,595.4 497.4,591.5 498.7,585.2 500.0,586.3 501.3,596.7 502.6,573.4 503.9,589.4 505.2,580.1 506.5,589.2 507.8,578.3 509.1,586.7 510.4,589.2 511.7,591.8 513.0,598.6 514.3,591.1 515.6,590.6 516.9,599.8 518.2,594.0 519.5,601.4 520.8,594.9 522.1,584.8 523.4,604.6 524.7,598.0 526.0,611.6 527.3,596.3 528.6,601.8 529.9,602.7 531.2,604.9 532.5,593.0 533.8,605.8 535.1,594.4 536.4,596.4 537.7,613.1 539.0,598.0 540.3,596.1 541.6,598.7 542.9,612.9 544.2,614.4 545.5,609.7 546.8,612.7 548.1,599.0 549.4,607.0 550.7,615.7 552.0,604.9 553.3,612.9 554.6,614.8 555.9,605.8 557.2,612.9 558.5,597.0 559.8,605.0 561.1,607.9 562.4,604.9 563.7,616.2 565.0,617.7 566.3,601.8 567.6,615.0 568.9,599.8 570.2,611.8 571.5,620.6 572.8,602.3 574.1,607.2 575.4,605.4 576.7,613.6 578.0,618.2 579.3,605.6 580.6,606.4 581.9,612.2 583.2,619.9 584.5,611.7 585.8,615.2 587.1,613.7 588.4,607.8 589.7,614.8 591.0,601.2 592.3,603.3 593.6,613.9 594.9,613.4 596.2,608.1 597.5,601.5 598.8,601.3 600.1,614.3 601.4,603.7 602.7,596.4 604.0,599.0 605.3,603.3 606.6,611.7 607.9,602.6 609.2,591.2 610.5,603.4 611.8,602.8 613.1,597.8 614.4,611.6 615.7,605.2 617.0,612.0 618.3,603.2 619.6,607.8 620.9,606.1 622.2,612.4 623.5,614.9 624.8,601.4 626.1,613.4 627.4,615.5 628.7,606.9 630.0,602.2 631.3,609.0 632.6,612.2 633.9,606.4 635.2,601.4 636.5,607.1 637.8,618.1 639.1,616.3 640.4,615.7 641.7,613.3 643.0,619.3 644.3,613.8 645.6,618.7 646.9,608.9 648.2,622.9 649.5,610.3 650.8,626.5 652.1,623.3 653.4,622.4 654.7,621.2 656.0,616.1 657.3,618.7 658.6,612.1 659.9,620.1 661.2,620.0 662.5,615.7 663.8,623.7 665.1,623.9 666.4,612.5 667.7,620.4 669.0,610.4 670.3,620.4 671.6,614.3 672.9,616.7 674.2,627.7 675.5,609.5 676.8,622.0 678.1,617.2 679.4,606.8 680.7,623.3 682.0,613.5 683.3,620.2 684.6,615.8 685.9,614.4 687.2,607.9 688.5,611.3 689.8,618.1 691.1,609.5 692.4,607.1 693.7,611.4 695.0,615.8 696.3,606.7 697.6,606.2 698.9,623.0 700.2,606.8 701.5,615.7 702.8,619.0 704.1,608.7 705.4,615.0 706.7,608.1 708.0,617.7 709.3,618.9 710.6,606.5 711.9,621.0 713.2,617.7 714.5,623.0 715.8,604.3 717.1,620.0 718.4,615.4 719.7,611.5 721.0,607.0 722.3,618.0 723.6,611.3 724.9,611.7 726.2,617.7 727.5,615.1 728.8,604.3 730.1,603.5 731.4,606.2 732.7,606.8 734.0,585.2 735.3,595.4 736.6,594.1 737.9,591.2 739.2,583.9 740.5,584.3 741.8,565.7 743.1,582.0 744.4,572.1 745.7,570.3 747.0,570.5 748.3,565.6 749.6,559.5 750.9,551.7 752.2,546.8 753.5,547.2 754.8,555.7 756.1,557.8 757.4,551.7 758.7,546.7 760.0,554.0 761.3,559.1 762.6,558.3 763.9,557.0 765.2,565.0 766.5,555.9 767.8,554.4 769.1,567.2 770.4,579.0 771.7,578.5 773.0,568.6 774.3,576.1 775.6,570.0 776.9,589.7 778.2,571.5 779.5,580.3 780.8,591.7 782.1,582.2 783.4,589.7 784.7,592.1 786.0,600.6 787.3,603.3 788.6,592.8 789.9,608.1 791.2,606.9 792.5,587.1 793.8,591.1 795.1,599.9 796.4,608.4 797.7,587.5 799.0,595.0 800.3,593.2 801.6,601.7 802.9,590.4 804.2,603.5 805.5,597.1 806.8,596.4 808.1,589.5 809.4,598.3 810.7,606.9 812.0,587.8 813.3,591.8 814.6,592.4 815.9,599.4 817.2,608.5 818.5,594.0 819.8,603.8 821.1,586.4 822.4,590.9 823.7,595.4 825.0,591.9 826.3,598.6 827.6,608.4 828.9,603.5 830.2,607.8 831.5,596.4 832.8,600.9 834.1,597.2 835.4,597.0 836.7,593.1 838.0,604.4 839.3,612.3 840.6,609.2 841.9,611.3 843.2,603.7 844.5,596.4 845.8,598.4 847.1,611.4 848.4,607.6 849.7,613.9 851.0,595.1 852.3,600.6 853.6,613.4 854.9,595.7 856.2,607.7 857.5,604.3 858.8,610.2 860.1,598.4 861.4,606.9 862.7,603.8 864.0,607.0 865.3,603.4 866.6,614.5 867.9,616.8 869.2,610.1 870.5,613.3 871.8,616.3 873.1,612.8 874.4,614.1 875.7,596.5 877.0,611.7 878.3,609.1 879.6,610.5 880.9,608.1 882.2,603.2 883.5,611.6 884.8,618.2 886.1,609.8 887.4,607.5 888.7,614.2 890.0,611.9 891.3,607.7 892.6,607.0 893.9,607.6 895.2,599.7 896.5,616.7 897.8,601.5 899.1,601.5 900.4,619.4 901.7,600.3 903.0,600.6 904.3,601.6 905.6,607.7 906.9,597.7 908.2,600.0 909.5,600.4 910.8,598.3 912.1,602.3 913.4,596.8 914.7,608.2 916.0,593.0 917.3,603.7 918.6,596.0 919.9,606.2 921.2,603.2 922.5,593.5 923.8,597.6 925.1,587.5 926.4,590.1 927.7,600.2 929.0,590.3 930.3,600.6 931.6,591.6 932.9,602.9 934.2,597.2 935.5,580.8 936.8,591.8 938.1,593.2 939.4,583.4 940.7,580.3 942.0,584.7 943.3,588.7 944.6,585.1 945.9,585.4 947.2,576.1 948.5,588.0 949.8,579.8 951.1,574.5 952.4,591.9 953.7,582.8 955.0,577.4 956.3,575.6 957.6,593.9 958.9,595.9 960.2,582.7 961.5,576.6 962.8,582.4 964.1,579.6 965.4,580.5 966.7,586.4 968.0,579.5 969.3,596.6 970.6,581.9 971.9,578.5 973.2,586.3 974.5,579.9 975.8,584.8 977.1,579.7 978.4,582.0 979.7,576.4 981.0,595.7 982.3,578.5 983.6,589.6 984.9,575.8 986.2,586.5 987.5,589.1 988.8,595.9 990.1,584.2 991.4,586.8 992.7,598.4 994.0,581.3 995.3,592.8 996.6,595.8 997.9,588.6 999.2,580.0 1000.5,592.7 1001.8,598.4 1003.1,601.6 1004.4,595.8 1005.7,582.1 1007.0,585.6 1008.3,593.0 1009.6,585.3 1010.9,598.1 1012.2,602.8 1013.5,600.3 1014.8,590.9 1016.1,610.5 1017.4,602.4 1018.7,605.5 1020.0,607.1 1021.3,610.4 1022.6,599.3 1023.9,610.5 1025.2,597.7 1026.5,603.2 1027.8,609.1 1029.1,596.5 1030.4,604.7 1031.7,609.6 1033.0,603.2 1034.3,598.3 1035.6,606.6 1036.9,599.4 1038.2,606.0 1039.5,607.2 1040.8,594.6 1042.1,600.8 1043.4,616.7 1044.7,599.6 1046.0,615.7 1047.3,605.2 1048.6,619.5 1049.9,613.9 1051.2,609.2 1052.5,608.1 1053.8,600.5 1055.1,603.9 1056.4,610.2 1057.7,605.5 1059.0,599.6 1060.3,591.4 1061.6,609.7 1062.9,615.1 1064.2,593.5 1065.5,609.9 1066.8,593.0 1068.1,591.8 1069.4,612.5 1070.7,590.9 1072.0,598.4 1073.3,603.6 1074.6,601.3 1075.9,610.6 1077.2,583.5 1078.5,599.1 1079.8,593.0 1081.1,596.2 1082.4,592.6 1083.7,604.3 1085.0,595.9 1086.3,597.0 1087.6,588.8 1088.9,595.6 1090.2,602.1 1091.5,589.8 1092.8,600.5 1094.1,584.3 1095.4,604.8 1096.7,602.1 1098.0,595.9 1099.3,603.1 1100.6,594.1 1101.9,606.8 1103.2,603.0 1104.5,605.3 1105.8,593.8 1107.1,608.3 1108.4,605.7 1109.7,593.5 1111.0,596.9 1112.3,614.8 1113.6,600.7 1114.9,604.6 1116.2,597.7 1117.5,600.7 1118.8,590.1 1120.1,610.3 1121.4,601.4 1122.7,609.9 1124.0,594.6 1125.3,594.7 1126.6,600.8 1127.9,604.7 1129.2,606.5 1130.5,605.0 1131.8,610.3 1133.1,599.3 1134.4,598.6 1135.7,607.8 1137.0,617.0 1138.3,604.1 1139.6,593.3 1140.9,600.4 1142.2,591.8 1143.5,595.9 1144.8,593.3 1146.1,589.9 1147.4,592.8 1148.7,604.7 1150.0,592.2 1151.3,584.1 1152.6,599.1 1153.9,599.6 1155.2,603.3 1156.5,598.0 1157.8,586.0 1159.1,587.5 1160.4,583.0 1161.7,586.2 1163.0,598.0 1164.3,585.1 1165.6,585.0 1166.9,591.8 1168.2,598.5 1169.5,603.0 1170.8,596.5 1172.1,603.2 1173.4,587.6 1174.7,590.0 1176.0,589.3 1177.3,592.0 1178.6,586.5 1179.9,605.9 1181.2,608.7 1182.5,605.4 1183.8,599.8 1185.1,600.0 1186.4,606.3 1187.7,599.0 1189.0,601.3 1190.3,606.5 1191.6,600.3 1192.9,599.6 1194.2,596.0 1195.5,613.1 1196.8,591.3 1198.1,610.3 1199.4,604.9 1200.7,603.6 1202.0,615.1 1203.3,604.0 1204.6,607.0 1205.9,611.5 1207.2,598.3 1208.5,597.1 1209.8,601.3 1211.1,609.4 1212.4,594.9 1213.7,611.0 1215.0,599.8 1216.3,600.3 1217.6,597.1 1218.9,597.7 1220.2,604.9 1221.5,606.5 1222.8,587.6 1224.1,611.9 1225.4,603.3 1226.7,602.1 1228.0,602.2 1229.3,592.0 1230.6,609.0 1231.9,609.6 1233.2,587.9 1234.5,595.1 1235.8,594.2 1237.1,593.5 1238.4,594.8 1239.7,612.0 1241.0,609.0 1242.3,608.6 1243.6,607.5 1244.9,588.4 1246.2,607.0 1247.5,599.0 1248.8,589.7 1250.1,598.9 1251.4,598.6 1252.7,586.1 1254.0,603.3 1255.3,600.9 1256.6,603.0 1257.9,575.7 1259.2,587.6 1260.5,587.7 1261.8,588.5 1263.1,596.5 1264.4,588.3 1265.7,595.0 1267.0,594.1 1268.3,585.6 1269.6,601.0 1270.9,597.3 1272.2,600.4 1273.5,580.3 1274.8,590.0 1276.1,600.8 1277.4,597.9 1278.7,585.6 1280.0,598.1 1281.3,599.1 1282.6,590.1 1283.9,579.3 1285.2,595.5 1286.5,576.2 1287.8,598.5 1289.1,600.1 1290.4,602.6 1291.7,583.4 1293.0,591.9 1294.3,589.8 1295.6,583.0 1296.9,582.9 1298.2,598.4 1299.5,600.6 1300.8,586.4 1302.1,587.2 1303.4,597.8 1304.7,595.8 1306.0,584.9 1307.3,588.2 1308.6,582.5 1309.9,590.5 1311.2,598.9 1312.5,580.8 1313.8,595.2 1315.1,575.0 1316.4,583.5 1317.7,581.8 1319.0,584.5 1320.3,584.9 1321.6,591.3 1322.9,577.8 1324.2,576.3 1325.5,590.2 1326.8,586.2 1328.1,583.6 1329.4,583.0 1330.7,586.4 1332.0,592.3 1333.3,578.4 1334.6,582.8 1335.9,583.7 1337.2,595.3 1338.5,588.6 1339.8,595.9 1341.1,589.4 1342.4,592.4 1343.7,595.5 1345.0,593.7 1346.3,590.6 1347.6,589.2 1348.9,597.0 1350.2,598.6 1351.5,604.1 1352.8,593.8 1354.1,608.9 1355.4,608.6 1356.7,590.7 1358.0,603.9 1359.3,607.7 1360.6,589.1 1361.9,598.7 1363.2,606.5 1364.5,588.1 1365.8,584.0 1367.1,593.4 1368.4,606.1 1369.7,597.6 1371.0,583.3 1372.3,589.3 1373.6,587.4 1374.9,597.5 1376.2,594.7 1377.5,594.7 1378.8,610.7 1380.1,590.2 1381.4,591.0 1382.7,594.5 1384.0,599.9 1385.3,604.8 1386.6,596.1 1387.9,598.0 1389.2,593.0 1390.5,601.5 1391.8,601.6 1393.1,597.3 1394.4,590.7 1395.7,583.9 1397.0,599.5 1398.3,586.2 1399.6,604.1 1400.9,593.7 1402.2,602.3 1403.5,594.8 1404.8,594.1 1406.1,599.3 1407.4,604.7 1408.7,594.7 1410.0,593.6 1411.3,590.6 1412.6,582.9 1413.9,583.7 1415.2,598.2 1416.5,585.8 1417.8,589.0 1419.1,595.6 1420.4,600.0 1421.7,586.2 1423.0,583.6 1424.3,594.6 1425.6,604.1 1426.9,588.5 1428.2,597.8 1429.5,580.6 1430.8,593.4 1432.1,576.9 1433.4,599.9 1434.7,580.4 1436.0,589.7 1437.3,586.2 1438.6,586.6 1439.9,578.2 1441.2,579.7 1442.5,591.8 1443.8,599.9 1445.1,589.6 1446.4,584.0 1447.7,587.2 1449.0,592.3 1450.3,578.9 1451.6,583.7 1452.9,584.3 1454.2,586.2 1455.5,577.2 1456.8,583.4 1458.1,580.6 1459.4,585.1 1460.7,583.6 1462.0,591.9 1463.3,587.6 1464.6,592.1 1465.9,582.3 1467.2,598.8 1468.5,600.9 1469.8,599.0 1471.1,600.1 1472.4,593.1 1473.7,607.5 1475.0,602.6 1476.3,603.3 1477.6,589.3 1478.9,600.2 1480.2,593.6 1481.5,590.6 1482.8,598.0 1484.1,601.7 1485.4,590.7 1486.7,592.4 1488.0,606.4 1489.3,603.4 1490.6,597.0 1491.9,593.9 1493.2,585.8 1494.5,598.4 1495.8,602.9 1497.1,593.8 1498.4,602.9 1499.7,596.5 1501.0,596.2 1502.3,597.2 1503.6,602.1 1504.9,596.6 1506.2,597.6 1507.5,604.2 1508.8,592.5 1510.1,604.9 1511.4,611.7 1512.7,606.7 1514.0,607.8 1515.3,609.8 1516.6,615.9 1517.9,608.6 1519.2,610.0 1520.5,606.2 1521.8,600.4 1523.1,607.9 1524.4,601.1 1525.7,613.6 1527.0,601.5 1528.3,608.0 1529.6,616.6 1530.9,604.8 1532.2,617.6 1533.5,612.5 1534.8,602.5 1536.1,600.5 1537.4,617.6 1538.7,602.5 1540.0,600.2 1541.3,614.6 1542.6,603.4 1543.9,611.7 1545.2,608.3 1546.5,611.5 1547.8,617.9 1549.1,608.4 1550.4,609.1 1551.7,605.1 1553.0,597.7 1554.3,618.7 1555.6,620.5 1556.9,602.9 1558.2,605.3 1559.5,614.2 1560.8,613.9 1562.1,610.2 1563.4,613.9 1564.7,607.4 1566.0,612.3 1567.3,602.6 1568.6,615.1 1569.9,615.1 1571.2,604.1 1572.5,599.1 1573.8,601.8 1575.1,613.4 1576.4,612.3 1577.7,594.8 1579.0,602.5 1580.3,601.0 1581.6,599.6 1582.9,601.7 1584.2,594.5 1585.5,604.1 1586.8,595.5 1588.1,601.6 1589.4,601.1 1590.7,605.2 1592.0,605.3 1593.3,605.5 1594.6,603.7 1595.9,609.2 1597.2,609.9 1598.5,609.6 1599.8,610.3 1601.1,596.9 1602.4,597.8 1603.7,594.7 1605.0,593.4 1606.3,598.5 1607.6,586.9 1608.9,599.7 1610.2,603.4 1611.5,602.4 1612.8,601.0 1614.1,593.4 1615.4,592.5 1616.7,600.2 1618.0,587.7 1619.3,603.4 1620.6,585.1 1621.9,587.3 1623.2,604.0 1624.5,605.7 1625.8,610.6 1627.1,601.3 1628.4,604.6 1629.7,594.4 1631.0,596.3 1632.3,597.5 1633.6,600.3 1634.9,585.5 1636.2,606.1 1637.5,587.3 1638.8,599.0 1640.1,585.2 1641.4,584.2 1642.7,613.5 1644.0,590.5 1645.3,606.1 1646.6,595.1 1647.9,590.8 1649.2,586.7 1650.5,601.3 1651.8,604.0 1653.1,589.5 1654.4,590.5 1655.7,582.9 1657.0,599.8 1658.3,586.4 1659.6,588.2 1660.9,595.4 1662.2,601.5 1663.5,584.4 1664.8,587.4 1666.1,593.1 1667.4,604.2 1668.7,595.5 1670.0,585.7 1671.3,605.8 1672.6,590.6 1673.9,602.3 1675.2,601.0 1676.5,586.4 1677.8,599.3 1679.1,606.6 1680.4,603.3 1681.7,598.7 1683.0,595.1 1684.3,607.6 1685.6,592.2 1686.9,606.9 1688.2,604.1 1689.5,603.0 1690.8,586.7 1692.1,607.1 1693.4,599.9 1694.7,606.0 1696.0,598.9 1697.3,596.7 1698.6,592.7 1699.9,609.6 1701.2,606.0 1702.5,591.1 1703.8,595.6 1705.1,596.7 1706.4,597.8 1707.7,598.4 1709.0,607.2 1710.3,611.2 1711.6,593.3 1712.9,604.1 1714.2,596.5 1715.5,590.4 1716.8,601.1 1718.1,586.8 1719.4,604.6 1720.7,590.7 1722.0,585.9 1723.3,588.6 1724.6,605.2 1725.9,589.3 1727.2,592.6 1728.5,611.2 1729.8,594.9 1731.1,596.7 1732.4,614.7 1733.7,605.1 1735.0,596.8 1736.3,597.8 1737.6,606.1 1738.9,609.4 1740.2,592.7 1741.5,604.8 1742.8,609.7 1744.1,591.8 1745.4,614.1 1746.7,590.1 1748.0,594.6 1749.3,605.5 1750.6,606.2 1751.9,587.3 1753.2,603.0 1754.5,603.7 1755.8,606.7 1757.1,603.9 1758.4,599.7 1759.7,609.6 1761.0,594.5 1762.3,600.9 1763.6,609.7 1764.9,593.9 1766.2,588.8 1767.5,598.3 1768.8,606.2 1770.1,600.1 1771.4,591.8 1772.7,585.7 1774.0,608.6 1775.3,602.3 1776.6,595.1 1777.9,592.7 1779.2,606.7 1780.5,587.5 1781.8,596.4 1783.1,603.9 1784.4,596.8 1785.7,591.7 1787.0,588.7 1788.3,591.9 1789.6,599.6 1790.9,595.1 1792.2,584.3 1793.5,594.6 1794.8,596.1 1796.1,591.5 1797.4,594.2 1798.7,581.7 1800.0,598.9 1801.3,594.2 1802.6,605.2 1803.9,601.7 1805.2,580.6 1806.5,595.0 1807.8,588.7 1809.1,591.2 1810.4,588.2 1811.7,588.2 1813.0,585.3 1814.3,586.6 1815.6,609.2 1816.9,599.0 1818.2,596.6 1819.5,587.7 1820.8,608.0 1822.1,583.5 1823.4,604.0 1824.7,598.2 1826.0,584.1 1827.3,576.9 1828.6,592.1 1829.9,594.8 1831.2,593.8 1832.5,601.3 1833.8,596.3 1835.1,577.8 1836.4,594.2 1837.7,579.8 1839.0,606.5 1840.3,602.0 1841.6,590.1 1842.9,588.4 1844.2,598.9 1845.5,575.8 1846.8,591.6 1848.1,580.9 1849.4,592.0 1850.7,588.8 1852.0,594.3 1853.3,584.8 1854.6,585.4 1855.9,584.9 1857.2,590.9 1858.5,579.5 1859.8,593.9 1861.1,581.3 1862.4,589.4 1863.7,593.5"/>
<polyline fill="none" stroke="#4ecbcb" stroke-width="6.0" stroke-linejoin="round" points="32.0,654.8 33.3,660.1 34.6,668.1 35.9,660.6 37.2,651.7 38.5,664.6 39.8,655.2 41.1,644.1 42.4,649.3 43.7,690.2 45.0,669.5 46.3,660.9 47.6,672.4 48.9,701.4 50.2,690.4 51.5,685.9 52.8,680.2 54.1,680.8 55.4,686.3 56.7,673.9 58.0,682.3 59.3,679.9 60.6,702.0 61.9,679.8 63.2,692.2 64.5,699.7 65.8,683.8 67.1,707.3 68.4,708.2 69.7,677.6 71.0,704.9 72.3,682.8 73.6,697.4 74.9,689.1 76.2,692.5 77.5,683.6 78.8,705.9 80.1,695.5 81.4,683.1 82.7,710.0 84.0,705.1 85.3,714.7 86.6,692.6 87.9,699.1 89.2,708.3 90.5,704.7 91.8,706.2 93.1,697.6 94.4,692.5 95.7,719.9 97.0,687.9 98.3,722.4 99.6,709.1 100.9,735.3 102.2,714.4 103.5,728.5 104.8,722.2 106.1,713.1 107.4,724.6 108.7,720.9 110.0,716.4 111.3,716.6 112.6,715.9 113.9,712.9 115.2,701.6 116.5,724.8 117.8,720.7 119.1,714.3 120.4,716.3 121.7,706.0 123.0,717.8 124.3,731.1 125.6,720.6 126.9,726.8 128.2,731.7 129.5,735.5 130.8,739.7 132.1,733.8 133.4,748.1 134.7,725.8 136.0,744.1 137.3,739.3 138.6,740.9 139.9,742.8 141.2,733.2 142.5,746.2 143.8,742.7 145.1,735.3 146.4,736.2 147.7,738.5 149.0,736.7 150.3,758.5 151.6,756.2 152.9,742.0 154.2,754.4 155.5,735.5 156.8,756.2 158.1,732.9 159.4,735.0 160.7,737.7 162.0,751.9 163.3,758.5 164.6,734.9 165.9,745.0 167.2,739.1 168.5,737.3 169.8,752.2 171.1,734.6 172.4,755.3 173.7,747.1 175.0,746.5 176.3,739.9 177.6,736.7 178.9,743.3 180.2,745.3 181.5,763.3 182.8,757.5 184.1,750.0 185.4,745.2 186.7,757.6 188.0,750.0 189.3,746.1 190.6,758.2 191.9,748.5 193.2,752.2 194.5,760.9 195.8,758.1 197.1,752.9 198.4,748.4 199.7,734.5 201.0,736.5 202.3,741.3 203.6,742.2 204.9,745.1 206.2,734.7 207.5,739.2 208.8,748.2 210.1,750.6 211.4,738.3 212.7,749.2 214.0,738.8 215.3,741.0 216.6,738.1 217.9,753.0 219.2,732.7 220.5,738.8 221.8,740.3 223.1,747.6 224.4,719.5 225.7,740.0 227.0,734.8 228.3,739.1 229.6,725.7 230.9,730.5 232.2,734.6 233.5,710.5 234.8,706.9 236.1,720.3 237.4,726.2 238.7,736.3 240.0,710.5 241.3,720.8 242.6,720.2 243.9,724.7 245.2,720.3 246.5,712.2 247.8,718.9 249.1,721.6 250.4,720.1 251.7,709.8 253.0,713.8 254.3,722.6 255.6,699.0 256.9,725.9 258.2,716.8 259.5,723.4 260.8,704.2 262.1,716.5 263.4,710.1 264.7,704.1 266.0,709.4 267.3,714.9 268.6,730.8 269.9,714.0 271.2,734.7 272.5,718.0 273.8,716.0 275.1,719.2 276.4,734.0 277.7,727.5 279.0,737.7 280.3,720.3 281.6,724.7 282.9,727.7 284.2,743.0 285.5,714.5 286.8,738.5 288.1,717.9 289.4,726.1 290.7,730.6 292.0,725.2 293.3,744.9 294.6,732.7 295.9,733.4 297.2,728.0 298.5,727.2 299.8,733.4 301.1,749.5 302.4,755.9 303.7,764.3 305.0,760.6 306.3,746.5 307.6,755.8 308.9,762.4 310.2,739.5 311.5,757.5 312.8,745.4 314.1,759.2 315.4,744.5 316.7,754.7 318.0,757.2 319.3,742.1 320.6,762.1 321.9,765.7 323.2,746.2 324.5,745.5 325.8,765.2 327.1,748.0 328.4,764.1 329.7,754.2 331.0,749.1 332.3,753.6 333.6,750.0 334.9,752.4 336.2,745.2 337.5,744.0 338.8,753.7 340.1,758.7 341.4,743.5 342.7,744.9 344.0,764.7 345.3,748.7 346.6,751.3 347.9,765.9 349.2,747.0 350.5,756.2 351.8,765.8 353.1,746.3 354.4,745.1 355.7,767.3 357.0,757.8 358.3,755.2 359.6,757.8 360.9,752.7 362.2,758.2 363.5,775.3 364.8,753.4 366.1,762.9 367.4,752.0 368.7,758.8 370.0,773.3 371.3,761.5 372.6,755.1 373.9,757.9 375.2,758.6 376.5,758.7 377.8,761.0 379.1,768.6 380.4,753.0 381.7,765.5 383.0,754.5 384.3,755.4 385.6,763.4 386.9,760.7 388.2,762.8 389.5,758.7 390.8,766.0 392.1,766.3 393.4,752.2 394.7,750.2 396.0,765.8 397.3,757.1 398.6,769.0 399.9,752.9 401.2,762.8 402.5,757.3 403.8,760.5 405.1,767.7 406.4,750.8 407.7,762.7 409.0,755.0 410.3,761.2 411.6,771.0 412.9,760.2 414.2,773.3 415.5,754.5 416.8,775.5 418.1,767.0 419.4,767.5 420.7,756.4 422.0,760.0 423.3,749.8 424.6,752.8 425.9,744.2 427.2,746.3 428.5,741.9 429.8,739.7 431.1,755.2 432.4,748.1 433.7,751.9 435.0,732.4 436.3,733.8 437.6,737.5 438.9,759.9 440.2,751.3 441.5,736.6 442.8,757.2 444.1,742.5 445.4,742.3 446.7,752.7 448.0,743.0 449.3,756.1 450.6,752.8 451.9,744.6 453.2,744.9 454.5,746.4 455.8,754.1 457.1,758.7 458.4,751.1 459.7,740.9 461.0,754.2 462.3,750.2 463.6,744.6 464.9,749.0 466.2,739.5 467.5,747.2 468.8,748.8 470.1,738.6 471.4,746.8 472.7,742.6 474.0,734.5 475.3,757.2 476.6,750.1 477.9,736.8 479.2,745.9 480.5,758.4 481.8,751.2 483.1,747.8 484.4,739.5 485.7,741.5 487.0,745.1 488.3,741.0 489.6,746.6 490.9,747.3 492.2,740.3 493.5,749.5 494.8,732.6 496.1,736.2 497.4,757.8 498.7,746.4 500.0,737.4 501.3,738.1 502.6,740.4 503.9,747.5 505.2,731.3 506.5,736.2 507.8,737.3 509.1,733.0 510.4,750.2 511.7,750.5 513.0,753.0 514.3,742.8 515.6,741.0 516.9,748.2 518.2,749.1 519.5,743.6 520.8,756.3 522.1,758.4 523.4,759.5 524.7,749.0 526.0,742.0 527.3,763.7 528.6,770.7 529.9,748.2 531.2,753.1 532.5,764.0 533.8,769.1 535.1,773.7 536.4,744.0 537.7,753.8 539.0,760.6 540.3,761.9 541.6,771.2 542.9,761.1 544.2,764.5 545.5,761.2 546.8,763.5 548.1,763.0 549.4,769.9 550.7,756.8 552.0,745.9 553.3,753.1 554.6,756.3 555.9,762.9 557.2,755.9 558.5,763.0 559.8,773.5 561.1,750.7 562.4,768.1 563.7,753.9 565.0,761.2 566.3,760.6 567.6,754.5 568.9,753.1 570.2,766.5 571.5,771.5 572.8,751.7 574.1,754.4 575.4,757.2 576.7,753.2 578.0,765.7 579.3,766.6 580.6,762.6 581.9,755.1 583.2,761.1 584.5,751.2 585.8,763.0 587.1,755.1 588.4,751.2 589.7,762.1 591.0,757.6 592.3,768.3 593.6,762.1 594.9,764.5 596.2,768.2 597.5,759.4 598.8,748.0 600.1,752.4 601.4,758.4 602.7,748.0 604.0,751.1 605.3,766.7 606.6,751.3 607.9,759.7 609.2,754.8 610.5,764.0 611.8,772.4 613.1,754.9 614.4,772.4 615.7,765.5 617.0,761.9 618.3,764.6 619.6,758.8 620.9,755.9 622.2,764.1 623.5,769.0 624.8,761.5 626.1,754.1 627.4,765.5 628.7,764.0 630.0,747.8 631.3,758.1 632.6,772.3 633.9,765.9 635.2,769.3 636.5,762.5 637.8,751.8 639.1,762.4 640.4,768.5 641.7,759.8 643.0,768.1 644.3,773.8 645.6,750.9 646.9,759.0 648.2,758.6 649.5,762.7 650.8,778.8 652.1,761.9 653.4,774.6 654.7,763.9 656.0,769.9 657.3,774.6 658.6,762.1 659.9,768.8 661.2,777.8 662.5,767.5 663.8,781.9 665.1,769.0 666.4,776.5 667.7,766.1 669.0,776.9 670.3,762.1 671.6,767.6 672.9,762.7 674.2,767.7 675.5,770.5 676.8,769.2 678.1,769.8 679.4,773.5 680.7,768.6 682.0,762.4 683.3,774.7 684.6,773.9 685.9,769.0 687.2,766.9 688.5,764.4 689.8,771.8 691.1,765.0 692.4,765.0 693.7,781.0 695.0,765.9 696.3,762.9 697.6,769.6 698.9,770.8 700.2,775.3 701.5,769.3 702.8,774.2 704.1,760.3 705.4,779.6 706.7,766.6 708.0,763.9 709.3,770.5 710.6,763.1 711.9,774.6 713.2,769.1 714.5,763.3 715.8,756.7 717.1,764.3 718.4,768.2 719.7,754.7 721.0,775.6 722.3,759.0 723.6,768.2 724.9,764.4 726.2,760.9 727.5,769.4 728.8,758.0 730.1,758.6 731.4,759.2 732.7,763.1 734.0,751.4 735.3,748.5 736.6,762.1 737.9,751.2 739.2,752.0 740.5,747.8 741.8,750.5 743.1,759.0 744.4,753.5 745.7,756.6 747.0,737.9 748.3,749.8 749.6,751.5 750.9,751.7 752.2,744.7 753.5,751.8 754.8,746.2 756.1,733.6 757.4,754.4 758.7,742.1 760.0,749.2 761.3,735.8 762.6,746.3 763.9,745.6 765.2,733.0 766.5,740.2 767.8,730.8 769.1,749.3 770.4,747.7 771.7,737.9 773.0,747.7 774.3,744.7 775.6,754.6 776.9,748.0 778.2,740.4 779.5,740.0 780.8,757.1 782.1,739.5 783.4,746.2 784.7,770.6 786.0,757.2 787.3,750.3 788.6,759.7 789.9,744.9 791.2,750.2 792.5,749.2 793.8,763.9 795.1,759.3 796.4,756.7 797.7,772.1 799.0,770.2 800.3,763.4 801.6,762.4 802.9,754.2 804.2,757.4 805.5,757.7 806.8,762.7 808.1,749.0 809.4,751.0 810.7,753.8 812.0,759.9 813.3,749.1 814.6,759.4 815.9,756.5 817.2,748.2 818.5,746.0 819.8,751.6 821.1,757.5 822.4,744.2 823.7,747.8 825.0,753.5 826.3,744.4 827.6,732.6 828.9,748.3 830.2,744.2 831.5,739.0 832.8,748.2 834.1,746.9 835.4,753.3 836.7,762.9 838.0,750.8 839.3,766.2 840.6,751.5 841.9,767.6 843.2,761.2 844.5,766.2 845.8,770.1 847.1,760.0 848.4,754.8 849.7,769.7 851.0,747.6 852.3,773.2 853.6,753.8 854.9,756.7 856.2,753.7 857.5,765.9 858.8,758.9 860.1,759.3 861.4,756.1 862.7,762.7 864.0,773.7 865.3,768.4 866.6,760.3 867.9,766.8 869.2,775.5 870.5,759.2 871.8,757.3 873.1,757.0 874.4,759.8 875.7,763.5 877.0,772.1 878.3,771.1 879.6,755.4 880.9,755.3 882.2,763.4 883.5,771.1 884.8,760.7 886.1,764.4 887.4,763.2 888.7,769.5 890.0,768.8 891.3,764.9 892.6,764.6 893.9,768.1 895.2,757.1 896.5,759.4 897.8,759.8 899.1,758.5 900.4,754.2 901.7,760.0 903.0,757.8 904.3,765.3 905.6,767.0 906.9,757.9 908.2,767.2 909.5,744.5 910.8,750.5 912.1,754.7 913.4,769.1 914.7,749.8 916.0,749.6 917.3,747.1 918.6,743.1 919.9,760.3 921.2,768.4 922.5,743.9 923.8,755.9 925.1,743.9 926.4,758.8 927.7,748.7 929.0,747.5 930.3,747.2 931.6,735.9 932.9,752.0 934.2,737.4 935.5,734.6 936.8,751.5 938.1,745.7 939.4,734.7 940.7,741.7 942.0,732.3 943.3,726.2 944.6,749.8 945.9,744.7 947.2,734.8 948.5,738.2 949.8,723.1 951.1,732.8 952.4,737.8 953.7,721.6 955.0,720.7 956.3,729.2 957.6,746.1 958.9,746.9 960.2,736.5 961.5,733.7 962.8,745.7 964.1,738.3 965.4,730.8 966.7,743.6 968.0,726.9 969.3,731.7 970.6,730.4 971.9,752.1 973.2,734.2 974.5,748.9 975.8,740.8 977.1,741.8 978.4,750.7 979.7,744.6 981.0,735.2 982.3,752.5 983.6,735.8 984.9,737.2 986.2,740.9 987.5,746.8 988.8,747.4 990.1,747.5 991.4,748.5 992.7,760.3 994.0,750.8 995.3,757.9 996.6,740.3 997.9,745.1 999.2,742.4 1000.5,741.5 1001.8,737.4 1003.1,739.0 1004.4,740.0 1005.7,743.9 1007.0,756.0 1008.3,753.5 1009.6,759.8 1010.9,739.1 1012.2,750.1 1013.5,759.8 1014.8,739.9 1016.1,748.2 1017.4,751.2 1018.7,743.3 1020.0,767.1 1021.3,769.6 1022.6,764.7 1023.9,758.8 1025.2,758.9 1026.5,764.0 1027.8,765.0 1029.1,751.3 1030.4,756.1 1031.7,741.3 1033.0,767.8 1034.3,742.4 1035.6,752.2 1036.9,755.3 1038.2,750.3 1039.5,754.4 1040.8,753.6 1042.1,760.9 1043.4,751.6 1044.7,757.5 1046.0,757.4 1047.3,765.9 1048.6,740.6 1049.9,755.7 1051.2,772.7 1052.5,741.0 1053.8,759.7 1055.1,760.4 1056.4,743.1 1057.7,755.7 1059.0,754.8 1060.3,753.2 1061.6,767.7 1062.9,751.3 1064.2,757.9 1065.5,763.2 1066.8,753.8 1068.1,750.2 1069.4,768.2 1070.7,748.0 1072.0,766.6 1073.3,764.0 1074.6,751.2 1075.9,741.1 1077.2,757.0 1078.5,752.9 1079.8,761.2 1081.1,769.2 1082.4,753.7 1083.7,740.7 1085.0,764.5 1086.3,741.0 1087.6,758.1 1088.9,759.2 1090.2,770.8 1091.5,748.5 1092.8,750.0 1094.1,755.4 1095.4,754.8 1096.7,759.5 1098.0,743.0 1099.3,743.9 1100.6,763.8 1101.9,753.2 1103.2,760.1 1104.5,757.0 1105.8,735.9 1107.1,751.1 1108.4,739.4 1109.7,730.9 1111.0,744.3 1112.3,733.7 1113.6,726.8 1114.9,745.7 1116.2,741.0 1117.5,749.7 1118.8,741.9 1120.1,733.5 1121.4,748.5 1122.7,750.1 1124.0,757.2 1125.3,758.3 1126.6,757.6 1127.9,745.5 1129.2,738.6 1130.5,756.9 1131.8,749.7 1133.1,734.6 1134.4,745.0 1135.7,747.2 1137.0,737.3 1138.3,750.8 1139.6,758.6 1140.9,739.5 1142.2,750.0 1143.5,738.5 1144.8,755.5 1146.1,754.6 1147.4,751.7 1148.7,746.1 1150.0,742.7 1151.3,736.6 1152.6,753.6 1153.9,746.1 1155.2,756.3 1156.5,741.6 1157.8,754.8 1159.1,757.5 1160.4,753.8 1161.7,744.5 1163.0,744.4 1164.3,750.4 1165.6,762.2 1166.9,740.6 1168.2,754.4 1169.5,747.6 1170.8,733.5 1172.1,759.6 1173.4,757.8 1174.7,755.3 1176.0,758.9 1177.3,751.7 1178.6,749.8 1179.9,761.5 1181.2,764.5 1182.5,760.0 1183.8,743.0 1185.1,748.5 1186.4,742.6 1187.7,744.0 1189.0,745.6 1190.3,751.8 1191.6,760.4 1192.9,754.1 1194.2,758.9 1195.5,745.0 1196.8,760.9 1198.1,751.7 1199.4,762.6 1200.7,759.6 1202.0,762.4 1203.3,768.3 1204.6,758.9 1205.9,744.7 1207.2,756.2 1208.5,764.9 1209.8,756.7 1211.1,742.4 1212.4,770.8 1213.7,743.3 1215.0,746.3 1216.3,747.8 1217.6,756.1 1218.9,745.4 1220.2,745.6 1221.5,759.8 1222.8,748.8 1224.1,750.0 1225.4,752.0 1226.7,756.4 1228.0,755.6 1229.3,747.0 1230.6,750.5 1231.9,754.6 1233.2,762.2 1234.5,750.6 1235.8,745.7 1237.1,759.7 1238.4,746.7 1239.7,750.0 1241.0,744.7 1242.3,757.8 1243.6,748.7 1244.9,753.7 1246.2,741.2 1247.5,737.6 1248.8,753.5 1250.1,748.0 1251.4,754.6 1252.7,743.8 1254.0,759.2 1255.3,744.9 1256.6,747.9 1257.9,736.1 1259.2,734.8 1260.5,750.5 1261.8,755.2 1263.1,761.4 1264.4,761.4 1265.7,739.6 1267.0,741.4 1268.3,751.3 1269.6,741.0 1270.9,736.1 1272.2,739.5 1273.5,746.9 1274.8,754.4 1276.1,745.0 1277.4,733.9 1278.7,734.9 1280.0,744.2 1281.3,756.4 1282.6,753.7 1283.9,736.3 1285.2,733.5 1286.5,732.1 1287.8,739.7 1289.1,748.2 1290.4,721.9 1291.7,738.5 1293.0,747.9 1294.3,751.7 1295.6,724.3 1296.9,731.3 1298.2,731.3 1299.5,748.1 1300.8,747.4 1302.1,719.0 1303.4,730.1 1304.7,746.5 1306.0,725.8 1307.3,724.0 1308.6,742.9 1309.9,728.8 1311.2,727.5 1312.5,751.1 1313.8,738.8 1315.1,744.3 1316.4,738.0 1317.7,731.2 1319.0,719.5 1320.3,735.4 1321.6,732.3 1322.9,736.9 1324.2,736.5 1325.5,739.2 1326.8,722.6 1328.1,721.8 1329.4,747.2 1330.7,741.2 1332.0,750.2 1333.3,726.3 1334.6,744.2 1335.9,729.0 1337.2,727.7 1338.5,732.7 1339.8,737.3 1341.1,735.8 1342.4,734.7 1343.7,751.9 1345.0,761.4 1346.3,756.4 1347.6,769.1 1348.9,748.6 1350.2,748.1 1351.5,748.5 1352.8,752.4 1354.1,758.6 1355.4,752.4 1356.7,745.1 1358.0,740.4 1359.3,755.1 1360.6,764.1 1361.9,750.4 1363.2,757.7 1364.5,754.4 1365.8,748.8 1367.1,763.0 1368.4,761.4 1369.7,742.0 1371.0,738.3 1372.3,743.2 1373.6,740.8 1374.9,748.6 1376.2,756.5 1377.5,756.8 1378.8,752.8 1380.1,754.9 1381.4,765.4 1382.7,744.7 1384.0,758.5 1385.3,749.5 1386.6,765.4 1387.9,735.3 1389.2,739.5 1390.5,738.7 1391.8,747.7 1393.1,757.0 1394.4,735.0 1395.7,757.6 1397.0,755.5 1398.3,738.6 1399.6,748.9 1400.9,754.5 1402.2,739.3 1403.5,749.8 1404.8,750.4 1406.1,755.3 1407.4,744.8 1408.7,736.7 1410.0,751.0 1411.3,753.0 1412.6,736.2 1413.9,734.2 1415.2,735.0 1416.5,761.3 1417.8,748.4 1419.1,733.8 1420.4,754.6 1421.7,742.1 1423.0,735.9 1424.3,728.7 1425.6,741.2 1426.9,737.4 1428.2,741.8 1429.5,732.3 1430.8,731.2 1432.1,726.9 1433.4,743.6 1434.7,754.0 1436.0,750.7 1437.3,744.2 1438.6,733.4 1439.9,751.6 1441.2,724.9 1442.5,723.5 1443.8,744.2 1445.1,740.4 1446.4,740.9 1447.7,733.0 1449.0,745.9 1450.3,751.5 1451.6,727.9 1452.9,753.6 1454.2,740.7 1455.5,743.4 1456.8,732.1 1458.1,746.7 1459.4,759.8 1460.7,748.4 1462.0,730.5 1463.3,731.1 1464.6,742.7 1465.9,742.2 1467.2,749.6 1468.5,737.2 1469.8,727.2 1471.1,741.6 1472.4,759.0 1473.7,750.3 1475.0,734.5 1476.3,737.5 1477.6,743.5 1478.9,760.8 1480.2,749.2 1481.5,748.6 1482.8,743.1 1484.1,742.9 1485.4,758.8 1486.7,741.1 1488.0,739.5 1489.3,766.8 1490.6,756.6 1491.9,760.6 1493.2,737.6 1494.5,754.9 1495.8,761.4 1497.1,747.5 1498.4,753.0 1499.7,733.9 1501.0,747.4 1502.3,745.2 1503.6,771.0 1504.9,762.5 1506.2,752.2 1507.5,752.9 1508.8,768.1 1510.1,742.1 1511.4,763.6 1512.7,742.6 1514.0,749.6 1515.3,765.7 1516.6,759.1 1517.9,760.3 1519.2,753.6 1520.5,753.5 1521.8,742.7 1523.1,767.7 1524.4,762.1 1525.7,758.8 1527.0,752.1 1528.3,760.6 1529.6,755.5 1530.9,751.0 1532.2,765.1 1533.5,748.9 1534.8,763.3 1536.1,753.3 1537.4,758.4 1538.7,752.6 1540.0,742.7 1541.3,755.9 1542.6,754.4 1543.9,745.7 1545.2,741.6 1546.5,742.1 1547.8,755.5 1549.1,741.8 1550.4,772.1 1551.7,757.3 1553.0,754.9 1554.3,743.9 1555.6,760.6 1556.9,747.5 1558.2,767.4 1559.5,751.8 1560.8,745.6 1562.1,755.0 1563.4,751.0 1564.7,751.2 1566.0,767.3 1567.3,752.2 1568.6,777.0 1569.9,760.3 1571.2,771.0 1572.5,764.5 1573.8,771.0 1575.1,769.4 1576.4,738.3 1577.7,750.2 1579.0,768.9 1580.3,757.0 1581.6,760.6 1582.9,752.5 1584.2,752.5 1585.5,766.3 1586.8,746.8 1588.1,752.2 1589.4,757.8 1590.7,746.6 1592.0,754.7 1593.3,749.3 1594.6,748.1 1595.9,761.9 1597.2,744.4 1598.5,745.4 1599.8,739.3 1601.1,739.2 1602.4,746.8 1603.7,754.8 1605.0,757.0 1606.3,763.3 1607.6,738.9 1608.9,745.7 1610.2,744.3 1611.5,749.0 1612.8,752.7 1614.1,743.5 1615.4,754.2 1616.7,755.3 1618.0,742.4 1619.3,741.9 1620.6,733.6 1621.9,753.7 1623.2,755.3 1624.5,752.7 1625.8,749.0 1627.1,755.7 1628.4,741.1 1629.7,753.0 1631.0,765.0 1632.3,742.3 1633.6,747.4 1634.9,749.2 1636.2,742.9 1637.5,754.1 1638.8,742.3 1640.1,759.8 1641.4,751.9 1642.7,736.6 1644.0,749.8 1645.3,739.8 1646.6,744.7 1647.9,742.8 1649.2,742.3 1650.5,746.5 1651.8,749.4 1653.1,745.2 1654.4,732.7 1655.7,747.5 1657.0,738.7 1658.3,738.7 1659.6,737.1 1660.9,747.8 1662.2,751.3 1663.5,743.5 1664.8,756.8 1666.1,736.7 1667.4,741.9 1668.7,729.6 1670.0,728.7 1671.3,753.1 1672.6,749.2 1673.9,738.2 1675.2,749.5 1676.5,753.4 1677.8,747.3 1679.1,741.9 1680.4,744.1 1681.7,738.2 1683.0,730.5 1684.3,727.0 1685.6,749.2 1686.9,729.5 1688.2,743.6 1689.5,746.7 1690.8,736.0 1692.1,739.8 1693.4,751.9 1694.7,725.0 1696.0,733.7 1697.3,742.2 1698.6,744.3 1699.9,731.8 1701.2,752.9 1702.5,726.6 1703.8,723.2 1705.1,747.8 1706.4,744.0 1707.7,750.7 1709.0,742.8 1710.3,735.9 1711.6,739.4 1712.9,736.1 1714.2,733.9 1715.5,730.9 1716.8,741.5 1718.1,739.6 1719.4,730.5 1720.7,748.0 1722.0,733.8 1723.3,742.4 1724.6,747.4 1725.9,744.4 1727.2,734.6 1728.5,741.6 1729.8,738.2 1731.1,734.1 1732.4,731.9 1733.7,752.0 1735.0,741.0 1736.3,747.4 1737.6,743.1 1738.9,753.3 1740.2,750.5 1741.5,750.8 1742.8,741.9 1744.1,753.7 1745.4,754.8 1746.7,745.2 1748.0,763.9 1749.3,758.5 1750.6,754.2 1751.9,755.3 1753.2,753.0 1754.5,753.0 1755.8,753.0 1757.1,760.6 1758.4,750.8 1759.7,767.4 1761.0,735.9 1762.3,746.8 1763.6,757.7 1764.9,758.0 1766.2,743.1 1767.5,755.2 1768.8,745.6 1770.1,766.7 1771.4,738.7 1772.7,741.6 1774.0,749.7 1775.3,750.4 1776.6,757.2 1777.9,750.0 1779.2,758.9 1780.5,749.2 1781.8,750.3 1783.1,754.1 1784.4,747.7 1785.7,756.9 1787.0,756.7 1788.3,745.0 1789.6,755.3 1790.9,741.2 1792.2,750.1 1793.5,754.3 1794.8,755.2 1796.1,758.9 1797.4,761.9 1798.7,745.7 1800.0,744.6 1801.3,737.6 1802.6,738.2 1803.9,763.0 1805.2,750.0 1806.5,752.7 1807.8,750.0 1809.1,738.2 1810.4,749.6 1811.7,732.1 1813.0,750.1 1814.3,746.3 1815.6,758.5 1816.9,746.0 1818.2,746.5 1819.5,734.2 1820.8,737.3 1822.1,741.1 1823.4,754.7 1824.7,742.4 1826.0,752.4 1827.3,752.1 1828.6,743.1 1829.9,755.8 1831.2,743.4 1832.5,747.2 1833.8,755.8 1835.1,750.2 1836.4,740.2 1837.7,745.1 1839.0,737.8 1840.3,744.8 1841.6,754.8 1842.9,751.0 1844.2,737.8 1845.5,747.8 1846.8,750.0 1848.1,740.1 1849.4,744.8 1850.7,750.4 1852.0,737.4 1853.3,748.9 1854.6,753.6 1855.9,728.7 1857.2,751.8 1858.5,738.6 1859.8,749.7 1861.1,733.5 1862.4,736.6 1863.7,728.1"/>
<polyline fill="none" stroke="#c9992f" stroke-width="6.0" stroke-linejoin="round" points="32.0,801.0 33.3,805.1 34.6,810.2 35.9,816.3 37.2,830.3 38.5,821.1 39.8,826.7 41.1,815.4 42.4,824.2 43.7,811.0 45.0,808.8 46.3,821.2 47.6,798.9 48.9,832.2 50.2,832.6 51.5,824.1 52.8,799.8 54.1,811.9 55.4,828.7 56.7,826.3 58.0,816.3 59.3,816.1 60.6,818.0 61.9,813.5 63.2,828.6 64.5,826.6 65.8,818.0 67.1,838.8 68.4,821.9 69.7,829.6 71.0,830.5 72.3,834.3 73.6,832.3 74.9,841.6 76.2,836.2 77.5,836.9 78.8,848.6 80.1,829.6 81.4,843.7 82.7,832.2 84.0,829.9 85.3,843.2 86.6,831.6 87.9,853.2 89.2,850.7 90.5,849.5 91.8,829.0 93.1,843.9 94.4,849.1 95.7,847.2 97.0,833.9 98.3,853.0 99.6,852.2 100.9,857.9 102.2,837.0 103.5,835.9 104.8,861.2 106.1,833.2 107.4,842.1 108.7,853.1 110.0,851.3 111.3,846.7 112.6,859.7 113.9,855.7 115.2,844.9 116.5,859.0 117.8,843.6 119.1,846.8 120.4,861.5 121.7,851.5 123.0,859.3 124.3,856.9 125.6,858.8 126.9,860.3 128.2,851.8 129.5,848.4 130.8,848.3 132.1,848.9 133.4,843.9 134.7,865.9 136.0,867.7 137.3,870.3 138.6,867.2 139.9,843.7 141.2,870.4 142.5,869.6 143.8,871.4 145.1,877.0 146.4,865.4 147.7,866.6 149.0,865.8 150.3,880.0 151.6,878.5 152.9,868.4 154.2,879.3 155.5,858.9 156.8,857.7 158.1,874.9 159.4,880.3 160.7,866.9 162.0,876.2 163.3,872.0 164.6,860.1 165.9,863.7 167.2,851.6 168.5,882.8 169.8,867.5 171.1,874.5 172.4,869.3 173.7,865.5 175.0,873.3 176.3,871.7 177.6,865.1 178.9,882.9 180.2,863.8 181.5,874.7 182.8,868.5 184.1,882.7 185.4,883.3 186.7,883.6 188.0,877.0 189.3,874.2 190.6,863.7 191.9,884.0 193.2,882.6 194.5,879.8 195.8,887.1 197.1,867.6 198.4,867.7 199.7,877.2 201.0,869.8 202.3,888.8 203.6,888.4 204.9,874.2 206.2,884.1 207.5,866.4 208.8,884.0 210.1,889.0 211.4,885.7 212.7,876.7 214.0,868.9 215.3,867.0 216.6,889.2 217.9,894.6 219.2,880.6 220.5,879.8 221.8,867.7 223.1,880.5 224.4,876.7 225.7,875.4 227.0,862.7 228.3,866.0 229.6,866.8 230.9,862.5 232.2,871.5 233.5,886.7 234.8,871.4 236.1,866.2 237.4,878.8 238.7,888.8 240.0,873.9 241.3,884.1 242.6,880.9 243.9,880.7 245.2,886.5 246.5,882.6 247.8,887.1 249.1,874.4 250.4,883.0 251.7,886.5 253.0,892.1 254.3,894.0 255.6,867.3 256.9,886.9 258.2,895.6 259.5,884.6 260.8,893.4 262.1,890.1 263.4,902.3 264.7,884.0 266.0,888.7 267.3,881.8 268.6,880.7 269.9,893.9 271.2,899.1 272.5,884.0 273.8,888.2 275.1,886.1 276.4,888.8 277.7,889.6 279.0,882.3 280.3,887.3 281.6,892.9 282.9,878.8 284.2,891.9 285.5,879.9 286.8,885.4 288.1,885.0 289.4,893.2 290.7,897.6 292.0,892.9 293.3,892.0 294.6,885.3 295.9,881.9 297.2,888.7 298.5,889.7 299.8,898.3 301.1,889.3 302.4,896.7 303.7,879.3 305.0,890.5 306.3,895.7 307.6,901.1 308.9,888.6 310.2,892.8 311.5,902.1 312.8,907.9 314.1,890.5 315.4,880.8 316.7,899.9 318.0,899.0 319.3,897.1 320.6,899.5 321.9,893.6 323.2,890.8 324.5,887.4 325.8,885.4 327.1,901.5 328.4,907.2 329.7,893.8 331.0,905.2 332.3,894.6 333.6,897.4 334.9,902.8 336.2,906.4 337.5,900.3 338.8,885.8 340.1,887.8 341.4,891.8 342.7,900.2 344.0,903.0 345.3,897.3 346.6,897.7 347.9,895.5 349.2,904.3 350.5,908.2 351.8,907.6 353.1,904.8 354.4,895.2 355.7,903.8 357.0,908.6 358.3,889.3 359.6,907.2 360.9,913.6 362.2,896.9 363.5,892.6 364.8,906.6 366.1,901.3 367.4,894.8 368.7,907.9 370.0,907.7 371.3,903.9 372.6,899.2 373.9,892.2 375.2,905.6 376.5,907.9 377.8,911.0 379.1,909.7 380.4,908.6 381.7,912.1 383.0,905.0 384.3,896.5 385.6,900.3 386.9,900.0 388.2,914.9 389.5,910.2 390.8,894.7 392.1,919.0 393.4,910.2 394.7,897.6 396.0,909.3 397.3,899.7 398.6,898.4 399.9,903.1 401.2,913.5 402.5,900.6 403.8,907.0 405.1,910.8 406.4,898.0 407.7,910.7 409.0,905.4 410.3,899.0 411.6,914.2 412.9,913.1 414.2,906.2 415.5,908.4 416.8,904.7 418.1,909.0 419.4,898.7 420.7,901.8 422.0,905.5 423.3,904.3 424.6,911.6 425.9,902.9 427.2,911.0 428.5,912.6 429.8,917.6 431.1,914.3 432.4,898.4 433.7,897.1 435.0,908.4 436.3,916.8 437.6,916.8 438.9,906.9 440.2,909.3 441.5,903.6 442.8,903.1 444.1,914.7 445.4,911.1 446.7,913.2 448.0,914.1 449.3,912.5 450.6,905.9 451.9,906.8 453.2,914.2 454.5,915.1 455.8,897.3 457.1,902.5 458.4,904.5 459.7,911.1 461.0,899.4 462.3,913.2 463.6,913.0 464.9,902.9 466.2,899.0 467.5,898.8 468.8,901.4 470.1,904.5 471.4,908.9 472.7,913.5 474.0,906.2 475.3,908.0 476.6,902.5 477.9,916.2 479.2,908.5 480.5,904.4 481.8,905.0 483.1,913.2 484.4,907.8 485.7,920.7 487.0,909.4 488.3,910.6 489.6,913.2 490.9,909.6 492.2,904.8 493.5,912.0 494.8,913.5 496.1,908.8 497.4,911.0 498.7,918.7 500.0,923.0 501.3,908.3 502.6,906.5 503.9,922.4 505.2,910.0 506.5,904.1 507.8,921.7 509.1,923.7 510.4,917.8 511.7,910.1 513.0,922.8 514.3,916.5 515.6,909.3 516.9,915.4 518.2,914.7 519.5,925.0 520.8,926.2 522.1,927.8 523.4,918.6 524.7,925.1 526.0,925.0 527.3,916.1 528.6,910.8 529.9,910.1 531.2,913.0 532.5,920.1 533.8,912.4 535.1,910.1 536.4,914.0 537.7,912.0 539.0,924.0 540.3,920.4 541.6,920.5 542.9,915.7 544.2,914.6 545.5,909.4 546.8,911.3 548.1,918.8 549.4,919.5 550.7,920.6 552.0,929.0 553.3,921.5 554.6,914.2 555.9,912.9 557.2,906.3 558.5,926.3 559.8,918.5 561.1,910.7 562.4,925.0 563.7,920.1 565.0,923.0 566.3,903.0 567.6,917.0 568.9,908.9 570.2,929.8 571.5,908.9 572.8,918.7 574.1,917.0 575.4,913.7 576.7,914.7 578.0,914.6 579.3,920.7 580.6,915.9 581.9,910.0 583.2,921.8 584.5,920.2 585.8,911.9 587.1,914.7 588.4,906.9 589.7,911.4 591.0,922.0 592.3,917.1 593.6,919.7 594.9,920.3 596.2,912.0 597.5,928.3 598.8,917.2 600.1,919.7 601.4,909.7 602.7,909.8 604.0,919.5 605.3,906.3 606.6,920.6 607.9,907.9 609.2,910.5 610.5,910.4 611.8,918.0 613.1,914.9 614.4,919.0 615.7,926.7 617.0,923.5 618.3,911.9 619.6,912.2 620.9,920.3 622.2,918.7 623.5,918.6 624.8,914.8 626.1,907.2 627.4,925.6 628.7,915.9 630.0,919.1 631.3,917.7 632.6,917.3 633.9,912.5 635.2,922.9 636.5,908.2 637.8,914.4 639.1,921.4 640.4,917.2 641.7,919.2 643.0,910.7 644.3,925.1 645.6,926.8 646.9,915.2 648.2,921.8 649.5,928.0 650.8,921.2 652.1,908.7 653.4,912.5 654.7,926.3 656.0,924.1 657.3,920.6 658.6,916.2 659.9,920.1 661.2,912.2 662.5,918.0 663.8,914.0 665.1,915.8 666.4,919.4 667.7,902.7 669.0,913.3 670.3,915.6 671.6,927.2 672.9,914.6 674.2,915.6 675.5,929.0 676.8,923.9 678.1,915.7 679.4,928.9 680.7,920.8 682.0,912.2 683.3,915.0 684.6,918.5 685.9,926.6 687.2,920.3 688.5,904.5 689.8,919.6 691.1,916.3 692.4,922.3 693.7,924.8 695.0,922.3 696.3,916.8 697.6,915.0 698.9,912.0 700.2,920.8 701.5,914.5 702.8,919.6 704.1,923.1 705.4,909.3 706.7,913.6 708.0,908.0 709.3,909.5 710.6,918.2 711.9,927.6 713.2,911.3 714.5,908.6 715.8,913.6 717.1,922.7 718.4,913.4 719.7,914.8 721.0,909.6 722.3,912.8 723.6,918.7 724.9,914.7 726.2,912.3 727.5,923.8 728.8,912.7 730.1,919.7 731.4,918.7 732.7,908.6 734.0,915.7 735.3,923.4 736.6,920.9 737.9,926.4 739.2,911.6 740.5,914.2 741.8,919.8 743.1,913.5 744.4,911.0 745.7,926.7 747.0,927.6 748.3,920.0 749.6,930.6 750.9,915.4 752.2,909.7 753.5,916.5 754.8,922.5 756.1,920.3 757.4,915.3 758.7,929.0 760.0,922.1 761.3,918.3 762.6,923.9 763.9,920.5 765.2,909.6 766.5,920.0 767.8,917.7 769.1,911.6 770.4,913.0 771.7,914.8 773.0,913.6 774.3,914.2 775.6,919.7 776.9,924.5 778.2,911.3 779.5,925.4 780.8,913.2 782.1,907.8 783.4,914.5 784.7,918.0 786.0,917.1 787.3,920.1 788.6,927.7 789.9,914.3 791.2,929.7 792.5,921.0 793.8,918.2 795.1,920.7 796.4,912.1 797.7,920.2 799.0,921.5 800.3,909.9 801.6,915.5 802.9,926.9 804.2,922.1 805.5,912.4 806.8,913.5 808.1,923.2 809.4,917.9 810.7,916.6 812.0,919.7 813.3,911.9 814.6,915.1 815.9,918.1 817.2,905.5 818.5,919.3 819.8,924.1 821.1,919.2 822.4,910.4 823.7,909.6 825.0,912.8 826.3,912.9 827.6,912.9 828.9,914.5 830.2,919.4 831.5,911.3 832.8,925.1 834.1,921.1 835.4,920.9 836.7,913.2 838.0,917.5 839.3,916.0 840.6,922.7 841.9,920.8 843.2,917.3 844.5,910.3 845.8,921.4 847.1,917.2 848.4,917.7 849.7,918.9 851.0,905.2 852.3,922.1 853.6,918.2 854.9,917.1 856.2,914.0 857.5,915.1 858.8,920.4 860.1,911.5 861.4,909.0 862.7,912.8 864.0,905.9 865.3,914.7 866.6,918.7 867.9,912.1 869.2,912.9 870.5,909.1 871.8,921.2 873.1,906.4 874.4,924.5 875.7,907.3 877.0,922.3 878.3,910.7 879.6,917.4 880.9,915.6 882.2,908.5 883.5,912.9 884.8,916.4 886.1,919.6 887.4,907.6 888.7,912.7 890.0,909.1 891.3,920.2 892.6,907.5 893.9,925.3 895.2,917.0 896.5,922.5 897.8,910.8 899.1,907.9 900.4,918.6 901.7,906.0 903.0,910.8 904.3,916.3 905.6,918.6 906.9,910.8 908.2,919.0 909.5,909.3 910.8,910.1 912.1,924.3 913.4,921.1 914.7,923.1 916.0,915.7 917.3,913.9 918.6,924.0 919.9,920.4 921.2,912.5 922.5,911.6 923.8,914.6 925.1,912.4 926.4,925.9 927.7,925.8 929.0,909.5 930.3,919.1 931.6,915.3 932.9,918.6 934.2,914.7 935.5,911.5 936.8,915.1 938.1,918.2 939.4,905.6 940.7,910.0 942.0,908.2 943.3,915.8 944.6,911.7 945.9,908.3 947.2,912.6 948.5,906.2 949.8,911.2 951.1,916.2 952.4,926.0 953.7,911.6 955.0,906.9 956.3,910.4 957.6,912.2 958.9,923.5 960.2,912.6 961.5,912.8 962.8,910.5 964.1,905.5 965.4,905.2 966.7,913.8 968.0,920.0 969.3,903.8 970.6,908.4 971.9,916.1 973.2,908.8 974.5,913.0 975.8,921.9 977.1,913.8 978.4,908.6 979.7,921.0 981.0,911.4 982.3,910.9 983.6,912.1 984.9,921.1 986.2,915.3 987.5,909.9 988.8,914.8 990.1,913.8 991.4,909.0 992.7,910.9 994.0,915.8 995.3,915.9 996.6,910.1 997.9,915.7 999.2,925.4 1000.5,916.1 1001.8,918.4 1003.1,918.5 1004.4,915.4 1005.7,908.8 1007.0,907.4 1008.3,913.4 1009.6,909.1 1010.9,913.4 1012.2,905.8 1013.5,927.0 1014.8,917.8 1016.1,907.4 1017.4,914.7 1018.7,918.2 1020.0,921.1 1021.3,909.6 1022.6,909.1 1023.9,907.9 1025.2,901.9 1026.5,914.3 1027.8,919.0 1029.1,903.9 1030.4,919.9 1031.7,912.0 1033.0,911.2 1034.3,912.4 1035.6,903.7 1036.9,921.9 1038.2,909.6 1039.5,906.3 1040.8,909.8 1042.1,911.3 1043.4,909.1 1044.7,904.0 1046.0,914.8 1047.3,912.7 1048.6,914.1 1049.9,911.6 1051.2,911.4 1052.5,906.9 1053.8,914.9 1055.1,916.5 1056.4,915.7 1057.7,913.8 1059.0,916.7 1060.3,912.5 1061.6,913.8 1062.9,917.3 1064.2,906.7 1065.5,916.5 1066.8,901.8 1068.1,918.3 1069.4,907.0 1070.7,911.9 1072.0,912.8 1073.3,904.9 1074.6,912.4 1075.9,921.4 1077.2,916.4 1078.5,912.6 1079.8,907.8 1081.1,923.5 1082.4,914.4 1083.7,914.6 1085.0,907.5 1086.3,900.9 1087.6,923.5 1088.9,910.4 1090.2,918.7 1091.5,906.7 1092.8,916.2 1094.1,907.3 1095.4,905.9 1096.7,922.2 1098.0,906.7 1099.3,912.9 1100.6,916.6 1101.9,916.4 1103.2,920.0 1104.5,915.3 1105.8,913.5 1107.1,910.1 1108.4,919.8 1109.7,907.8 1111.0,913.9 1112.3,913.4 1113.6,908.2 1114.9,909.2 1116.2,920.1 1117.5,921.2 1118.8,914.0 1120.1,926.0 1121.4,917.7 1122.7,916.5 1124.0,908.2 1125.3,907.3 1126.6,913.6 1127.9,909.5 1129.2,911.5 1130.5,909.6 1131.8,907.5 1133.1,914.0 1134.4,910.6 1135.7,909.7 1137.0,917.3 1138.3,918.5 1139.6,916.3 1140.9,910.0 1142.2,908.8 1143.5,916.5 1144.8,908.9 1146.1,903.1 1147.4,912.0 1148.7,908.3 1150.0,902.8 1151.3,921.7 1152.6,911.1 1153.9,906.2 1155.2,910.7 1156.5,919.5 1157.8,918.2 1159.1,907.6 1160.4,922.1 1161.7,909.4 1163.0,922.4 1164.3,923.1 1165.6,916.5 1166.9,914.1 1168.2,913.0 1169.5,916.4 1170.8,919.8 1172.1,911.8 1173.4,908.7 1174.7,908.4 1176.0,912.8 1177.3,910.3 1178.6,910.1 1179.9,908.3 1181.2,911.4 1182.5,909.1 1183.8,910.8 1185.1,907.8 1186.4,913.5 1187.7,909.9 1189.0,918.8 1190.3,908.8 1191.6,919.6 1192.9,906.2 1194.2,909.2 1195.5,907.1 1196.8,911.4 1198.1,905.7 1199.4,919.4 1200.7,907.0 1202.0,914.4 1203.3,916.8 1204.6,919.8 1205.9,919.7 1207.2,914.0 1208.5,922.8 1209.8,924.5 1211.1,921.0 1212.4,913.0 1213.7,906.4 1215.0,920.7 1216.3,910.1 1217.6,909.0 1218.9,905.8 1220.2,915.9 1221.5,912.2 1222.8,918.8 1224.1,919.4 1225.4,917.6 1226.7,910.2 1228.0,906.8 1229.3,917.4 1230.6,913.9 1231.9,906.9 1233.2,918.2 1234.5,909.4 1235.8,906.4 1237.1,922.7 1238.4,906.8 1239.7,917.0 1241.0,900.6 1242.3,923.9 1243.6,914.3 1244.9,916.6 1246.2,911.8 1247.5,908.7 1248.8,912.6 1250.1,919.7 1251.4,915.4 1252.7,913.8 1254.0,905.9 1255.3,909.0 1256.6,919.3 1257.9,911.1 1259.2,908.5 1260.5,913.1 1261.8,918.4 1263.1,915.2 1264.4,910.7 1265.7,911.9 1267.0,907.9 1268.3,914.7 1269.6,909.8 1270.9,918.2 1272.2,921.8 1273.5,916.3 1274.8,919.2 1276.1,921.0 1277.4,913.2 1278.7,917.6 1280.0,907.9 1281.3,907.1 1282.6,914.6 1283.9,911.4 1285.2,916.3 1286.5,920.1 1287.8,909.0 1289.1,915.1 1290.4,912.4 1291.7,921.2 1293.0,910.2 1294.3,916.4 1295.6,912.3 1296.9,906.2 1298.2,915.3 1299.5,903.8 1300.8,917.0 1302.1,918.2 1303.4,919.7 1304.7,920.4 1306.0,910.1 1307.3,903.6 1308.6,923.6 1309.9,909.1 1311.2,916.5 1312.5,908.6 1313.8,915.9 1315.1,907.3 1316.4,920.8 1317.7,903.9 1319.0,914.2 1320.3,923.6 1321.6,904.5 1322.9,909.2 1324.2,910.6 1325.5,922.3 1326.8,914.7 1328.1,917.6 1329.4,920.2 1330.7,919.8 1332.0,914.8 1333.3,913.9 1334.6,914.2 1335.9,923.8 1337.2,917.1 1338.5,912.3 1339.8,909.2 1341.1,906.3 1342.4,909.7 1343.7,912.9 1345.0,916.8 1346.3,918.5 1347.6,912.1 1348.9,918.6 1350.2,923.2 1351.5,921.9 1352.8,908.3 1354.1,908.3 1355.4,915.5 1356.7,908.2 1358.0,903.0 1359.3,908.6 1360.6,901.9 1361.9,915.5 1363.2,924.1 1364.5,910.7 1365.8,915.9 1367.1,911.4 1368.4,908.8 1369.7,904.8 1371.0,924.1 1372.3,917.0 1373.6,912.4 1374.9,918.1 1376.2,920.8 1377.5,920.8 1378.8,921.0 1380.1,911.1 1381.4,927.6 1382.7,910.1 1384.0,914.2 1385.3,915.7 1386.6,901.3 1387.9,919.8 1389.2,906.6 1390.5,911.1 1391.8,915.9 1393.1,911.2 1394.4,909.7 1395.7,919.5 1397.0,921.0 1398.3,916.2 1399.6,909.6 1400.9,906.4 1402.2,906.4 1403.5,916.8 1404.8,918.0 1406.1,916.5 1407.4,908.0 1408.7,908.5 1410.0,908.2 1411.3,909.9 1412.6,922.7 1413.9,921.4 1415.2,912.4 1416.5,914.1 1417.8,920.4 1419.1,904.1 1420.4,922.0 1421.7,911.8 1423.0,911.3 1424.3,914.5 1425.6,913.7 1426.9,920.5 1428.2,925.0 1429.5,906.8 1430.8,907.6 1432.1,924.2 1433.4,912.7 1434.7,920.0 1436.0,920.9 1437.3,918.9 1438.6,909.1 1439.9,908.2 1441.2,916.2 1442.5,908.6 1443.8,919.1 1445.1,919.5 1446.4,908.9 1447.7,913.9 1449.0,925.6 1450.3,914.6 1451.6,906.3 1452.9,905.8 1454.2,908.5 1455.5,927.7 1456.8,909.9 1458.1,916.7 1459.4,915.3 1460.7,917.2 1462.0,916.8 1463.3,928.0 1464.6,912.8 1465.9,915.5 1467.2,914.3 1468.5,917.2 1469.8,910.4 1471.1,918.6 1472.4,917.9 1473.7,918.2 1475.0,924.8 1476.3,908.0 1477.6,913.7 1478.9,912.4 1480.2,915.4 1481.5,908.5 1482.8,909.3 1484.1,910.3 1485.4,911.4 1486.7,907.8 1488.0,912.4 1489.3,906.5 1490.6,907.2 1491.9,914.8 1493.2,916.0 1494.5,912.0 1495.8,915.3 1497.1,902.3 1498.4,919.1 1499.7,914.3 1501.0,907.9 1502.3,907.9 1503.6,922.0 1504.9,908.9 1506.2,908.7 1507.5,918.9 1508.8,908.8 1510.1,912.5 1511.4,917.0 1512.7,903.0 1514.0,912.3 1515.3,903.9 1516.6,915.7 1517.9,919.2 1519.2,914.3 1520.5,919.2 1521.8,914.0 1523.1,914.2 1524.4,913.4 1525.7,920.4 1527.0,908.7 1528.3,914.1 1529.6,925.4 1530.9,908.6 1532.2,917.1 1533.5,918.2 1534.8,920.7 1536.1,905.7 1537.4,915.2 1538.7,920.4 1540.0,914.3 1541.3,905.1 1542.6,907.9 1543.9,918.8 1545.2,912.4 1546.5,918.0 1547.8,916.0 1549.1,911.8 1550.4,921.5 1551.7,912.6 1553.0,914.9 1554.3,909.4 1555.6,919.1 1556.9,922.7 1558.2,903.6 1559.5,922.5 1560.8,918.5 1562.1,914.7 1563.4,908.5 1564.7,912.3 1566.0,914.7 1567.3,915.9 1568.6,916.3 1569.9,915.1 1571.2,920.6 1572.5,912.8 1573.8,917.0 1575.1,913.4 1576.4,913.6 1577.7,912.1 1579.0,913.3 1580.3,908.7 1581.6,904.4 1582.9,916.6 1584.2,917.3 1585.5,910.6 1586.8,903.9 1588.1,911.1 1589.4,919.0 1590.7,911.8 1592.0,921.1 1593.3,915.8 1594.6,912.9 1595.9,913.4 1597.2,905.3 1598.5,917.6 1599.8,905.9 1601.1,912.3 1602.4,913.1 1603.7,918.6 1605.0,909.7 1606.3,915.9 1607.6,920.8 1608.9,919.8 1610.2,909.8 1611.5,924.0 1612.8,910.8 1614.1,921.5 1615.4,912.7 1616.7,926.0 1618.0,909.5 1619.3,918.6 1620.6,906.3 1621.9,912.4 1623.2,922.7 1624.5,911.3 1625.8,906.6 1627.1,919.1 1628.4,918.4 1629.7,919.1 1631.0,906.6 1632.3,922.8 1633.6,917.1 1634.9,914.6 1636.2,910.8 1637.5,910.2 1638.8,907.8 1640.1,918.6 1641.4,913.1 1642.7,924.4 1644.0,904.3 1645.3,921.7 1646.6,912.0 1647.9,920.1 1649.2,905.6 1650.5,919.8 1651.8,910.0 1653.1,909.8 1654.4,914.5 1655.7,914.0 1657.0,917.8 1658.3,909.8 1659.6,916.9 1660.9,918.4 1662.2,913.1 1663.5,910.4 1664.8,912.5 1666.1,924.9 1667.4,917.5 1668.7,925.6 1670.0,915.1 1671.3,912.8 1672.6,921.1 1673.9,916.1 1675.2,909.8 1676.5,923.2 1677.8,923.0 1679.1,904.9 1680.4,922.6 1681.7,911.1 1683.0,906.2 1684.3,911.8 1685.6,918.9 1686.9,915.1 1688.2,911.4 1689.5,920.4 1690.8,915.3 1692.1,922.2 1693.4,913.7 1694.7,918.0 1696.0,909.3 1697.3,918.2 1698.6,921.9 1699.9,914.8 1701.2,914.1 1702.5,916.6 1703.8,919.8 1705.1,910.5 1706.4,918.7 1707.7,913.4 1709.0,919.2 1710.3,915.4 1711.6,922.1 1712.9,918.8 1714.2,923.1 1715.5,917.0 1716.8,917.6 1718.1,921.2 1719.4,906.8 1720.7,917.0 1722.0,924.1 1723.3,917.6 1724.6,921.3 1725.9,926.8 1727.2,923.3 1728.5,916.5 1729.8,926.0 1731.1,917.8 1732.4,911.3 1733.7,922.4 1735.0,911.2 1736.3,921.0 1737.6,913.0 1738.9,921.3 1740.2,920.4 1741.5,922.4 1742.8,920.8 1744.1,923.1 1745.4,910.0 1746.7,914.0 1748.0,915.4 1749.3,910.7 1750.6,917.2 1751.9,923.3 1753.2,920.5 1754.5,914.4 1755.8,912.4 1757.1,908.7 1758.4,925.8 1759.7,911.2 1761.0,913.2 1762.3,910.4 1763.6,922.9 1764.9,915.0 1766.2,910.9 1767.5,910.4 1768.8,927.9 1770.1,921.6 1771.4,913.8 1772.7,917.4 1774.0,914.5 1775.3,918.3 1776.6,927.3 1777.9,915.1 1779.2,920.6 1780.5,924.8 1781.8,923.5 1783.1,917.3 1784.4,912.3 1785.7,911.5 1787.0,919.9 1788.3,909.6 1789.6,921.9 1790.9,913.5 1792.2,913.6 1793.5,923.1 1794.8,918.2 1796.1,917.6 1797.4,912.6 1798.7,910.4 1800.0,915.9 1801.3,921.6 1802.6,928.0 1803.9,922.5 1805.2,908.8 1806.5,928.0 1807.8,926.4 1809.1,933.3 1810.4,923.6 1811.7,915.4 1813.0,912.4 1814.3,930.5 1815.6,923.0 1816.9,912.9 1818.2,918.0 1819.5,918.8 1820.8,922.8 1822.1,919.8 1823.4,920.3 1824.7,910.4 1826.0,909.4 1827.3,913.7 1828.6,911.8 1829.9,926.5 1831.2,910.7 1832.5,932.8 1833.8,919.6 1835.1,919.9 1836.4,919.3 1837.7,913.5 1839.0,924.5 1840.3,924.0 1841.6,927.9 1842.9,917.5 1844.2,923.6 1845.5,916.4 1846.8,917.4 1848.1,909.6 1849.4,913.5 1850.7,912.0 1852.0,925.0 1853.3,927.0 1854.6,914.2 1855.9,920.4 1857.2,922.3 1858.5,925.2 1859.8,912.5 1861.1,922.9 1862.4,930.8 1863.7,925.6"/>
<polyline fill="none" stroke="#ad7edb" stroke-width="6.0" stroke-linejoin="round" points="32.0,965.9 33.3,961.0 34.6,975.0 35.9,960.1 37.2,961.8 38.5,976.1 39.8,944.4 41.1,978.0 42.4,971.8 43.7,954.3 45.0,974.2 46.3,964.5 47.6,969.4 48.9,963.5 50.2,976.6 51.5,979.6 52.8,993.6 54.1,981.7 55.4,972.6 56.7,989.0 58.0,958.5 59.3,960.2 60.6,982.4 61.9,962.3 63.2,966.8 64.5,982.0 65.8,990.4 67.1,1001.2 68.4,987.7 69.7,990.4 71.0,982.0 72.3,977.5 73.6,976.7 74.9,973.3 76.2,991.9 77.5,974.5 78.8,985.8 80.1,982.6 81.4,996.0 82.7,982.1 84.0,981.2 85.3,997.5 86.6,987.9 87.9,1008.7 89.2,1007.6 90.5,1003.6 91.8,982.3 93.1,1000.9 94.4,996.7 95.7,1011.6 97.0,997.1 98.3,1004.1 99.6,992.2 100.9,997.0 102.2,996.9 103.5,988.3 104.8,1011.2 106.1,997.1 107.4,1017.9 108.7,1005.6 110.0,1010.7 111.3,1013.5 112.6,1008.0 113.9,997.8 115.2,1005.2 116.5,1007.2 117.8,1015.5 119.1,1005.4 120.4,1023.1 121.7,1011.9 123.0,1012.8 124.3,1015.5 125.6,1022.2 126.9,1010.0 128.2,1017.5 129.5,1031.4 130.8,1025.1 132.1,1029.0 133.4,1020.3 134.7,1012.0 136.0,1008.2 137.3,1029.1 138.6,1024.9 139.9,1016.0 141.2,1036.6 142.5,1027.6 143.8,1034.5 145.1,1020.0 146.4,1024.8 147.7,1014.0 149.0,1012.3 150.3,1041.2 151.6,1024.5 152.9,1031.8 154.2,1025.0 155.5,1031.8 156.8,1018.0 158.1,1025.8 159.4,1018.5 160.7,1025.2 162.0,1044.4 163.3,1033.6 164.6,1027.7 165.9,1034.3 167.2,1041.3 168.5,1033.5 169.8,1045.0 171.1,1041.3 172.4,1031.4 173.7,1035.0 175.0,1038.6 176.3,1042.1 177.6,1025.0 178.9,1044.7 180.2,1024.1 181.5,1044.8 182.8,1042.5 184.1,1028.3 185.4,1031.4 186.7,1049.9 188.0,1028.5 189.3,1046.6 190.6,1047.2 191.9,1043.4 193.2,1042.5 194.5,1034.9 195.8,1041.0 197.1,1031.8 198.4,1035.9 199.7,1041.5 201.0,1050.8 202.3,1043.8 203.6,1040.5 204.9,1032.7 206.2,1051.6 207.5,1036.2 208.8,1048.9 210.1,1039.0 211.4,1040.9 212.7,1049.8 214.0,1046.7 215.3,1036.0 216.6,1043.4 217.9,1049.9 219.2,1037.4 220.5,1044.3 221.8,1025.6 223.1,1035.0 224.4,1035.8 225.7,1037.5 227.0,1029.6 228.3,1048.3 229.6,1028.8 230.9,1038.4 232.2,1033.7 233.5,1038.8 234.8,1029.2 236.1,1021.4 237.4,1021.4 238.7,1023.2 240.0,1022.0 241.3,1037.0 242.6,1037.9 243.9,1021.5 245.2,1039.1 246.5,1029.3 247.8,1038.3 249.1,1033.6 250.4,1033.2 251.7,1045.1 253.0,1027.0 254.3,1038.6 255.6,1035.4 256.9,1028.1 258.2,1031.9 259.5,1030.7 260.8,1038.0 262.1,1046.9 263.4,1041.0 264.7,1033.0 266.0,1045.3 267.3,1039.3 268.6,1043.3 269.9,1040.2 271.2,1047.1 272.5,1027.0 273.8,1026.9 275.1,1026.7 276.4,1032.0 277.7,1041.5 279.0,1036.6 280.3,1042.7 281.6,1036.5 282.9,1052.7 284.2,1046.4 285.5,1056.0 286.8,1043.9 288.1,1052.4 289.4,1059.4 290.7,1052.9 292.0,1064.3 293.3,1057.6 294.6,1059.2 295.9,1053.7 297.2,1059.3 298.5,1047.3 299.8,1068.0 301.1,1066.7 302.4,1061.7 303.7,1049.6 305.0,1054.1 306.3,1050.1 307.6,1048.9 308.9,1057.9 310.2,1055.9 311.5,1052.0 312.8,1062.0 314.1,1060.3 315.4,1044.3 316.7,1060.0 318.0,1063.0 319.3,1050.6 320.6,1054.1 321.9,1060.4 323.2,1054.6 324.5,1047.9 325.8,1062.7 327.1,1056.5 328.4,1060.6 329.7,1064.8 331.0,1052.1 332.3,1059.7 333.6,1063.9 334.9,1066.8 336.2,1044.5 337.5,1046.1 338.8,1057.1 340.1,1049.1 341.4,1056.2 342.7,1063.2 344.0,1056.3 345.3,1050.9 346.6,1057.5 347.9,1062.0 349.2,1049.0 350.5,1056.6 351.8,1056.4 353.1,1062.4 354.4,1063.0 355.7,1056.7 357.0,1054.5 358.3,1060.9 359.6,1057.0 360.9,1053.2 362.2,1056.5 363.5,1062.6 364.8,1051.8 366.1,1065.7 367.4,1059.6 368.7,1055.4 370.0,1052.6 371.3,1072.0 372.6,1054.3 373.9,1054.2 375.2,1054.3 376.5,1054.7 377.8,1071.6 379.1,1059.4 380.4,1065.1 381.7,1069.7 383.0,1069.5 384.3,1058.8 385.6,1063.9 386.9,1066.3 388.2,1060.8 389.5,1066.8 390.8,1055.4 392.1,1061.4 393.4,1070.2 394.7,1067.7 396.0,1064.8 397.3,1059.9 398.6,1054.5 399.9,1064.1 401.2,1063.7 402.5,1054.6 403.8,1059.1 405.1,1063.4 406.4,1065.7 407.7,1067.7 409.0,1053.3 410.3,1056.3 411.6,1070.4 412.9,1061.7 414.2,1069.8 415.5,1072.8 416.8,1068.2 418.1,1069.7 419.4,1062.5 420.7,1055.0 422.0,1060.5 423.3,1054.6 424.6,1065.0 425.9,1064.4 427.2,1065.3 428.5,1054.3 429.8,1060.1 431.1,1055.7 432.4,1050.7 433.7,1065.8 435.0,1058.4 436.3,1055.0 437.6,1058.7 438.9,1064.4 440.2,1059.9 441.5,1067.8 442.8,1065.2 444.1,1056.1 445.4,1051.2 446.7,1066.0 448.0,1063.4 449.3,1057.0 450.6,1062.5 451.9,1063.6 453.2,1068.3 454.5,1055.8 455.8,1053.3 457.1,1071.3 458.4,1053.0 459.7,1057.0 461.0,1064.2 462.3,1058.2 463.6,1067.8 464.9,1054.1 466.2,1066.9 467.5,1051.5 468.8,1063.2 470.1,1053.3 471.4,1054.9 472.7,1052.2 474.0,1056.4 475.3,1056.2 476.6,1056.7 477.9,1057.6 479.2,1052.4 480.5,1065.5 481.8,1065.9 483.1,1059.9 484.4,1056.2 485.7,1055.4 487.0,1056.6 488.3,1047.7 489.6,1052.9 490.9,1058.7 492.2,1054.9 493.5,1051.4 494.8,1064.2 496.1,1065.1 497.4,1052.1 498.7,1060.9 500.0,1055.1 501.3,1057.8 502.6,1059.3 503.9,1064.7 505.2,1060.5 506.5,1056.5 507.8,1061.5 509.1,1068.0 510.4,1068.7 511.7,1058.1 513.0,1052.4 514.3,1053.9 515.6,1065.2 516.9,1064.6 518.2,1058.9 519.5,1067.1 520.8,1062.4 522.1,1062.4 523.4,1061.0 524.7,1071.8 526.0,1060.6 527.3,1062.4 528.6,1063.4 529.9,1059.2 531.2,1064.9 532.5,1064.6 533.8,1071.0 535.1,1073.9 536.4,1073.4 537.7,1069.9 539.0,1071.3 540.3,1073.2 541.6,1073.5 542.9,1074.5 544.2,1070.6 545.5,1067.6 546.8,1071.4 548.1,1066.6 549.4,1079.5 550.7,1073.3 552.0,1070.3 553.3,1076.0 554.6,1062.7 555.9,1072.7 557.2,1061.1 558.5,1072.2 559.8,1073.5 561.1,1072.9 562.4,1065.5 563.7,1071.0 565.0,1069.5 566.3,1068.9 567.6,1075.5 568.9,1068.9 570.2,1062.2 571.5,1073.7 572.8,1071.3 574.1,1063.5 575.4,1072.8 576.7,1063.7 578.0,1065.5 579.3,1076.8 580.6,1059.2 581.9,1072.2 583.2,1060.7 584.5,1078.3 585.8,1066.1 587.1,1068.5 588.4,1069.1 589.7,1070.3 591.0,1069.0 592.3,1059.8 593.6,1072.4 594.9,1068.5 596.2,1073.7 597.5,1064.7 598.8,1066.6 600.1,1066.6 601.4,1068.8 602.7,1056.9 604.0,1070.1 605.3,1064.6 606.6,1060.3 607.9,1070.9 609.2,1062.6 610.5,1066.4 611.8,1068.9 613.1,1072.1 614.4,1064.1 615.7,1071.8 617.0,1067.0 618.3,1069.9 619.6,1074.4 620.9,1069.1 622.2,1072.9 623.5,1067.9 624.8,1069.4 626.1,1065.6 627.4,1071.5 628.7,1069.8 630.0,1068.4 631.3,1075.3 632.6,1074.0 633.9,1071.7 635.2,1080.5 636.5,1069.9 637.8,1075.3 639.1,1079.4 640.4,1073.0 641.7,1079.1 643.0,1066.7 644.3,1075.0 645.6,1081.5 646.9,1077.2 648.2,1076.7 649.5,1078.3 650.8,1078.4 652.1,1077.3 653.4,1076.8 654.7,1070.1 656.0,1077.0 657.3,1072.7 658.6,1077.1 659.9,1083.0 661.2,1072.9 662.5,1079.3 663.8,1072.8 665.1,1073.6 666.4,1080.2 667.7,1080.1 669.0,1077.9 670.3,1071.7 671.6,1082.5 672.9,1072.1 674.2,1077.9 675.5,1069.3 676.8,1083.6 678.1,1069.6 679.4,1075.1 680.7,1069.9 682.0,1070.1 683.3,1078.3 684.6,1077.6 685.9,1067.6 687.2,1078.4 688.5,1073.5 689.8,1069.9 691.1,1070.4 692.4,1071.4 693.7,1070.3 695.0,1077.7 696.3,1079.4 697.6,1064.2 698.9,1077.2 700.2,1076.0 701.5,1070.7 702.8,1064.8 704.1,1074.1 705.4,1070.0 706.7,1073.5 708.0,1068.5 709.3,1071.8 710.6,1067.2 711.9,1067.3 713.2,1068.6 714.5,1070.9 715.8,1062.9 717.1,1075.2 718.4,1063.4 719.7,1069.4 721.0,1066.7 722.3,1061.4 723.6,1065.4 724.9,1075.7 726.2,1070.1 727.5,1060.8 728.8,1060.5 730.1,1063.0 731.4,1072.3 732.7,1064.2 734.0,1075.7 735.3,1064.2 736.6,1066.9 737.9,1064.6 739.2,1070.4 740.5,1058.2 741.8,1056.8 743.1,1061.4 744.4,1062.4 745.7,1050.6 747.0,1056.6 748.3,1056.6 749.6,1051.6 750.9,1050.4 752.2,1049.8 753.5,1050.1 754.8,1062.4 756.1,1047.8 757.4,1054.9 758.7,1058.4 760.0,1056.5 761.3,1054.8 762.6,1062.7 763.9,1061.6 765.2,1061.2 766.5,1073.1 767.8,1060.8 769.1,1072.0 770.4,1066.9 771.7,1066.3 773.0,1074.0 774.3,1061.6 775.6,1070.7 776.9,1075.3 778.2,1070.7 779.5,1059.3 780.8,1072.0 782.1,1071.4 783.4,1068.3 784.7,1059.8 786.0,1077.5 787.3,1075.9 788.6,1057.7 789.9,1059.8 791.2,1056.3 792.5,1069.7 793.8,1068.2 795.1,1073.3 796.4,1063.6 797.7,1064.5 799.0,1069.8 800.3,1063.9 801.6,1071.6 802.9,1067.5 804.2,1063.2 805.5,1063.1 806.8,1055.7 808.1,1065.3 809.4,1071.3 810.7,1063.9 812.0,1066.7 813.3,1067.9 814.6,1062.6 815.9,1057.7 817.2,1062.0 818.5,1061.7 819.8,1058.9 821.1,1062.5 822.4,1067.6 823.7,1060.5 825.0,1070.8 826.3,1073.7 827.6,1069.9 828.9,1056.5 830.2,1053.3 831.5,1068.8 832.8,1056.0 834.1,1055.2 835.4,1067.8 836.7,1067.7 838.0,1058.2 839.3,1057.2 840.6,1073.3 841.9,1058.2 843.2,1065.8 844.5,1053.5 845.8,1067.0 847.1,1058.6 848.4,1059.6 849.7,1055.3 851.0,1066.4 852.3,1068.7 853.6,1057.0 854.9,1056.7 856.2,1071.7 857.5,1068.3 858.8,1060.8 860.1,1060.9 861.4,1059.6 862.7,1072.0 864.0,1063.8 865.3,1068.1 866.6,1068.3 867.9,1065.1 869.2,1059.8 870.5,1066.2 871.8,1066.7 873.1,1056.0 874.4,1056.0 875.7,1073.4 877.0,1062.4 878.3,1052.7 879.6,1066.4 880.9,1055.6 882.2,1054.3 883.5,1069.5 884.8,1060.4 886.1,1055.7 887.4,1062.8 888.7,1053.3 890.0,1053.4 891.3,1056.4 892.6,1051.5 893.9,1050.1 895.2,1060.3 896.5,1053.1 897.8,1062.6 899.1,1071.5 900.4,1057.6 901.7,1062.6 903.0,1060.6 904.3,1052.6 905.6,1056.0 906.9,1065.6 908.2,1063.0 909.5,1060.8 910.8,1048.8 912.1,1054.8 913.4,1062.0 914.7,1063.9 916.0,1050.2 917.3,1053.3 918.6,1051.9 919.9,1057.5 921.2,1043.3 922.5,1045.1 923.8,1058.1 925.1,1046.3 926.4,1050.6 927.7,1059.4 929.0,1044.9 930.3,1038.2 931.6,1043.1 932.9,1047.3 934.2,1037.0 935.5,1054.4 936.8,1059.1 938.1,1049.4 939.4,1048.6 940.7,1048.8 942.0,1055.6 943.3,1051.6 944.6,1050.4 945.9,1058.5 947.2,1051.7 948.5,1049.9 949.8,1050.0 951.1,1051.6 952.4,1040.3 953.7,1058.7 955.0,1054.5 956.3,1037.3 957.6,1051.3 958.9,1055.0 960.2,1054.7 961.5,1045.8 962.8,1048.8 964.1,1054.0 965.4,1059.8 966.7,1052.7 968.0,1047.3 969.3,1059.6 970.6,1059.5 971.9,1044.8 973.2,1047.6 974.5,1043.6 975.8,1063.0 977.1,1056.7 978.4,1047.5 979.7,1052.6 981.0,1047.0 982.3,1050.6 983.6,1061.0 984.9,1046.7 986.2,1049.6 987.5,1054.5 988.8,1057.4 990.1,1057.3 991.4,1053.8 992.7,1043.0 994.0,1054.0 995.3,1064.5 996.6,1058.5 997.9,1051.0 999.2,1063.1 1000.5,1043.6 1001.8,1061.0 1003.1,1042.0 1004.4,1065.9 1005.7,1056.5 1007.0,1053.7 1008.3,1059.2 1009.6,1055.2 1010.9,1050.2 1012.2,1050.4 1013.5,1055.0 1014.8,1043.8 1016.1,1054.2 1017.4,1045.2 1018.7,1055.0 1020.0,1055.4 1021.3,1058.4 1022.6,1047.6 1023.9,1043.4 1025.2,1049.7 1026.5,1058.9 1027.8,1052.7 1029.1,1048.4 1030.4,1060.1 1031.7,1053.7 1033.0,1062.7 1034.3,1062.9 1035.6,1054.1 1036.9,1059.2 1038.2,1050.8 1039.5,1047.6 1040.8,1056.9 1042.1,1049.2 1043.4,1064.8 1044.7,1044.8 1046.0,1055.7 1047.3,1048.9 1048.6,1039.5 1049.9,1060.1 1051.2,1053.7 1052.5,1046.0 1053.8,1055.2 1055.1,1047.9 1056.4,1044.2 1057.7,1047.2 1059.0,1057.7 1060.3,1039.5 1061.6,1055.9 1062.9,1051.6 1064.2,1042.6 1065.5,1051.9 1066.8,1046.2 1068.1,1051.7 1069.4,1053.2 1070.7,1055.2 1072.0,1066.6 1073.3,1046.4 1074.6,1056.6 1075.9,1044.8 1077.2,1052.8 1078.5,1054.2 1079.8,1063.4 1081.1,1044.6 1082.4,1050.8 1083.7,1058.5 1085.0,1060.7 1086.3,1053.3 1087.6,1058.3 1088.9,1048.8 1090.2,1046.8 1091.5,1059.4 1092.8,1048.1 1094.1,1047.4 1095.4,1045.4 1096.7,1046.3 1098.0,1046.1 1099.3,1050.8 1100.6,1054.0 1101.9,1056.1 1103.2,1056.2 1104.5,1054.7 1105.8,1045.9 1107.1,1046.1 1108.4,1045.7 1109.7,1054.0 1111.0,1051.7 1112.3,1050.8 1113.6,1049.7 1114.9,1053.2 1116.2,1046.5 1117.5,1047.1 1118.8,1056.7 1120.1,1058.7 1121.4,1050.4 1122.7,1049.1 1124.0,1047.6 1125.3,1057.4 1126.6,1057.0 1127.9,1050.7 1129.2,1045.4 1130.5,1054.4 1131.8,1052.0 1133.1,1044.1 1134.4,1059.7 1135.7,1042.1 1137.0,1061.7 1138.3,1041.3 1139.6,1047.5 1140.9,1047.2 1142.2,1060.5 1143.5,1046.6 1144.8,1060.6 1146.1,1059.1 1147.4,1058.8 1148.7,1041.6 1150.0,1057.1 1151.3,1061.3 1152.6,1058.1 1153.9,1047.8 1155.2,1048.5 1156.5,1046.6 1157.8,1041.4 1159.1,1058.6 1160.4,1049.2 1161.7,1047.7 1163.0,1052.0 1164.3,1047.2 1165.6,1048.8 1166.9,1058.8 1168.2,1055.7 1169.5,1046.5 1170.8,1055.2 1172.1,1043.9 1173.4,1047.5 1174.7,1059.3 1176.0,1056.2 1177.3,1052.9 1178.6,1049.2 1179.9,1055.1 1181.2,1045.4 1182.5,1050.7 1183.8,1041.8 1185.1,1045.0 1186.4,1056.0 1187.7,1041.4 1189.0,1042.7 1190.3,1060.6 1191.6,1048.1 1192.9,1045.7 1194.2,1045.1 1195.5,1057.1 1196.8,1058.5 1198.1,1052.9 1199.4,1053.3 1200.7,1044.3 1202.0,1046.5 1203.3,1051.3 1204.6,1059.4 1205.9,1060.1 1207.2,1056.2 1208.5,1055.6 1209.8,1036.7 1211.1,1057.9 1212.4,1041.4 1213.7,1044.3 1215.0,1053.6 1216.3,1055.7 1217.6,1059.0 1218.9,1050.5 1220.2,1040.9 1221.5,1045.5 1222.8,1060.7 1224.1,1058.4 1225.4,1047.9 1226.7,1055.6 1228.0,1051.8 1229.3,1045.9 1230.6,1048.0 1231.9,1039.2 1233.2,1046.7 1234.5,1044.6 1235.8,1054.8 1237.1,1050.1 1238.4,1055.6 1239.7,1046.7 1241.0,1046.3 1242.3,1039.5 1243.6,1059.2 1244.9,1053.0 1246.2,1042.1 1247.5,1039.0 1248.8,1058.7 1250.1,1050.5 1251.4,1038.5 1252.7,1047.6 1254.0,1046.3 1255.3,1051.3 1256.6,1058.0 1257.9,1060.9 1259.2,1040.4 1260.5,1041.9 1261.8,1046.3 1263.1,1056.8 1264.4,1053.6 1265.7,1053.9 1267.0,1047.9 1268.3,1040.1 1269.6,1059.8 1270.9,1037.5 1272.2,1051.3 1273.5,1046.3 1274.8,1050.7 1276.1,1059.4 1277.4,1047.7 1278.7,1046.4 1280.0,1048.0 1281.3,1053.3 1282.6,1038.9 1283.9,1039.2 1285.2,1034.7 1286.5,1050.7 1287.8,1047.5 1289.1,1048.2 1290.4,1041.2 1291.7,1047.7 1293.0,1041.4 1294.3,1052.9 1295.6,1061.3 1296.9,1052.6 1298.2,1057.2 1299.5,1059.4 1300.8,1043.4 1302.1,1053.0 1303.4,1034.8 1304.7,1052.3 1306.0,1045.9 1307.3,1054.9 1308.6,1060.4 1309.9,1042.7 1311.2,1056.9 1312.5,1053.0 1313.8,1052.1 1315.1,1044.0 1316.4,1040.3 1317.7,1041.3 1319.0,1057.9 1320.3,1046.4 1321.6,1056.3 1322.9,1056.4 1324.2,1061.0 1325.5,1058.0 1326.8,1057.4 1328.1,1043.9 1329.4,1062.1 1330.7,1043.8 1332.0,1061.0 1333.3,1059.4 1334.6,1052.6 1335.9,1051.1 1337.2,1043.6 1338.5,1053.9 1339.8,1045.9 1341.1,1044.3 1342.4,1042.3 1343.7,1052.6 1345.0,1062.3 1346.3,1040.6 1347.6,1043.2 1348.9,1047.5 1350.2,1038.6 1351.5,1041.8 1352.8,1051.1 1354.1,1046.9 1355.4,1046.0 1356.7,1047.3 1358.0,1053.6 1359.3,1047.9 1360.6,1047.7 1361.9,1051.2 1363.2,1056.9 1364.5,1045.8 1365.8,1057.2 1367.1,1047.3 1368.4,1057.6 1369.7,1045.6 1371.0,1051.6 1372.3,1059.7 1373.6,1053.7 1374.9,1040.5 1376.2,1045.3 1377.5,1068.4 1378.8,1040.6 1380.1,1048.0 1381.4,1061.4 1382.7,1033.4 1384.0,1044.5 1385.3,1043.1 1386.6,1046.8 1387.9,1049.7 1389.2,1050.5 1390.5,1046.7 1391.8,1043.6 1393.1,1055.6 1394.4,1057.0 1395.7,1048.2 1397.0,1043.0 1398.3,1054.2 1399.6,1059.5 1400.9,1051.7 1402.2,1059.1 1403.5,1052.4 1404.8,1054.3 1406.1,1048.3 1407.4,1055.5 1408.7,1056.0 1410.0,1056.4 1411.3,1046.7 1412.6,1061.7 1413.9,1056.0 1415.2,1047.2 1416.5,1043.1 1417.8,1054.5 1419.1,1038.6 1420.4,1054.0 1421.7,1055.3 1423.0,1046.4 1424.3,1060.3 1425.6,1052.9 1426.9,1050.6 1428.2,1051.7 1429.5,1064.6 1430.8,1043.9 1432.1,1057.8 1433.4,1050.5 1434.7,1060.6 1436.0,1062.5 1437.3,1040.2 1438.6,1059.3 1439.9,1051.4 1441.2,1041.6 1442.5,1051.8 1443.8,1039.5 1445.1,1050.4 1446.4,1048.3 1447.7,1050.2 1449.0,1050.5 1450.3,1049.8 1451.6,1057.3 1452.9,1060.3 1454.2,1050.7 1455.5,1053.7 1456.8,1047.6 1458.1,1051.9 1459.4,1063.3 1460.7,1047.7 1462.0,1063.9 1463.3,1056.7 1464.6,1054.7 1465.9,1062.1 1467.2,1052.3 1468.5,1063.5 1469.8,1049.8 1471.1,1052.1 1472.4,1063.8 1473.7,1056.8 1475.0,1052.8 1476.3,1057.7 1477.6,1057.0 1478.9,1058.3 1480.2,1056.4 1481.5,1068.2 1482.8,1050.2 1484.1,1056.7 1485.4,1066.9 1486.7,1055.5 1488.0,1069.7 1489.3,1052.9 1490.6,1061.6 1491.9,1062.0 1493.2,1065.1 1494.5,1069.7 1495.8,1062.9 1497.1,1044.5 1498.4,1063.2 1499.7,1052.4 1501.0,1053.5 1502.3,1049.8 1503.6,1061.9 1504.9,1066.0 1506.2,1061.7 1507.5,1053.2 1508.8,1051.7 1510.1,1063.0 1511.4,1066.1 1512.7,1059.4 1514.0,1062.3 1515.3,1065.3 1516.6,1060.2 1517.9,1057.1 1519.2,1049.9 1520.5,1053.3 1521.8,1071.7 1523.1,1059.8 1524.4,1049.0 1525.7,1058.8 1527.0,1052.5 1528.3,1056.8 1529.6,1059.2 1530.9,1065.9 1532.2,1056.2 1533.5,1060.4 1534.8,1059.8 1536.1,1067.5 1537.4,1064.5 1538.7,1055.4 1540.0,1065.5 1541.3,1056.1 1542.6,1070.5 1543.9,1056.1 1545.2,1051.8 1546.5,1061.0 1547.8,1055.0 1549.1,1062.6 1550.4,1062.2 1551.7,1057.9 1553.0,1048.0 1554.3,1065.7 1555.6,1051.6 1556.9,1064.5 1558.2,1067.6 1559.5,1052.7 1560.8,1049.3 1562.1,1064.5 1563.4,1054.4 1564.7,1048.5 1566.0,1056.1 1567.3,1056.0 1568.6,1058.8 1569.9,1058.1 1571.2,1068.3 1572.5,1061.4 1573.8,1050.5 1575.1,1057.7 1576.4,1056.2 1577.7,1071.4 1579.0,1048.2 1580.3,1051.9 1581.6,1066.5 1582.9,1051.8 1584.2,1049.3 1585.5,1047.1 1586.8,1053.9 1588.1,1064.7 1589.4,1048.6 1590.7,1051.3 1592.0,1050.8 1593.3,1057.7 1594.6,1052.4 1595.9,1059.0 1597.2,1059.9 1598.5,1064.6 1599.8,1049.6 1601.1,1039.5 1602.4,1051.7 1603.7,1061.1 1605.0,1055.3 1606.3,1045.2 1607.6,1055.0 1608.9,1055.7 1610.2,1057.9 1611.5,1061.2 1612.8,1054.4 1614.1,1058.9 1615.4,1050.5 1616.7,1045.4 1618.0,1052.1 1619.3,1043.1 1620.6,1049.1 1621.9,1062.9 1623.2,1050.0 1624.5,1047.6 1625.8,1062.2 1627.1,1049.3 1628.4,1061.1 1629.7,1056.4 1631.0,1048.4 1632.3,1046.7 1633.6,1044.7 1634.9,1054.0 1636.2,1043.5 1637.5,1039.0 1638.8,1053.5 1640.1,1051.6 1641.4,1052.3 1642.7,1052.1 1644.0,1040.7 1645.3,1036.1 1646.6,1048.1 1647.9,1040.5 1649.2,1049.0 1650.5,1056.0 1651.8,1047.8 1653.1,1046.2 1654.4,1040.2 1655.7,1044.8 1657.0,1063.0 1658.3,1043.2 1659.6,1047.1 1660.9,1042.6 1662.2,1055.5 1663.5,1038.5 1664.8,1055.6 1666.1,1051.6 1667.4,1056.3 1668.7,1060.3 1670.0,1060.2 1671.3,1048.1 1672.6,1045.6 1673.9,1051.6 1675.2,1055.9 1676.5,1045.4 1677.8,1060.7 1679.1,1046.1 1680.4,1051.1 1681.7,1052.3 1683.0,1051.7 1684.3,1065.8 1685.6,1057.4 1686.9,1051.2 1688.2,1057.3 1689.5,1054.6 1690.8,1052.0 1692.1,1051.9 1693.4,1048.9 1694.7,1049.8 1696.0,1054.2 1697.3,1044.4 1698.6,1051.5 1699.9,1051.7 1701.2,1062.8 1702.5,1062.2 1703.8,1045.6 1705.1,1057.3 1706.4,1057.9 1707.7,1048.3 1709.0,1056.2 1710.3,1051.5 1711.6,1058.9 1712.9,1071.9 1714.2,1048.7 1715.5,1064.8 1716.8,1054.1 1718.1,1057.4 1719.4,1053.0 1720.7,1059.2 1722.0,1046.8 1723.3,1055.7 1724.6,1048.2 1725.9,1050.7 1727.2,1052.9 1728.5,1043.6 1729.8,1046.2 1731.1,1059.4 1732.4,1062.6 1733.7,1059.9 1735.0,1049.0 1736.3,1058.6 1737.6,1041.0 1738.9,1063.5 1740.2,1058.5 1741.5,1055.2 1742.8,1049.0 1744.1,1049.2 1745.4,1052.4 1746.7,1050.5 1748.0,1060.6 1749.3,1051.0 1750.6,1043.9 1751.9,1057.1 1753.2,1052.8 1754.5,1062.7 1755.8,1059.7 1757.1,1042.3 1758.4,1060.2 1759.7,1045.9 1761.0,1063.0 1762.3,1049.4 1763.6,1055.9 1764.9,1050.0 1766.2,1055.9 1767.5,1053.8 1768.8,1052.3 1770.1,1057.5 1771.4,1053.2 1772.7,1053.2 1774.0,1054.0 1775.3,1053.3 1776.6,1053.1 1777.9,1055.9 1779.2,1045.7 1780.5,1048.2 1781.8,1052.8 1783.1,1052.9 1784.4,1043.8 1785.7,1053.6 1787.0,1056.2 1788.3,1046.6 1789.6,1047.3 1790.9,1054.9 1792.2,1042.8 1793.5,1059.7 1794.8,1050.7 1796.1,1049.8 1797.4,1051.7 1798.7,1050.0 1800.0,1051.3 1801.3,1049.2 1802.6,1055.9 1803.9,1058.5 1805.2,1047.3 1806.5,1057.8 1807.8,1045.8 1809.1,1056.1 1810.4,1053.8 1811.7,1049.9 1813.0,1060.4 1814.3,1055.2 1815.6,1039.7 1816.9,1047.5 1818.2,1056.6 1819.5,1060.8 1820.8,1054.4 1822.1,1056.6 1823.4,1059.1 1824.7,1057.3 1826.0,1056.0 1827.3,1045.3 1828.6,1051.6 1829.9,1054.4 1831.2,1057.9 1832.5,1048.7 1833.8,1055.9 1835.1,1040.9 1836.4,1059.6 1837.7,1055.2 1839.0,1062.5 1840.3,1044.4 1841.6,1061.2 1842.9,1055.7 1844.2,1050.5 1845.5,1045.0 1846.8,1051.7 1848.1,1056.7 1849.4,1045.0 1850.7,1047.3 1852.0,1048.7 1853.3,1043.1 1854.6,1059.8 1855.9,1059.8 1857.2,1063.4 1858.5,1054.8 1859.8,1057.3 1861.1,1046.4 1862.4,1062.7 1863.7,1051.8"/>
<polyline fill="none" stroke="#50ad6e" stroke-width="6.0" stroke-linejoin="round" points="32.0,1160.8 33.3,1178.0 34.6,1163.9 35.9,1173.6 37.2,1174.7 38.5,1153.8 39.8,1161.1 41.1,1158.8 42.4,1149.3 43.7,1157.6 45.0,1159.8 46.3,1159.9 47.6,1158.5 48.9,1157.6 50.2,1176.0 51.5,1169.0 52.8,1169.7 54.1,1184.7 55.4,1181.5 56.7,1174.9 58.0,1190.6 59.3,1172.4 60.6,1172.7 61.9,1169.8 63.2,1168.5 64.5,1175.5 65.8,1179.8 67.1,1184.2 68.4,1183.8 69.7,1180.7 71.0,1181.5 72.3,1179.3 73.6,1174.8 74.9,1181.0 76.2,1165.5 77.5,1173.0 78.8,1182.1 80.1,1188.3 81.4,1187.6 82.7,1168.6 84.0,1192.3 85.3,1181.0 86.6,1189.3 87.9,1165.8 89.2,1172.3 90.5,1179.3 91.8,1175.6 93.1,1168.7 94.4,1165.4 95.7,1170.3 97.0,1173.1 98.3,1182.5 99.6,1173.5 100.9,1178.7 102.2,1172.0 103.5,1179.2 104.8,1165.2 106.1,1181.1 107.4,1166.0 108.7,1170.0 110.0,1170.6 111.3,1168.6 112.6,1175.8 113.9,1182.5 115.2,1182.0 116.5,1179.1 117.8,1198.3 119.1,1185.2 120.4,1188.8 121.7,1200.3 123.0,1194.5 124.3,1202.9 125.6,1204.2 126.9,1193.8 128.2,1195.1 129.5,1195.8 130.8,1197.5 132.1,1199.3 133.4,1197.6 134.7,1217.0 136.0,1207.6 137.3,1206.6 138.6,1203.5 139.9,1211.2 141.2,1210.8 142.5,1205.7 143.8,1205.2 145.1,1205.3 146.4,1205.0 147.7,1204.6 149.0,1219.8 150.3,1204.9 151.6,1210.7 152.9,1210.8 154.2,1217.9 155.5,1214.8 156.8,1210.6 158.1,1211.4 159.4,1208.3 160.7,1200.3 162.0,1223.1 163.3,1212.7 164.6,1218.3 165.9,1205.6 167.2,1200.7 168.5,1212.8 169.8,1208.9 171.1,1221.3 172.4,1219.8 173.7,1199.8 175.0,1214.5 176.3,1209.6 177.6,1207.0 178.9,1215.7 180.2,1219.6 181.5,1215.2 182.8,1217.8 184.1,1219.6 185.4,1217.1 186.7,1210.4 188.0,1209.0 189.3,1218.1 190.6,1204.1 191.9,1208.9 193.2,1207.7 194.5,1201.6 195.8,1212.6 197.1,1203.9 198.4,1211.3 199.7,1216.3 201.0,1221.3 202.3,1220.2 203.6,1211.2 204.9,1219.2 206.2,1222.1 207.5,1207.2 208.8,1200.9 210.1,1207.2 211.4,1223.7 212.7,1216.0 214.0,1218.3 215.3,1210.9 216.6,1215.0 217.9,1212.9 219.2,1217.7 220.5,1212.2 221.8,1214.2 223.1,1208.9 224.4,1203.8 225.7,1188.8 227.0,1186.3 228.3,1190.5 229.6,1186.5 230.9,1174.9 232.2,1168.9 233.5,1151.2 234.8,1158.6 236.1,1140.1 237.4,1127.6 238.7,1120.4 240.0,1105.4 241.3,1095.5 242.6,1115.8 243.9,1119.5 245.2,1129.0 246.5,1141.3 247.8,1137.8 249.1,1159.0 250.4,1159.1 251.7,1151.3 253.0,1151.7 254.3,1175.6 255.6,1168.4 256.9,1177.6 258.2,1182.9 259.5,1174.4 260.8,1182.3 262.1,1174.0 263.4,1175.5 264.7,1155.4 266.0,1162.4 267.3,1151.6 268.6,1153.6 269.9,1149.2 271.2,1161.1 272.5,1163.6 273.8,1163.1 275.1,1164.6 276.4,1181.3 277.7,1183.0 279.0,1186.3 280.3,1191.3 281.6,1199.8 282.9,1197.0 284.2,1199.8 285.5,1196.9 286.8,1217.4 288.1,1201.5 289.4,1198.4 290.7,1205.6 292.0,1218.1 293.3,1214.2 294.6,1204.6 295.9,1199.1 297.2,1204.3 298.5,1216.6 299.8,1212.3 301.1,1217.4 302.4,1222.0 303.7,1209.0 305.0,1210.6 306.3,1220.3 307.6,1210.7 308.9,1211.9 310.2,1207.1 311.5,1213.7 312.8,1214.3 314.1,1210.9 315.4,1211.9 316.7,1212.3 318.0,1214.4 319.3,1219.2 320.6,1220.3 321.9,1215.6 323.2,1199.8 324.5,1204.9 325.8,1213.2 327.1,1207.0 328.4,1205.1 329.7,1197.0 331.0,1199.5 332.3,1195.0 333.6,1187.5 334.9,1193.3 336.2,1187.6 337.5,1176.4 338.8,1176.8 340.1,1171.8 341.4,1175.7 342.7,1196.0 344.0,1186.8 345.3,1197.4 346.6,1202.0 347.9,1209.5 349.2,1203.5 350.5,1205.8 351.8,1213.9 353.1,1215.1 354.4,1220.1 355.7,1221.7 357.0,1212.2 358.3,1209.3 359.6,1224.7 360.9,1215.2 362.2,1222.7 363.5,1214.9 364.8,1208.2 366.1,1222.5 367.4,1205.6 368.7,1222.6 370.0,1223.7 371.3,1219.5 372.6,1220.5 373.9,1212.3 375.2,1205.8 376.5,1215.6 377.8,1222.1 379.1,1214.6 380.4,1214.7 381.7,1205.9 383.0,1216.9 384.3,1216.8 385.6,1204.7 386.9,1210.9 388.2,1211.4 389.5,1208.7 390.8,1206.9 392.1,1210.9 393.4,1219.3 394.7,1217.4 396.0,1216.5 397.3,1204.7 398.6,1205.9 399.9,1208.5 401.2,1202.4 402.5,1209.9 403.8,1197.7 405.1,1197.9 406.4,1191.0 407.7,1195.4 409.0,1203.2 410.3,1198.4 411.6,1194.9 412.9,1190.4 414.2,1193.5 415.5,1200.8 416.8,1183.0 418.1,1189.9 419.4,1194.7 420.7,1190.1 422.0,1200.3 423.3,1188.7 424.6,1197.2 425.9,1201.3 427.2,1204.4 428.5,1199.7 429.8,1205.6 431.1,1208.5 432.4,1212.8 433.7,1201.5 435.0,1209.3 436.3,1215.2 437.6,1203.9 438.9,1206.4 440.2,1200.2 441.5,1205.8 442.8,1206.4 444.1,1192.9 445.4,1189.5 446.7,1188.9 448.0,1197.6 449.3,1196.6 450.6,1195.5 451.9,1196.4 453.2,1193.2 454.5,1191.5 455.8,1190.2 457.1,1186.7 458.4,1184.6 459.7,1198.0 461.0,1203.8 462.3,1185.8 463.6,1191.3 464.9,1196.4 466.2,1197.9 467.5,1208.6 468.8,1212.2 470.1,1197.0 471.4,1208.2 472.7,1211.9 474.0,1200.5 475.3,1196.2 476.6,1199.2 477.9,1198.8 479.2,1194.6 480.5,1217.0 481.8,1195.0 483.1,1203.9 484.4,1204.0 485.7,1214.6 487.0,1210.2 488.3,1204.6 489.6,1208.2 490.9,1194.3 492.2,1204.7 493.5,1187.3 494.8,1190.8 496.1,1190.7 497.4,1190.2 498.7,1181.3 500.0,1193.2 501.3,1182.6 502.6,1185.3 503.9,1175.4 505.2,1189.8 506.5,1189.0 507.8,1183.5 509.1,1196.1 510.4,1198.6 511.7,1200.3 513.0,1204.7 514.3,1205.9 515.6,1199.0 516.9,1213.0 518.2,1204.6 519.5,1203.6 520.8,1211.3 522.1,1214.7 523.4,1213.3 524.7,1220.3 526.0,1224.5 527.3,1219.8 528.6,1218.2 529.9,1217.4 531.2,1221.1 532.5,1219.2 533.8,1228.1 535.1,1216.8 536.4,1219.2 537.7,1223.7 539.0,1223.7 540.3,1220.5 541.6,1218.3 542.9,1225.2 544.2,1214.1 545.5,1220.3 546.8,1238.3 548.1,1228.6 549.4,1235.9 550.7,1218.5 552.0,1218.3 553.3,1217.9 554.6,1227.2 555.9,1232.0 557.2,1238.1 558.5,1222.4 559.8,1226.3 561.1,1230.6 562.4,1214.8 563.7,1222.8 565.0,1224.5 566.3,1224.1 567.6,1224.7 568.9,1209.5 570.2,1219.3 571.5,1216.2 572.8,1221.7 574.1,1226.9 575.4,1223.9 576.7,1223.7 578.0,1216.1 579.3,1214.4 580.6,1219.8 581.9,1217.9 583.2,1215.8 584.5,1212.4 585.8,1228.4 587.1,1219.6 588.4,1220.0 589.7,1222.4 591.0,1222.8 592.3,1215.0 593.6,1219.2 594.9,1211.1 596.2,1207.8 597.5,1213.1 598.8,1221.7 600.1,1213.1 601.4,1211.0 602.7,1203.4 604.0,1209.2 605.3,1204.8 606.6,1214.3 607.9,1198.9 609.2,1203.0 610.5,1205.8 611.8,1197.6 613.1,1200.8 614.4,1204.8 615.7,1208.5 617.0,1209.9 618.3,1217.3 619.6,1207.8 620.9,1216.7 622.2,1212.3 623.5,1212.6 624.8,1214.6 626.1,1218.8 627.4,1223.0 628.7,1228.2 630.0,1233.5 631.3,1228.5 632.6,1221.9 633.9,1219.4 635.2,1227.1 636.5,1225.4 637.8,1227.4 639.1,1233.3 640.4,1227.7 641.7,1230.1 643.0,1223.5 644.3,1237.4 645.6,1237.7 646.9,1228.0 648.2,1236.3 649.5,1230.0 650.8,1228.8 652.1,1226.8 653.4,1229.4 654.7,1223.8 656.0,1232.5 657.3,1228.0 658.6,1237.5 659.9,1220.8 661.2,1229.6 662.5,1224.2 663.8,1234.8 665.1,1234.7 666.4,1233.4 667.7,1227.5 669.0,1236.3 670.3,1234.3 671.6,1240.8 672.9,1233.5 674.2,1233.4 675.5,1227.7 676.8,1224.1 678.1,1231.2 679.4,1234.2 680.7,1230.9 682.0,1232.3 683.3,1232.4 684.6,1231.2 685.9,1232.5 687.2,1233.2 688.5,1224.1 689.8,1223.4 691.1,1231.7 692.4,1234.2 693.7,1228.2 695.0,1230.3 696.3,1228.8 697.6,1233.8 698.9,1227.8 700.2,1227.7 701.5,1229.4 702.8,1228.1 704.1,1230.3 705.4,1222.1 706.7,1223.4 708.0,1220.2 709.3,1223.9 710.6,1227.0 711.9,1229.7 713.2,1223.7 714.5,1229.8 715.8,1218.3 717.1,1212.0 718.4,1214.1 719.7,1216.3 721.0,1216.0 722.3,1203.9 723.6,1211.8 724.9,1216.0 726.2,1219.7 727.5,1205.3 728.8,1198.6 730.1,1198.8 731.4,1205.2 732.7,1199.3 734.0,1197.8 735.3,1202.0 736.6,1187.6 737.9,1190.2 739.2,1186.6 740.5,1183.5 741.8,1174.5 743.1,1178.3 744.4,1170.8 745.7,1167.4 747.0,1164.7 748.3,1161.8 749.6,1158.8 750.9,1162.0 752.2,1161.4 753.5,1159.6 754.8,1152.3 756.1,1160.1 757.4,1160.5 758.7,1165.0 760.0,1159.9 761.3,1160.5 762.6,1162.7 763.9,1181.1 765.2,1170.0 766.5,1182.8 767.8,1183.7 769.1,1192.8 770.4,1195.9 771.7,1201.5 773.0,1208.1 774.3,1203.7 775.6,1206.1 776.9,1219.4 778.2,1218.6 779.5,1214.4 780.8,1208.2 782.1,1217.4 783.4,1211.7 784.7,1212.0 786.0,1215.1 787.3,1205.1 788.6,1202.4 789.9,1218.1 791.2,1213.6 792.5,1207.9 793.8,1214.3 795.1,1216.4 796.4,1210.8 797.7,1206.3 799.0,1214.1 800.3,1208.2 801.6,1206.0 802.9,1207.4 804.2,1197.6 805.5,1204.8 806.8,1203.9 808.1,1193.1 809.4,1209.9 810.7,1196.0 812.0,1206.5 813.3,1198.1 814.6,1197.8 815.9,1196.3 817.2,1195.1 818.5,1182.5 819.8,1192.7 821.1,1192.3 822.4,1187.4 823.7,1181.7 825.0,1195.2 826.3,1195.5 827.6,1200.6 828.9,1196.4 830.2,1202.6 831.5,1197.3 832.8,1201.9 834.1,1199.4 835.4,1197.2 836.7,1204.1 838.0,1210.0 839.3,1211.9 840.6,1202.7 841.9,1206.7 843.2,1211.9 844.5,1214.7 845.8,1199.9 847.1,1217.5 848.4,1217.2 849.7,1209.3 851.0,1215.4 852.3,1211.2 853.6,1218.3 854.9,1227.7 856.2,1226.2 857.5,1211.3 858.8,1208.3 860.1,1226.8 861.4,1209.1 862.7,1224.6 864.0,1217.8 865.3,1223.4 866.6,1227.4 867.9,1213.7 869.2,1221.2 870.5,1222.6 871.8,1217.6 873.1,1218.1 874.4,1217.8 875.7,1222.5 877.0,1218.1 878.3,1212.3 879.6,1204.5 880.9,1215.7 882.2,1213.8 883.5,1219.6 884.8,1207.8 886.1,1221.9 887.4,1216.0 888.7,1215.9 890.0,1203.7 891.3,1205.2 892.6,1205.6 893.9,1217.8 895.2,1218.5 896.5,1204.7 897.8,1205.7 899.1,1208.3 900.4,1205.6 901.7,1215.8 903.0,1209.2 904.3,1199.3 905.6,1199.2 906.9,1203.2 908.2,1205.9 909.5,1198.0 910.8,1202.9 912.1,1210.3 913.4,1195.8 914.7,1211.4 916.0,1206.2 917.3,1203.1 918.6,1194.0 919.9,1189.3 921.2,1191.9 922.5,1188.2 923.8,1190.2 925.1,1190.1 926.4,1191.2 927.7,1203.4 929.0,1196.7 930.3,1190.5 931.6,1196.6 932.9,1186.4 934.2,1186.6 935.5,1202.6 936.8,1185.0 938.1,1187.7 939.4,1189.0 940.7,1202.5 942.0,1181.6 943.3,1192.8 944.6,1198.6 945.9,1191.3 947.2,1186.8 948.5,1191.3 949.8,1183.0 951.1,1194.1 952.4,1182.2 953.7,1191.2 955.0,1189.9 956.3,1174.0 957.6,1184.1 958.9,1190.9 960.2,1182.1 961.5,1192.1 962.8,1181.7 964.1,1196.3 965.4,1193.7 966.7,1193.9 968.0,1177.7 969.3,1198.9 970.6,1194.2 971.9,1188.2 973.2,1190.2 974.5,1188.8 975.8,1183.7 977.1,1189.2 978.4,1185.4 979.7,1180.3 981.0,1189.6 982.3,1180.8 983.6,1183.2 984.9,1202.6 986.2,1194.3 987.5,1204.7 988.8,1200.7 990.1,1189.3 991.4,1198.9 992.7,1194.6 994.0,1184.0 995.3,1186.7 996.6,1194.8 997.9,1194.4 999.2,1194.8 1000.5,1192.2 1001.8,1197.4 1003.1,1191.3 1004.4,1201.6 1005.7,1198.6 1007.0,1201.7 1008.3,1201.6 1009.6,1195.0 1010.9,1205.9 1012.2,1194.7 1013.5,1207.3 1014.8,1202.3 1016.1,1196.8 1017.4,1191.3 1018.7,1204.6 1020.0,1193.0 1021.3,1195.2 1022.6,1202.5 1023.9,1200.9 1025.2,1200.6 1026.5,1213.7 1027.8,1198.5 1029.1,1209.1 1030.4,1212.6 1031.7,1202.2 1033.0,1212.0 1034.3,1209.1 1035.6,1198.0 1036.9,1207.9 1038.2,1219.6 1039.5,1199.6 1040.8,1186.6 1042.1,1200.6 1043.4,1192.2 1044.7,1203.7 1046.0,1201.5 1047.3,1207.2 1048.6,1193.2 1049.9,1199.8 1051.2,1193.8 1052.5,1204.8 1053.8,1191.8 1055.1,1196.6 1056.4,1205.9 1057.7,1189.5 1059.0,1192.6 1060.3,1201.5 1061.6,1195.0 1062.9,1201.5 1064.2,1199.0 1065.5,1201.8 1066.8,1184.6 1068.1,1198.0 1069.4,1188.4 1070.7,1198.2 1072.0,1193.8 1073.3,1187.1 1074.6,1178.4 1075.9,1179.1 1077.2,1188.1 1078.5,1195.1 1079.8,1186.0 1081.1,1177.0 1082.4,1179.5 1083.7,1175.6 1085.0,1180.2 1086.3,1191.1 1087.6,1180.5 1088.9,1190.1 1090.2,1181.3 1091.5,1197.9 1092.8,1177.1 1094.1,1188.8 1095.4,1179.8 1096.7,1180.9 1098.0,1202.2 1099.3,1186.3 1100.6,1204.1 1101.9,1188.4 1103.2,1189.8 1104.5,1199.2 1105.8,1191.7 1107.1,1206.9 1108.4,1198.3 1109.7,1213.0 1111.0,1212.8 1112.3,1208.7 1113.6,1204.9 1114.9,1219.4 1116.2,1202.4 1117.5,1208.0 1118.8,1208.5 1120.1,1204.1 1121.4,1202.7 1122.7,1204.9 1124.0,1198.5 1125.3,1196.0 1126.6,1195.8 1127.9,1206.5 1129.2,1198.2 1130.5,1202.7 1131.8,1203.5 1133.1,1207.8 1134.4,1203.9 1135.7,1207.4 1137.0,1199.2 1138.3,1196.2 1139.6,1198.2 1140.9,1188.4 1142.2,1197.7 1143.5,1206.5 1144.8,1200.8 1146.1,1185.5 1147.4,1199.9 1148.7,1188.4 1150.0,1197.7 1151.3,1185.7 1152.6,1190.9 1153.9,1184.3 1155.2,1193.8 1156.5,1190.5 1157.8,1196.4 1159.1,1191.7 1160.4,1191.6 1161.7,1194.0 1163.0,1187.9 1164.3,1186.6 1165.6,1190.4 1166.9,1185.8 1168.2,1190.4 1169.5,1196.6 1170.8,1182.8 1172.1,1191.0 1173.4,1200.5 1174.7,1199.6 1176.0,1197.9 1177.3,1185.8 1178.6,1196.1 1179.9,1183.4 1181.2,1198.5 1182.5,1183.1 1183.8,1194.5 1185.1,1201.1 1186.4,1190.3 1187.7,1191.4 1189.0,1185.4 1190.3,1194.1 1191.6,1192.7 1192.9,1192.9 1194.2,1196.0 1195.5,1194.4 1196.8,1210.0 1198.1,1209.4 1199.4,1197.4 1200.7,1198.8 1202.0,1210.5 1203.3,1207.2 1204.6,1203.5 1205.9,1195.2 1207.2,1195.5 1208.5,1202.5 1209.8,1196.4 1211.1,1198.8 1212.4,1190.6 1213.7,1193.2 1215.0,1214.1 1216.3,1199.4 1217.6,1194.7 1218.9,1207.6 1220.2,1190.9 1221.5,1201.2 1222.8,1194.6 1224.1,1205.8 1225.4,1196.0 1226.7,1192.2 1228.0,1194.9 1229.3,1186.8 1230.6,1206.9 1231.9,1202.2 1233.2,1198.9 1234.5,1200.9 1235.8,1192.1 1237.1,1205.7 1238.4,1192.3 1239.7,1181.0 1241.0,1183.1 1242.3,1190.8 1243.6,1187.0 1244.9,1193.1 1246.2,1178.3 1247.5,1198.5 1248.8,1180.0 1250.1,1190.7 1251.4,1193.3 1252.7,1196.3 1254.0,1190.7 1255.3,1185.6 1256.6,1188.3 1257.9,1178.3 1259.2,1168.7 1260.5,1182.3 1261.8,1194.2 1263.1,1183.8 1264.4,1189.0 1265.7,1191.7 1267.0,1194.3 1268.3,1186.5 1269.6,1187.8 1270.9,1171.2 1272.2,1181.1 1273.5,1178.9 1274.8,1182.0 1276.1,1190.3 1277.4,1191.4 1278.7,1195.1 1280.0,1189.0 1281.3,1191.2 1282.6,1189.0 1283.9,1175.2 1285.2,1183.3 1286.5,1196.2 1287.8,1189.3 1289.1,1200.2 1290.4,1198.7 1291.7,1196.1 1293.0,1189.6 1294.3,1194.2 1295.6,1191.3 1296.9,1186.4 1298.2,1185.9 1299.5,1182.5 1300.8,1175.2 1302.1,1181.2 1303.4,1184.5 1304.7,1199.2 1306.0,1187.9 1307.3,1177.5 1308.6,1187.3 1309.9,1184.6 1311.2,1182.4 1312.5,1177.0 1313.8,1187.0 1315.1,1179.8 1316.4,1188.5 1317.7,1193.3 1319.0,1179.2 1320.3,1189.2 1321.6,1180.7 1322.9,1170.4 1324.2,1172.7 1325.5,1175.3 1326.8,1181.8 1328.1,1190.1 1329.4,1181.1 1330.7,1191.7 1332.0,1185.0 1333.3,1187.5 1334.6,1177.2 1335.9,1194.1 1337.2,1199.6 1338.5,1197.4 1339.8,1207.8 1341.1,1203.5 1342.4,1190.5 1343.7,1198.1 1345.0,1197.9 1346.3,1201.8 1347.6,1189.4 1348.9,1195.6 1350.2,1203.5 1351.5,1203.9 1352.8,1194.5 1354.1,1200.7 1355.4,1194.6 1356.7,1188.6 1358.0,1204.8 1359.3,1205.5 1360.6,1194.8 1361.9,1206.5 1363.2,1210.2 1364.5,1214.5 1365.8,1199.9 1367.1,1214.0 1368.4,1190.3 1369.7,1198.3 1371.0,1199.2 1372.3,1187.7 1373.6,1198.2 1374.9,1193.7 1376.2,1199.2 1377.5,1205.6 1378.8,1187.8 1380.1,1192.7 1381.4,1202.0 1382.7,1206.6 1384.0,1200.6 1385.3,1194.6 1386.6,1205.6 1387.9,1194.3 1389.2,1203.7 1390.5,1202.2 1391.8,1206.1 1393.1,1205.4 1394.4,1192.5 1395.7,1187.7 1397.0,1203.2 1398.3,1199.9 1399.6,1206.6 1400.9,1196.9 1402.2,1182.4 1403.5,1197.6 1404.8,1203.2 1406.1,1183.7 1407.4,1183.5 1408.7,1191.7 1410.0,1191.0 1411.3,1191.8 1412.6,1205.1 1413.9,1197.7 1415.2,1197.2 1416.5,1194.7 1417.8,1188.8 1419.1,1195.5 1420.4,1186.4 1421.7,1182.4 1423.0,1193.8 1424.3,1187.8 1425.6,1195.7 1426.9,1186.2 1428.2,1190.1 1429.5,1185.3 1430.8,1183.1 1432.1,1188.4 1433.4,1184.1 1434.7,1192.9 1436.0,1185.3 1437.3,1184.9 1438.6,1192.3 1439.9,1190.5 1441.2,1190.6 1442.5,1179.7 1443.8,1182.2 1445.1,1188.2 1446.4,1185.0 1447.7,1182.7 1449.0,1188.7 1450.3,1174.7 1451.6,1178.9 1452.9,1173.3 1454.2,1179.5 1455.5,1177.4 1456.8,1174.0 1458.1,1180.0 1459.4,1190.9 1460.7,1196.7 1462.0,1192.4 1463.3,1181.8 1464.6,1195.8 1465.9,1184.3 1467.2,1194.5 1468.5,1184.8 1469.8,1189.6 1471.1,1178.1 1472.4,1187.4 1473.7,1199.8 1475.0,1202.0 1476.3,1196.7 1477.6,1196.1 1478.9,1196.9 1480.2,1191.4 1481.5,1202.7 1482.8,1185.0 1484.1,1193.7 1485.4,1198.8 1486.7,1202.6 1488.0,1196.5 1489.3,1196.5 1490.6,1200.7 1491.9,1194.9 1493.2,1196.2 1494.5,1211.2 1495.8,1193.2 1497.1,1202.6 1498.4,1198.1 1499.7,1196.0 1501.0,1201.9 1502.3,1209.7 1503.6,1196.7 1504.9,1206.9 1506.2,1208.9 1507.5,1204.1 1508.8,1195.7 1510.1,1200.7 1511.4,1206.0 1512.7,1213.1 1514.0,1195.9 1515.3,1210.3 1516.6,1208.2 1517.9,1197.3 1519.2,1200.2 1520.5,1199.2 1521.8,1208.1 1523.1,1200.6 1524.4,1210.8 1525.7,1199.8 1527.0,1205.9 1528.3,1218.7 1529.6,1201.3 1530.9,1211.8 1532.2,1207.3 1533.5,1218.2 1534.8,1202.1 1536.1,1211.4 1537.4,1207.3 1538.7,1202.1 1540.0,1210.2 1541.3,1219.2 1542.6,1211.6 1543.9,1203.6 1545.2,1213.3 1546.5,1199.0 1547.8,1211.8 1549.1,1214.7 1550.4,1205.1 1551.7,1200.8 1553.0,1201.5 1554.3,1217.1 1555.6,1206.9 1556.9,1206.2 1558.2,1204.2 1559.5,1200.4 1560.8,1202.9 1562.1,1207.5 1563.4,1217.3 1564.7,1209.3 1566.0,1202.3 1567.3,1200.7 1568.6,1212.4 1569.9,1213.1 1571.2,1213.3 1572.5,1195.6 1573.8,1216.4 1575.1,1203.7 1576.4,1196.9 1577.7,1209.5 1579.0,1205.2 1580.3,1220.9 1581.6,1211.9 1582.9,1205.5 1584.2,1210.7 1585.5,1212.9 1586.8,1213.1 1588.1,1198.4 1589.4,1204.0 1590.7,1205.1 1592.0,1198.4 1593.3,1189.3 1594.6,1215.5 1595.9,1216.1 1597.2,1215.7 1598.5,1196.7 1599.8,1195.4 1601.1,1204.4 1602.4,1206.2 1603.7,1215.2 1605.0,1216.2 1606.3,1207.3 1607.6,1206.9 1608.9,1200.0 1610.2,1206.9 1611.5,1198.1 1612.8,1199.4 1614.1,1215.2 1615.4,1205.6 1616.7,1210.6 1618.0,1210.3 1619.3,1202.8 1620.6,1204.4 1621.9,1195.5 1623.2,1200.8 1624.5,1202.6 1625.8,1196.7 1627.1,1206.7 1628.4,1198.1 1629.7,1205.2 1631.0,1195.6 1632.3,1197.1 1633.6,1217.0 1634.9,1212.8 1636.2,1190.2 1637.5,1208.9 1638.8,1199.1 1640.1,1205.3 1641.4,1200.9 1642.7,1190.5 1644.0,1198.6 1645.3,1190.6 1646.6,1195.8 1647.9,1185.5 1649.2,1188.9 1650.5,1191.1 1651.8,1203.6 1653.1,1192.7 1654.4,1209.3 1655.7,1193.9 1657.0,1209.9 1658.3,1209.3 1659.6,1209.0 1660.9,1195.4 1662.2,1204.7 1663.5,1192.3 1664.8,1203.0 1666.1,1197.9 1667.4,1208.3 1668.7,1205.8 1670.0,1203.8 1671.3,1202.9 1672.6,1209.8 1673.9,1198.7 1675.2,1198.9 1676.5,1203.8 1677.8,1201.2 1679.1,1202.8 1680.4,1195.2 1681.7,1198.4 1683.0,1191.8 1684.3,1197.7 1685.6,1210.3 1686.9,1190.8 1688.2,1204.4 1689.5,1201.1 1690.8,1205.0 1692.1,1204.0 1693.4,1206.4 1694.7,1209.8 1696.0,1191.0 1697.3,1193.2 1698.6,1192.3 1699.9,1205.7 1701.2,1199.5 1702.5,1205.9 1703.8,1202.1 1705.1,1193.5 1706.4,1202.3 1707.7,1214.0 1709.0,1209.6 1710.3,1201.5 1711.6,1197.0 1712.9,1195.7 1714.2,1212.8 1715.5,1199.3 1716.8,1200.5 1718.1,1203.0 1719.4,1195.4 1720.7,1202.7 1722.0,1201.2 1723.3,1202.2 1724.6,1202.6 1725.9,1195.3 1727.2,1202.7 1728.5,1206.5 1729.8,1203.5 1731.1,1200.4 1732.4,1212.1 1733.7,1199.5 1735.0,1203.2 1736.3,1210.3 1737.6,1203.8 1738.9,1212.0 1740.2,1208.2 1741.5,1202.4 1742.8,1199.9 1744.1,1213.9 1745.4,1210.7 1746.7,1213.8 1748.0,1206.7 1749.3,1197.6 1750.6,1213.3 1751.9,1204.1 1753.2,1201.7 1754.5,1218.1 1755.8,1211.8 1757.1,1209.7 1758.4,1217.0 1759.7,1203.6 1761.0,1213.1 1762.3,1210.0 1763.6,1201.7 1764.9,1203.4 1766.2,1203.0 1767.5,1198.9 1768.8,1205.0 1770.1,1200.7 1771.4,1211.4 1772.7,1205.7 1774.0,1208.2 1775.3,1203.4 1776.6,1199.3 1777.9,1211.4 1779.2,1200.9 1780.5,1210.9 1781.8,1199.9 1783.1,1207.4 1784.4,1211.0 1785.7,1207.8 1787.0,1210.1 1788.3,1213.0 1789.6,1200.2 1790.9,1209.8 1792.2,1204.4 1793.5,1196.1 1794.8,1210.4 1796.1,1193.5 1797.4,1210.6 1798.7,1199.7 1800.0,1205.5 1801.3,1213.6 1802.6,1205.6 1803.9,1198.9 1805.2,1191.6 1806.5,1203.6 1807.8,1199.1 1809.1,1195.1 1810.4,1190.4 1811.7,1195.4 1813.0,1201.9 1814.3,1195.3 1815.6,1193.8 1816.9,1193.2 1818.2,1202.8 1819.5,1211.6 1820.8,1191.8 1822.1,1199.4 1823.4,1213.2 1824.7,1190.6 1826.0,1200.4 1827.3,1196.1 1828.6,1205.8 1829.9,1194.3 1831.2,1190.4 1832.5,1210.0 1833.8,1207.0 1835.1,1191.9 1836.4,1212.2 1837.7,1189.4 1839.0,1192.6 1840.3,1196.8 1841.6,1207.5 1842.9,1209.1 1844.2,1201.3 1845.5,1192.1 1846.8,1211.4 1848.1,1201.3 1849.4,1204.9 1850.7,1195.2 1852.0,1190.5 1853.3,1191.1 1854.6,1203.1 1855.9,1201.8 1857.2,1189.0 1858.5,1201.3 1859.8,1189.0 1861.1,1192.2 1862.4,1204.9 1863.7,1193.8"/>
<polyline fill="none" stroke="#3b76dc" stroke-width="6.0" stroke-linejoin="round" points="32.0,1327.7 33.3,1320.9 34.6,1325.4 35.9,1328.8 37.2,1331.6 38.5,1333.1 39.8,1334.0 41.1,1333.2 42.4,1327.9 43.7,1330.8 45.0,1331.8 46.3,1328.8 47.6,1331.4 48.9,1337.5 50.2,1340.6 51.5,1339.0 52.8,1335.9 54.1,1338.4 55.4,1334.3 56.7,1340.1 58.0,1337.1 59.3,1340.8 60.6,1344.3 61.9,1345.7 63.2,1341.8 64.5,1347.2 65.8,1345.2 67.1,1343.5 68.4,1348.4 69.7,1337.4 71.0,1343.3 72.3,1346.2 73.6,1345.7 74.9,1348.9 76.2,1345.9 77.5,1343.6 78.8,1342.7 80.1,1349.1 81.4,1342.8 82.7,1344.6 84.0,1346.9 85.3,1349.0 86.6,1351.0 87.9,1344.1 89.2,1351.9 90.5,1351.7 91.8,1347.4 93.1,1346.0 94.4,1350.0 95.7,1351.4 97.0,1347.6 98.3,1347.3 99.6,1355.3 100.9,1352.3 102.2,1353.5 103.5,1349.5 104.8,1354.1 106.1,1347.1 107.4,1343.7 108.7,1349.4 110.0,1350.0 111.3,1347.3 112.6,1348.1 113.9,1350.3 115.2,1348.5 116.5,1343.4 117.8,1350.9 119.1,1340.6 120.4,1347.4 121.7,1338.1 123.0,1339.2 124.3,1343.4 125.6,1337.8 126.9,1341.4 128.2,1344.4 129.5,1346.2 130.8,1351.7 132.1,1352.8 133.4,1355.1 134.7,1357.7 136.0,1361.5 137.3,1360.9 138.6,1363.9 139.9,1359.2 141.2,1361.9 142.5,1361.6 143.8,1363.4 145.1,1362.3 146.4,1355.9 147.7,1364.5 149.0,1364.4 150.3,1363.3 151.6,1365.5 152.9,1365.6 154.2,1361.0 155.5,1358.9 156.8,1365.8 158.1,1364.5 159.4,1361.2 160.7,1361.4 162.0,1365.9 163.3,1363.0 164.6,1360.2 165.9,1359.2 167.2,1361.5 168.5,1364.3 169.8,1366.4 171.1,1364.8 172.4,1360.6 173.7,1365.5 175.0,1367.9 176.3,1366.1 177.6,1366.4 178.9,1368.8 180.2,1369.3 181.5,1367.5 182.8,1366.1 184.1,1365.9 185.4,1362.8 186.7,1370.6 188.0,1367.3 189.3,1364.9 190.6,1369.4 191.9,1367.4 193.2,1369.0 194.5,1367.6 195.8,1367.1 197.1,1368.8 198.4,1366.9 199.7,1369.2 201.0,1365.8 202.3,1364.7 203.6,1366.8 204.9,1370.8 206.2,1369.1 207.5,1364.5 208.8,1365.9 210.1,1367.2 211.4,1364.5 212.7,1366.0 214.0,1364.9 215.3,1369.6 216.6,1365.8 217.9,1367.5 219.2,1369.4 220.5,1370.9 221.8,1367.0 223.1,1363.3 224.4,1369.2 225.7,1368.4 227.0,1369.8 228.3,1364.8 229.6,1367.3 230.9,1369.1 232.2,1366.4 233.5,1372.4 234.8,1367.4 236.1,1372.8 237.4,1367.3 238.7,1366.7 240.0,1369.3 241.3,1367.5 242.6,1367.7 243.9,1366.1 245.2,1361.4 246.5,1362.9 247.8,1363.1 249.1,1363.0 250.4,1348.5 251.7,1333.3 253.0,1306.7 254.3,1285.1 255.6,1261.2 256.9,1258.2 258.2,1251.8 259.5,1248.3 260.8,1273.6 262.1,1293.7 263.4,1322.2 264.7,1352.9 266.0,1360.5 267.3,1363.9 268.6,1365.0 269.9,1361.7 271.2,1365.4 272.5,1362.5 273.8,1363.3 275.1,1362.7 276.4,1360.4 277.7,1356.7 279.0,1351.7 280.3,1352.1 281.6,1348.7 282.9,1342.2 284.2,1337.6 285.5,1337.0 286.8,1333.0 288.1,1337.6 289.4,1343.0 290.7,1354.7 292.0,1361.5 293.3,1362.8 294.6,1364.4 295.9,1362.5 297.2,1369.1 298.5,1366.3 299.8,1370.9 301.1,1373.6 302.4,1376.1 303.7,1373.9 305.0,1374.9 306.3,1373.2 307.6,1371.1 308.9,1374.5 310.2,1369.1 311.5,1376.5 312.8,1372.2 314.1,1370.2 315.4,1373.0 316.7,1374.8 318.0,1370.9 319.3,1370.6 320.6,1373.3 321.9,1376.4 323.2,1375.5 324.5,1375.0 325.8,1371.2 327.1,1377.9 328.4,1373.1 329.7,1376.1 331.0,1375.9 332.3,1372.0 333.6,1374.8 334.9,1370.6 336.2,1377.1 337.5,1375.8 338.8,1374.5 340.1,1376.2 341.4,1372.0 342.7,1374.1 344.0,1374.8 345.3,1367.7 346.6,1373.1 347.9,1367.9 349.2,1370.3 350.5,1364.8 351.8,1368.2 353.1,1362.5 354.4,1366.3 355.7,1363.2 357.0,1362.7 358.3,1361.0 359.6,1364.9 360.9,1365.3 362.2,1365.4 363.5,1368.1 364.8,1374.8 366.1,1371.8 367.4,1373.3 368.7,1378.7 370.0,1377.4 371.3,1375.5 372.6,1380.9 373.9,1376.2 375.2,1377.9 376.5,1381.5 377.8,1383.8 379.1,1379.6 380.4,1380.9 381.7,1376.1 383.0,1379.6 384.3,1379.1 385.6,1381.3 386.9,1379.2 388.2,1378.5 389.5,1384.4 390.8,1379.2 392.1,1385.3 393.4,1382.6 394.7,1379.5 396.0,1382.9 397.3,1383.3 398.6,1382.3 399.9,1381.0 401.2,1383.7 402.5,1384.3 403.8,1385.5 405.1,1381.7 406.4,1380.7 407.7,1382.5 409.0,1381.5 410.3,1380.7 411.6,1383.2 412.9,1375.7 414.2,1378.6 415.5,1375.4 416.8,1374.6 418.1,1378.7 419.4,1377.8 420.7,1375.6 422.0,1378.0 423.3,1377.4 424.6,1374.4 425.9,1375.6 427.2,1375.4 428.5,1367.1 429.8,1369.7 431.1,1364.1 432.4,1367.5 433.7,1367.7 435.0,1362.4 436.3,1360.4 437.6,1362.1 438.9,1360.0 440.2,1366.8 441.5,1368.0 442.8,1367.0 444.1,1373.1 445.4,1373.3 446.7,1375.4 448.0,1379.7 449.3,1377.7 450.6,1374.2 451.9,1376.2 453.2,1378.1 454.5,1376.2 455.8,1372.5 457.1,1373.6 458.4,1373.0 459.7,1367.3 461.0,1368.9 462.3,1374.7 463.6,1368.7 464.9,1372.8 466.2,1370.7 467.5,1367.7 468.8,1369.7 470.1,1365.3 471.4,1363.6 472.7,1366.2 474.0,1367.6 475.3,1368.4 476.6,1368.4 477.9,1368.0 479.2,1369.5 480.5,1375.4 481.8,1370.2 483.1,1371.6 484.4,1371.5 485.7,1375.0 487.0,1373.0 488.3,1371.6 489.6,1375.4 490.9,1375.4 492.2,1375.2 493.5,1370.5 494.8,1372.1 496.1,1373.9 497.4,1376.7 498.7,1371.7 500.0,1374.8 501.3,1367.7 502.6,1374.9 503.9,1371.1 505.2,1368.7 506.5,1370.1 507.8,1369.9 509.1,1364.6 510.4,1364.3 511.7,1370.1 513.0,1369.0 514.3,1363.7 515.6,1360.5 516.9,1363.7 518.2,1360.1 519.5,1364.2 520.8,1362.6 522.1,1369.3 523.4,1366.0 524.7,1368.2 526.0,1369.0 527.3,1375.3 528.6,1372.4 529.9,1371.8 531.2,1373.5 532.5,1375.7 533.8,1380.0 535.1,1380.2 536.4,1379.4 537.7,1382.8 539.0,1382.0 540.3,1378.8 541.6,1380.0 542.9,1383.2 544.2,1381.5 545.5,1381.7 546.8,1382.8 548.1,1384.8 549.4,1386.7 550.7,1388.0 552.0,1383.1 553.3,1384.8 554.6,1384.7 555.9,1385.8 557.2,1387.5 558.5,1381.6 559.8,1383.7 561.1,1388.5 562.4,1383.5 563.7,1389.8 565.0,1385.2 566.3,1389.4 567.6,1388.5 568.9,1386.8 570.2,1383.2 571.5,1388.3 572.8,1383.7 574.1,1382.6 575.4,1382.6 576.7,1382.9 578.0,1383.9 579.3,1385.4 580.6,1384.4 581.9,1385.7 583.2,1384.5 584.5,1381.9 585.8,1384.6 587.1,1382.5 588.4,1384.9 589.7,1382.8 591.0,1384.1 592.3,1382.7 593.6,1387.1 594.9,1387.3 596.2,1382.0 597.5,1382.6 598.8,1383.4 600.1,1384.2 601.4,1384.9 602.7,1384.6 604.0,1385.1 605.3,1381.2 606.6,1381.9 607.9,1383.4 609.2,1381.8 610.5,1380.0 611.8,1381.7 613.1,1377.6 614.4,1380.7 615.7,1372.9 617.0,1377.4 618.3,1378.0 619.6,1377.4 620.9,1374.1 622.2,1375.4 623.5,1368.8 624.8,1370.6 626.1,1370.2 627.4,1368.4 628.7,1371.7 630.0,1373.9 631.3,1373.1 632.6,1376.3 633.9,1375.0 635.2,1376.5 636.5,1380.2 637.8,1377.9 639.1,1382.8 640.4,1384.3 641.7,1384.4 643.0,1381.8 644.3,1386.4 645.6,1385.5 646.9,1384.4 648.2,1383.5 649.5,1388.2 650.8,1382.8 652.1,1387.6 653.4,1386.3 654.7,1385.6 656.0,1389.8 657.3,1383.2 658.6,1387.7 659.9,1386.5 661.2,1387.0 662.5,1388.7 663.8,1387.1 665.1,1388.5 666.4,1386.8 667.7,1387.0 669.0,1389.1 670.3,1386.9 671.6,1390.3 672.9,1389.8 674.2,1388.1 675.5,1388.2 676.8,1386.7 678.1,1386.7 679.4,1387.5 680.7,1388.5 682.0,1385.7 683.3,1388.0 684.6,1388.7 685.9,1386.6 687.2,1385.2 688.5,1387.7 689.8,1389.9 691.1,1386.3 692.4,1387.6 693.7,1389.4 695.0,1391.1 696.3,1387.5 697.6,1386.4 698.9,1392.1 700.2,1390.8 701.5,1388.4 702.8,1388.2 704.1,1389.0 705.4,1386.7 706.7,1386.6 708.0,1384.6 709.3,1384.4 710.6,1387.0 711.9,1385.9 713.2,1382.3 714.5,1382.1 715.8,1387.6 717.1,1388.3 718.4,1385.2 719.7,1384.3 721.0,1383.6 722.3,1382.8 723.6,1385.6 724.9,1386.7 726.2,1383.6 727.5,1385.6 728.8,1380.3 730.1,1381.4 731.4,1381.8 732.7,1382.6 734.0,1385.1 735.3,1381.1 736.6,1381.1 737.9,1384.3 739.2,1381.5 740.5,1383.6 741.8,1377.8 743.1,1382.0 744.4,1379.3 745.7,1376.1 747.0,1376.1 748.3,1373.4 749.6,1374.7 750.9,1371.7 752.2,1366.4 753.5,1370.9 754.8,1369.1 756.1,1364.4 757.4,1366.1 758.7,1362.6 760.0,1363.4 761.3,1358.9 762.6,1359.6 763.9,1359.3 765.2,1356.9 766.5,1358.1 767.8,1354.8 769.1,1353.5 770.4,1354.8 771.7,1350.6 773.0,1351.1 774.3,1347.9 775.6,1351.5 776.9,1354.4 778.2,1356.7 779.5,1363.4 780.8,1367.9 782.1,1371.9 783.4,1376.1 784.7,1378.8 786.0,1378.1 787.3,1376.8 788.6,1379.7 789.9,1380.7 791.2,1384.6 792.5,1386.0 793.8,1382.9 795.1,1382.3 796.4,1389.1 797.7,1386.2 799.0,1385.0 800.3,1382.5 801.6,1382.2 802.9,1381.6 804.2,1384.9 805.5,1384.8 806.8,1382.3 808.1,1385.4 809.4,1383.1 810.7,1376.3 812.0,1381.9 813.3,1377.9 814.6,1379.6 815.9,1379.5 817.2,1374.5 818.5,1375.6 819.8,1381.1 821.1,1375.3 822.4,1376.4 823.7,1376.6 825.0,1378.2 826.3,1373.5 827.6,1372.8 828.9,1368.8 830.2,1371.6 831.5,1371.7 832.8,1365.8 834.1,1370.0 835.4,1368.7 836.7,1367.3 838.0,1365.8 839.3,1367.1 840.6,1364.1 841.9,1369.4 843.2,1365.1 844.5,1368.8 845.8,1370.2 847.1,1369.6 848.4,1369.9 849.7,1372.0 851.0,1374.6 852.3,1374.6 853.6,1372.4 854.9,1378.4 856.2,1375.6 857.5,1379.4 858.8,1373.3 860.1,1375.2 861.4,1376.4 862.7,1374.9 864.0,1377.1 865.3,1376.7 866.6,1376.6 867.9,1375.5 869.2,1376.1 870.5,1377.6 871.8,1378.8 873.1,1381.8 874.4,1377.6 875.7,1377.7 877.0,1383.3 878.3,1381.2 879.6,1384.5 880.9,1381.5 882.2,1383.6 883.5,1381.3 884.8,1381.4 886.1,1387.4 887.4,1384.4 888.7,1382.0 890.0,1386.5 891.3,1381.0 892.6,1384.1 893.9,1384.2 895.2,1383.5 896.5,1383.4 897.8,1382.8 899.1,1383.6 900.4,1384.3 901.7,1384.6 903.0,1381.9 904.3,1378.8 905.6,1382.3 906.9,1382.5 908.2,1381.4 909.5,1379.5 910.8,1383.9 912.1,1380.0 913.4,1384.3 914.7,1383.4 916.0,1383.8 917.3,1382.9 918.6,1380.6 919.9,1378.8 921.2,1382.3 922.5,1379.6 923.8,1379.9 925.1,1378.9 926.4,1378.2 927.7,1380.8 929.0,1376.6 930.3,1377.9 931.6,1377.1 932.9,1380.4 934.2,1379.0 935.5,1375.9 936.8,1377.7 938.1,1376.0 939.4,1376.8 940.7,1376.1 942.0,1374.6 943.3,1378.5 944.6,1377.8 945.9,1373.6 947.2,1375.9 948.5,1375.3 949.8,1374.2 951.1,1373.8 952.4,1371.4 953.7,1371.5 955.0,1374.2 956.3,1371.4 957.6,1372.1 958.9,1372.9 960.2,1369.9 961.5,1368.5 962.8,1372.7 964.1,1371.1 965.4,1370.2 966.7,1370.7 968.0,1366.8 969.3,1366.2 970.6,1368.2 971.9,1366.7 973.2,1366.4 974.5,1368.5 975.8,1364.4 977.1,1366.3 978.4,1365.7 979.7,1368.5 981.0,1370.5 982.3,1367.8 983.6,1369.2 984.9,1369.4 986.2,1367.6 987.5,1370.4 988.8,1373.9 990.1,1366.6 991.4,1368.7 992.7,1372.0 994.0,1371.9 995.3,1372.6 996.6,1370.8 997.9,1373.4 999.2,1377.2 1000.5,1373.0 1001.8,1375.8 1003.1,1378.9 1004.4,1378.5 1005.7,1379.0 1007.0,1381.1 1008.3,1381.0 1009.6,1376.1 1010.9,1380.6 1012.2,1380.7 1013.5,1377.4 1014.8,1378.5 1016.1,1375.7 1017.4,1373.6 1018.7,1377.1 1020.0,1376.0 1021.3,1379.2 1022.6,1371.8 1023.9,1378.2 1025.2,1375.0 1026.5,1371.6 1027.8,1373.9 1029.1,1377.2 1030.4,1369.4 1031.7,1371.9 1033.0,1371.7 1034.3,1372.0 1035.6,1372.1 1036.9,1375.1 1038.2,1375.2 1039.5,1374.3 1040.8,1377.5 1042.1,1379.0 1043.4,1377.8 1044.7,1376.0 1046.0,1379.6 1047.3,1381.7 1048.6,1381.5 1049.9,1382.0 1051.2,1383.3 1052.5,1379.1 1053.8,1382.7 1055.1,1383.5 1056.4,1385.6 1057.7,1385.4 1059.0,1386.5 1060.3,1382.7 1061.6,1384.8 1062.9,1381.2 1064.2,1380.3 1065.5,1378.8 1066.8,1382.6 1068.1,1379.6 1069.4,1379.3 1070.7,1384.4 1072.0,1379.0 1073.3,1382.4 1074.6,1377.6 1075.9,1381.8 1077.2,1381.8 1078.5,1378.0 1079.8,1377.3 1081.1,1378.2 1082.4,1376.8 1083.7,1380.5 1085.0,1376.9 1086.3,1379.0 1087.6,1379.9 1088.9,1379.6 1090.2,1377.6 1091.5,1377.3 1092.8,1373.2 1094.1,1373.0 1095.4,1378.1 1096.7,1370.4 1098.0,1371.2 1099.3,1374.0 1100.6,1373.1 1101.9,1376.4 1103.2,1369.8 1104.5,1374.4 1105.8,1375.6 1107.1,1368.5 1108.4,1371.9 1109.7,1370.6 1111.0,1370.8 1112.3,1375.8 1113.6,1376.3 1114.9,1372.9 1116.2,1376.9 1117.5,1374.3 1118.8,1380.7 1120.1,1378.8 1121.4,1377.6 1122.7,1380.6 1124.0,1380.4 1125.3,1380.5 1126.6,1382.1 1127.9,1384.8 1129.2,1383.2 1130.5,1383.9 1131.8,1381.6 1133.1,1386.0 1134.4,1383.7 1135.7,1384.5 1137.0,1383.9 1138.3,1386.2 1139.6,1385.0 1140.9,1382.4 1142.2,1382.1 1143.5,1385.4 1144.8,1383.6 1146.1,1384.8 1147.4,1379.5 1148.7,1377.9 1150.0,1381.6 1151.3,1382.3 1152.6,1382.0 1153.9,1374.9 1155.2,1380.7 1156.5,1378.7 1157.8,1375.5 1159.1,1375.0 1160.4,1374.6 1161.7,1375.5 1163.0,1377.1 1164.3,1375.0 1165.6,1374.5 1166.9,1371.2 1168.2,1377.5 1169.5,1374.5 1170.8,1373.6 1172.1,1376.9 1173.4,1374.6 1174.7,1372.7 1176.0,1373.9 1177.3,1379.9 1178.6,1374.1 1179.9,1379.7 1181.2,1378.2 1182.5,1377.1 1183.8,1376.4 1185.1,1377.5 1186.4,1378.5 1187.7,1381.3 1189.0,1377.7 1190.3,1379.0 1191.6,1376.4 1192.9,1380.4 1194.2,1377.9 1195.5,1382.0 1196.8,1380.8 1198.1,1383.8 1199.4,1381.8 1200.7,1377.1 1202.0,1379.1 1203.3,1379.9 1204.6,1380.7 1205.9,1382.9 1207.2,1377.9 1208.5,1380.0 1209.8,1379.7 1211.1,1383.1 1212.4,1381.4 1213.7,1385.8 1215.0,1383.4 1216.3,1380.1 1217.6,1380.7 1218.9,1385.4 1220.2,1384.4 1221.5,1385.4 1222.8,1382.9 1224.1,1386.9 1225.4,1387.8 1226.7,1385.4 1228.0,1383.1 1229.3,1382.1 1230.6,1384.1 1231.9,1383.3 1233.2,1386.0 1234.5,1381.5 1235.8,1379.6 1237.1,1379.7 1238.4,1380.4 1239.7,1380.7 1241.0,1381.4 1242.3,1378.6 1243.6,1378.9 1244.9,1378.9 1246.2,1379.1 1247.5,1376.6 1248.8,1377.7 1250.1,1374.1 1251.4,1372.8 1252.7,1375.9 1254.0,1375.1 1255.3,1373.5 1256.6,1371.1 1257.9,1371.7 1259.2,1372.4 1260.5,1372.7 1261.8,1375.3 1263.1,1368.6 1264.4,1368.4 1265.7,1366.6 1267.0,1371.1 1268.3,1366.4 1269.6,1372.2 1270.9,1365.0 1272.2,1364.6 1273.5,1366.2 1274.8,1369.6 1276.1,1364.0 1277.4,1369.0 1278.7,1367.4 1280.0,1365.6 1281.3,1365.7 1282.6,1362.1 1283.9,1368.8 1285.2,1365.5 1286.5,1367.9 1287.8,1369.1 1289.1,1368.1 1290.4,1367.1 1291.7,1367.0 1293.0,1370.8 1294.3,1371.1 1295.6,1368.3 1296.9,1368.8 1298.2,1367.4 1299.5,1373.1 1300.8,1370.6 1302.1,1370.7 1303.4,1370.3 1304.7,1378.3 1306.0,1370.4 1307.3,1375.1 1308.6,1373.4 1309.9,1374.0 1311.2,1371.3 1312.5,1370.8 1313.8,1373.3 1315.1,1371.3 1316.4,1372.3 1317.7,1374.0 1319.0,1373.3 1320.3,1368.9 1321.6,1369.5 1322.9,1371.6 1324.2,1367.3 1325.5,1367.9 1326.8,1370.1 1328.1,1371.2 1329.4,1366.2 1330.7,1364.2 1332.0,1367.3 1333.3,1364.2 1334.6,1364.2 1335.9,1362.4 1337.2,1367.9 1338.5,1361.1 1339.8,1364.2 1341.1,1365.1 1342.4,1366.5 1343.7,1364.2 1345.0,1367.5 1346.3,1369.4 1347.6,1368.5 1348.9,1370.9 1350.2,1370.8 1351.5,1368.9 1352.8,1367.5 1354.1,1368.0 1355.4,1374.6 1356.7,1372.0 1358.0,1371.0 1359.3,1374.4 1360.6,1373.0 1361.9,1372.8 1363.2,1376.2 1364.5,1375.9 1365.8,1373.3 1367.1,1381.2 1368.4,1372.7 1369.7,1373.6 1371.0,1376.4 1372.3,1374.1 1373.6,1376.6 1374.9,1375.0 1376.2,1373.9 1377.5,1376.0 1378.8,1376.9 1380.1,1377.4 1381.4,1373.2 1382.7,1379.1 1384.0,1374.2 1385.3,1369.9 1386.6,1376.0 1387.9,1373.0 1389.2,1373.0 1390.5,1375.6 1391.8,1371.7 1393.1,1372.5 1394.4,1376.6 1395.7,1376.2 1397.0,1371.0 1398.3,1373.7 1399.6,1376.5 1400.9,1375.7 1402.2,1371.8 1403.5,1369.7 1404.8,1369.1 1406.1,1374.5 1407.4,1372.2 1408.7,1370.6 1410.0,1373.2 1411.3,1373.4 1412.6,1375.2 1413.9,1370.1 1415.2,1371.0 1416.5,1372.3 1417.8,1370.8 1419.1,1372.8 1420.4,1377.3 1421.7,1373.3 1423.0,1372.0 1424.3,1374.5 1425.6,1376.2 1426.9,1377.3 1428.2,1376.2 1429.5,1375.5 1430.8,1377.0 1432.1,1377.9 1433.4,1373.6 1434.7,1374.0 1436.0,1380.5 1437.3,1376.9 1438.6,1379.6 1439.9,1371.6 1441.2,1371.6 1442.5,1370.3 1443.8,1366.1 1445.1,1367.4 1446.4,1370.9 1447.7,1369.3 1449.0,1364.1 1450.3,1370.7 1451.6,1363.7 1452.9,1360.9 1454.2,1361.5 1455.5,1364.9 1456.8,1363.6 1458.1,1358.8 1459.4,1361.0 1460.7,1356.7 1462.0,1352.7 1463.3,1361.1 1464.6,1358.0 1465.9,1357.1 1467.2,1359.1 1468.5,1361.7 1469.8,1361.9 1471.1,1363.6 1472.4,1365.2 1473.7,1367.5 1475.0,1365.6 1476.3,1372.3 1477.6,1372.7 1478.9,1374.9 1480.2,1369.5 1481.5,1373.7 1482.8,1375.8 1484.1,1371.0 1485.4,1372.7 1486.7,1370.6 1488.0,1369.5 1489.3,1373.9 1490.6,1375.7 1491.9,1374.2 1493.2,1371.2 1494.5,1370.9 1495.8,1379.8 1497.1,1376.7 1498.4,1374.3 1499.7,1372.7 1501.0,1374.9 1502.3,1371.8 1503.6,1375.9 1504.9,1379.2 1506.2,1376.9 1507.5,1376.9 1508.8,1373.2 1510.1,1374.7 1511.4,1374.4 1512.7,1373.5 1514.0,1380.8 1515.3,1374.2 1516.6,1373.9 1517.9,1380.6 1519.2,1377.1 1520.5,1377.3 1521.8,1378.3 1523.1,1381.5 1524.4,1380.1 1525.7,1382.0 1527.0,1383.3 1528.3,1375.6 1529.6,1379.9 1530.9,1382.1 1532.2,1381.0 1533.5,1380.8 1534.8,1384.0 1536.1,1383.0 1537.4,1382.7 1538.7,1384.4 1540.0,1380.5 1541.3,1379.5 1542.6,1381.8 1543.9,1378.6 1545.2,1381.3 1546.5,1384.5 1547.8,1383.5 1549.1,1385.3 1550.4,1380.1 1551.7,1385.7 1553.0,1379.4 1554.3,1385.2 1555.6,1378.4 1556.9,1380.8 1558.2,1381.5 1559.5,1378.1 1560.8,1382.4 1562.1,1385.0 1563.4,1385.7 1564.7,1381.5 1566.0,1382.3 1567.3,1381.5 1568.6,1379.3 1569.9,1385.1 1571.2,1382.9 1572.5,1380.4 1573.8,1382.6 1575.1,1382.6 1576.4,1379.7 1577.7,1383.7 1579.0,1381.5 1580.3,1385.7 1581.6,1379.5 1582.9,1381.3 1584.2,1384.1 1585.5,1378.0 1586.8,1379.6 1588.1,1377.9 1589.4,1377.0 1590.7,1375.1 1592.0,1375.6 1593.3,1379.2 1594.6,1373.6 1595.9,1375.5 1597.2,1375.2 1598.5,1373.0 1599.8,1376.1 1601.1,1371.3 1602.4,1372.1 1603.7,1374.5 1605.0,1368.6 1606.3,1371.9 1607.6,1376.7 1608.9,1372.8 1610.2,1369.1 1611.5,1372.7 1612.8,1368.9 1614.1,1371.8 1615.4,1367.0 1616.7,1370.3 1618.0,1368.8 1619.3,1371.2 1620.6,1370.9 1621.9,1371.7 1623.2,1373.3 1624.5,1372.9 1625.8,1367.3 1627.1,1373.0 1628.4,1373.3 1629.7,1370.6 1631.0,1370.5 1632.3,1374.2 1633.6,1372.7 1634.9,1371.3 1636.2,1372.3 1637.5,1370.4 1638.8,1371.1 1640.1,1375.8 1641.4,1371.7 1642.7,1373.1 1644.0,1371.9 1645.3,1372.5 1646.6,1370.7 1647.9,1370.0 1649.2,1367.7 1650.5,1368.9 1651.8,1369.6 1653.1,1371.8 1654.4,1370.8 1655.7,1375.5 1657.0,1372.2 1658.3,1372.6 1659.6,1367.1 1660.9,1374.5 1662.2,1370.7 1663.5,1376.2 1664.8,1373.9 1666.1,1371.4 1667.4,1371.4 1668.7,1374.1 1670.0,1374.6 1671.3,1372.1 1672.6,1372.2 1673.9,1374.3 1675.2,1370.7 1676.5,1371.7 1677.8,1370.6 1679.1,1376.3 1680.4,1375.8 1681.7,1376.7 1683.0,1377.0 1684.3,1377.9 1685.6,1375.8 1686.9,1375.4 1688.2,1377.6 1689.5,1378.0 1690.8,1371.6 1692.1,1373.4 1693.4,1373.8 1694.7,1376.3 1696.0,1375.7 1697.3,1372.7 1698.6,1376.5 1699.9,1374.2 1701.2,1373.9 1702.5,1376.9 1703.8,1378.4 1705.1,1376.9 1706.4,1378.7 1707.7,1374.7 1709.0,1378.5 1710.3,1373.5 1711.6,1373.6 1712.9,1373.1 1714.2,1376.5 1715.5,1378.2 1716.8,1379.0 1718.1,1373.9 1719.4,1376.4 1720.7,1374.6 1722.0,1378.0 1723.3,1372.2 1724.6,1376.8 1725.9,1371.1 1727.2,1373.8 1728.5,1373.2 1729.8,1372.8 1731.1,1372.2 1732.4,1374.1 1733.7,1369.5 1735.0,1369.0 1736.3,1371.3 1737.6,1371.0 1738.9,1376.0 1740.2,1376.3 1741.5,1376.4 1742.8,1373.1 1744.1,1371.5 1745.4,1374.2 1746.7,1371.4 1748.0,1373.4 1749.3,1373.7 1750.6,1380.3 1751.9,1379.2 1753.2,1374.8 1754.5,1375.5 1755.8,1375.5 1757.1,1373.6 1758.4,1373.6 1759.7,1378.9 1761.0,1376.6 1762.3,1377.1 1763.6,1381.1 1764.9,1376.5 1766.2,1376.0 1767.5,1380.7 1768.8,1379.9 1770.1,1382.3 1771.4,1379.7 1772.7,1380.0 1774.0,1377.7 1775.3,1380.5 1776.6,1376.4 1777.9,1379.9 1779.2,1375.4 1780.5,1374.9 1781.8,1374.0 1783.1,1374.6 1784.4,1375.4 1785.7,1376.5 1787.0,1373.4 1788.3,1375.7 1789.6,1376.4 1790.9,1378.3 1792.2,1371.9 1793.5,1372.5 1794.8,1378.6 1796.1,1373.0 1797.4,1375.1 1798.7,1374.2 1800.0,1370.9 1801.3,1373.1 1802.6,1374.5 1803.9,1373.1 1805.2,1374.8 1806.5,1370.7 1807.8,1373.6 1809.1,1374.4 1810.4,1371.2 1811.7,1371.4 1813.0,1370.4 1814.3,1369.1 1815.6,1369.4 1816.9,1371.3 1818.2,1370.7 1819.5,1366.2 1820.8,1373.7 1822.1,1372.9 1823.4,1372.2 1824.7,1366.6 1826.0,1368.9 1827.3,1371.7 1828.6,1368.0 1829.9,1368.3 1831.2,1365.9 1832.5,1367.8 1833.8,1371.3 1835.1,1367.8 1836.4,1368.0 1837.7,1368.2 1839.0,1365.4 1840.3,1365.3 1841.6,1364.8 1842.9,1365.4 1844.2,1367.6 1845.5,1366.9 1846.8,1368.2 1848.1,1363.5 1849.4,1370.6 1850.7,1370.8 1852.0,1364.0 1853.3,1366.5 1854.6,1369.0 1855.9,1369.5 1857.2,1364.8 1858.5,1369.0 1859.8,1367.9 1861.1,1369.6 1862.4,1368.2 1863.7,1369.5"/>
<polyline fill="none" stroke="#e6414b" stroke-width="6.0" stroke-linejoin="round" points="32.0,1503.6 33.3,1497.3 34.6,1504.8 35.9,1500.6 37.2,1501.0 38.5,1499.8 39.8,1504.4 41.1,1510.2 42.4,1506.6 43.7,1512.6 45.0,1508.8 46.3,1505.0 47.6,1509.9 48.9,1513.3 50.2,1515.4 51.5,1514.9 52.8,1507.8 54.1,1513.3 55.4,1507.0 56.7,1515.3 58.0,1507.2 59.3,1517.0 60.6,1512.2 61.9,1517.9 63.2,1511.8 64.5,1512.8 65.8,1508.8 67.1,1515.5 68.4,1512.6 69.7,1516.6 71.0,1506.8 72.3,1511.1 73.6,1516.3 74.9,1515.7 76.2,1511.4 77.5,1506.7 78.8,1510.8 80.1,1513.7 81.4,1513.1 82.7,1516.2 84.0,1517.2 85.3,1517.1 86.6,1511.2 87.9,1512.5 89.2,1516.6 90.5,1511.9 91.8,1515.1 93.1,1511.8 94.4,1517.4 95.7,1510.2 97.0,1512.3 98.3,1516.0 99.6,1520.0 100.9,1517.8 102.2,1516.2 103.5,1514.7 104.8,1507.1 106.1,1511.7 107.4,1506.1 108.7,1504.1 110.0,1501.8 111.3,1507.1 112.6,1498.3 113.9,1504.7 115.2,1508.9 116.5,1508.8 117.8,1514.2 119.1,1514.4 120.4,1518.7 121.7,1519.3 123.0,1517.0 124.3,1521.7 125.6,1519.0 126.9,1519.4 128.2,1524.0 129.5,1523.4 130.8,1522.3 132.1,1522.1 133.4,1523.6 134.7,1522.0 136.0,1520.4 137.3,1522.2 138.6,1525.2 139.9,1520.7 141.2,1526.6 142.5,1522.6 143.8,1524.7 145.1,1523.7 146.4,1523.3 147.7,1521.6 149.0,1529.5 150.3,1530.0 151.6,1522.6 152.9,1526.3 154.2,1524.7 155.5,1525.7 156.8,1528.7 158.1,1528.5 159.4,1524.3 160.7,1522.9 162.0,1525.0 163.3,1530.8 164.6,1523.2 165.9,1524.5 167.2,1521.4 168.5,1529.5 169.8,1525.6 171.1,1524.8 172.4,1524.3 173.7,1529.8 175.0,1525.3 176.3,1523.8 177.6,1532.2 178.9,1524.9 180.2,1522.4 181.5,1525.1 182.8,1528.3 184.1,1532.7 185.4,1527.3 186.7,1528.6 188.0,1530.4 189.3,1532.2 190.6,1532.7 191.9,1526.4 193.2,1526.5 194.5,1528.7 195.8,1524.6 197.1,1529.5 198.4,1529.4 199.7,1528.4 201.0,1530.2 202.3,1530.0 203.6,1526.8 204.9,1531.9 206.2,1532.2 207.5,1531.6 208.8,1526.8 210.1,1524.5 211.4,1531.1 212.7,1531.4 214.0,1528.9 215.3,1522.4 216.6,1529.4 217.9,1530.9 219.2,1525.3 220.5,1529.2 221.8,1524.5 223.1,1518.9 224.4,1516.6 225.7,1518.9 227.0,1512.6 228.3,1506.0 229.6,1504.9 230.9,1506.9 232.2,1496.2 233.5,1483.4 234.8,1478.9 236.1,1459.8 237.4,1448.0 238.7,1434.2 240.0,1430.0 241.3,1417.4 242.6,1419.9 243.9,1404.4 245.2,1414.1 246.5,1421.6 247.8,1426.4 249.1,1436.7 250.4,1448.1 251.7,1468.2 253.0,1494.6 254.3,1504.1 255.6,1511.7 256.9,1517.8 258.2,1513.3 259.5,1511.9 260.8,1522.1 262.1,1515.4 263.4,1508.0 264.7,1509.1 266.0,1499.8 267.3,1493.9 268.6,1485.3 269.9,1486.4 271.2,1476.8 272.5,1475.9 273.8,1465.4 275.1,1471.5 276.4,1474.8 277.7,1480.9 279.0,1483.7 280.3,1487.9 281.6,1501.6 282.9,1510.0 284.2,1512.4 285.5,1514.1 286.8,1525.0 288.1,1527.4 289.4,1524.7 290.7,1528.9 292.0,1525.5 293.3,1532.6 294.6,1532.2 295.9,1527.6 297.2,1531.8 298.5,1529.5 299.8,1535.4 301.1,1533.5 302.4,1530.4 303.7,1532.3 305.0,1533.6 306.3,1532.5 307.6,1528.6 308.9,1530.8 310.2,1532.0 311.5,1535.4 312.8,1532.5 314.1,1537.8 315.4,1531.2 316.7,1539.2 318.0,1532.1 319.3,1536.5 320.6,1533.8 321.9,1537.5 323.2,1531.9 324.5,1537.3 325.8,1531.4 327.1,1532.8 328.4,1527.1 329.7,1530.1 331.0,1527.7 332.3,1524.6 333.6,1519.6 334.9,1521.6 336.2,1523.7 337.5,1522.1 338.8,1520.9 340.1,1513.8 341.4,1514.4 342.7,1517.1 344.0,1512.2 345.3,1509.2 346.6,1517.7 347.9,1519.3 349.2,1519.3 350.5,1520.9 351.8,1526.6 353.1,1524.1 354.4,1526.4 355.7,1534.1 357.0,1533.7 358.3,1537.1 359.6,1538.7 360.9,1532.8 362.2,1535.2 363.5,1539.0 364.8,1540.0 366.1,1538.3 367.4,1536.3 368.7,1541.3 370.0,1539.2 371.3,1542.1 372.6,1540.6 373.9,1539.8 375.2,1538.4 376.5,1540.1 377.8,1540.4 379.1,1538.6 380.4,1539.8 381.7,1537.1 383.0,1536.8 384.3,1541.9 385.6,1540.7 386.9,1535.8 388.2,1536.0 389.5,1535.3 390.8,1539.8 392.1,1537.6 393.4,1536.1 394.7,1532.3 396.0,1537.4 397.3,1530.5 398.6,1533.8 399.9,1532.2 401.2,1533.4 402.5,1535.3 403.8,1531.4 405.1,1526.6 406.4,1529.8 407.7,1531.4 409.0,1533.0 410.3,1521.3 411.6,1530.7 412.9,1526.9 414.2,1524.1 415.5,1522.8 416.8,1518.2 418.1,1514.7 419.4,1508.4 420.7,1505.9 422.0,1507.9 423.3,1504.1 424.6,1495.9 425.9,1499.3 427.2,1504.5 428.5,1508.5 429.8,1514.1 431.1,1514.8 432.4,1518.0 433.7,1520.8 435.0,1526.6 436.3,1525.5 437.6,1533.9 438.9,1538.8 440.2,1537.2 441.5,1533.9 442.8,1532.6 444.1,1527.2 445.4,1529.1 446.7,1522.8 448.0,1527.6 449.3,1527.3 450.6,1522.7 451.9,1517.3 453.2,1519.6 454.5,1517.8 455.8,1519.8 457.1,1518.2 458.4,1514.2 459.7,1520.0 461.0,1521.3 462.3,1524.6 463.6,1522.6 464.9,1521.5 466.2,1524.7 467.5,1529.2 468.8,1528.5 470.1,1527.2 471.4,1522.5 472.7,1529.0 474.0,1525.0 475.3,1529.6 476.6,1530.4 477.9,1529.8 479.2,1521.9 480.5,1525.1 481.8,1527.8 483.1,1523.4 484.4,1525.2 485.7,1527.1 487.0,1522.6 488.3,1519.6 489.6,1521.7 490.9,1521.3 492.2,1517.4 493.5,1518.6 494.8,1516.3 496.1,1508.9 497.4,1512.5 498.7,1507.1 500.0,1508.8 501.3,1507.7 502.6,1500.2 503.9,1498.1 505.2,1502.1 506.5,1502.2 507.8,1499.3 509.1,1505.3 510.4,1508.7 511.7,1509.0 513.0,1510.9 514.3,1510.7 515.6,1513.4 516.9,1516.6 518.2,1512.1 519.5,1520.9 520.8,1516.6 522.1,1522.5 523.4,1523.6 524.7,1527.2 526.0,1528.3 527.3,1527.0 528.6,1534.9 529.9,1530.6 531.2,1536.2 532.5,1532.3 533.8,1536.7 535.1,1536.2 536.4,1532.0 537.7,1535.9 539.0,1535.8 540.3,1538.8 541.6,1536.1 542.9,1535.5 544.2,1539.4 545.5,1536.6 546.8,1541.2 548.1,1533.6 549.4,1535.0 550.7,1535.1 552.0,1539.1 553.3,1534.9 554.6,1534.7 555.9,1540.0 557.2,1534.6 558.5,1538.0 559.8,1539.4 561.1,1536.3 562.4,1541.0 563.7,1540.6 565.0,1538.4 566.3,1543.1 567.6,1538.1 568.9,1539.8 570.2,1543.0 571.5,1535.5 572.8,1541.0 574.1,1542.5 575.4,1542.6 576.7,1539.1 578.0,1541.9 579.3,1536.8 580.6,1541.0 581.9,1541.7 583.2,1542.3 584.5,1541.4 585.8,1538.0 587.1,1539.2 588.4,1543.1 589.7,1537.6 591.0,1535.6 592.3,1536.3 593.6,1535.0 594.9,1540.5 596.2,1538.1 597.5,1534.3 598.8,1533.4 600.1,1530.7 601.4,1525.7 602.7,1526.2 604.0,1527.4 605.3,1520.8 606.6,1525.8 607.9,1519.5 609.2,1520.3 610.5,1515.9 611.8,1517.3 613.1,1520.0 614.4,1512.6 615.7,1515.7 617.0,1519.7 618.3,1518.2 619.6,1522.9 620.9,1524.1 622.2,1527.0 623.5,1521.8 624.8,1533.4 626.1,1528.8 627.4,1533.1 628.7,1540.9 630.0,1541.9 631.3,1541.0 632.6,1539.5 633.9,1537.0 635.2,1541.0 636.5,1537.7 637.8,1540.3 639.1,1543.4 640.4,1539.1 641.7,1541.3 643.0,1542.7 644.3,1540.7 645.6,1542.4 646.9,1537.6 648.2,1539.8 649.5,1544.3 650.8,1541.1 652.1,1545.7 653.4,1542.4 654.7,1539.2 656.0,1539.0 657.3,1546.9 658.6,1537.8 659.9,1544.8 661.2,1542.8 662.5,1545.2 663.8,1547.2 665.1,1542.0 666.4,1540.3 667.7,1546.9 669.0,1543.4 670.3,1541.0 671.6,1549.2 672.9,1543.4 674.2,1543.0 675.5,1542.4 676.8,1542.3 678.1,1544.9 679.4,1546.6 680.7,1541.1 682.0,1539.5 683.3,1542.8 684.6,1537.5 685.9,1538.0 687.2,1543.2 688.5,1543.9 689.8,1543.5 691.1,1535.6 692.4,1539.3 693.7,1541.8 695.0,1540.2 696.3,1536.8 697.6,1540.5 698.9,1535.5 700.2,1535.8 701.5,1536.2 702.8,1541.5 704.1,1535.7 705.4,1537.2 706.7,1539.5 708.0,1533.6 709.3,1539.1 710.6,1533.1 711.9,1539.9 713.2,1536.3 714.5,1537.1 715.8,1537.2 717.1,1532.6 718.4,1532.2 719.7,1538.7 721.0,1534.2 722.3,1532.4 723.6,1533.7 724.9,1536.0 726.2,1531.7 727.5,1528.0 728.8,1531.8 730.1,1521.8 731.4,1521.1 732.7,1520.7 734.0,1517.0 735.3,1516.4 736.6,1509.1 737.9,1507.1 739.2,1502.5 740.5,1502.2 741.8,1498.0 743.1,1495.1 744.4,1499.6 745.7,1489.6 747.0,1488.0 748.3,1490.3 749.6,1484.0 750.9,1486.7 752.2,1485.5 753.5,1479.2 754.8,1478.1 756.1,1475.3 757.4,1467.9 758.7,1472.3 760.0,1468.5 761.3,1473.7 762.6,1476.0 763.9,1481.5 765.2,1480.9 766.5,1487.0 767.8,1496.6 769.1,1495.6 770.4,1497.5 771.7,1505.9 773.0,1504.9 774.3,1505.9 775.6,1507.5 776.9,1509.6 778.2,1520.3 779.5,1520.1 780.8,1519.5 782.1,1521.3 783.4,1523.4 784.7,1530.1 786.0,1531.6 787.3,1537.5 788.6,1536.7 789.9,1529.5 791.2,1536.3 792.5,1529.6 793.8,1529.0 795.1,1527.2 796.4,1532.7 797.7,1526.6 799.0,1525.7 800.3,1530.4 801.6,1522.2 802.9,1523.8 804.2,1525.8 805.5,1521.4 806.8,1523.0 808.1,1518.0 809.4,1519.0 810.7,1521.3 812.0,1521.2 813.3,1519.0 814.6,1515.5 815.9,1514.4 817.2,1520.7 818.5,1514.6 819.8,1512.2 821.1,1507.8 822.4,1509.2 823.7,1511.2 825.0,1508.9 826.3,1507.7 827.6,1507.1 828.9,1509.9 830.2,1510.4 831.5,1511.8 832.8,1518.6 834.1,1518.2 835.4,1520.0 836.7,1520.6 838.0,1522.2 839.3,1524.0 840.6,1525.5 841.9,1527.4 843.2,1524.0 844.5,1525.7 845.8,1528.8 847.1,1530.4 848.4,1531.2 849.7,1531.4 851.0,1528.9 852.3,1532.2 853.6,1534.5 854.9,1528.3 856.2,1531.2 857.5,1534.4 858.8,1529.4 860.1,1537.3 861.4,1527.4 862.7,1529.1 864.0,1533.2 865.3,1534.9 866.6,1528.7 867.9,1533.7 869.2,1533.2 870.5,1529.7 871.8,1537.9 873.1,1532.2 874.4,1536.7 875.7,1528.6 877.0,1537.3 878.3,1533.3 879.6,1531.8 880.9,1534.3 882.2,1533.2 883.5,1534.7 884.8,1537.5 886.1,1533.9 887.4,1534.4 888.7,1531.1 890.0,1536.4 891.3,1537.1 892.6,1531.9 893.9,1534.9 895.2,1530.7 896.5,1532.6 897.8,1525.7 899.1,1528.1 900.4,1535.8 901.7,1530.3 903.0,1534.5 904.3,1533.4 905.6,1530.0 906.9,1528.8 908.2,1532.5 909.5,1529.3 910.8,1529.0 912.1,1528.6 913.4,1528.2 914.7,1531.1 916.0,1532.0 917.3,1527.8 918.6,1526.3 919.9,1522.9 921.2,1523.2 922.5,1526.0 923.8,1518.7 925.1,1523.1 926.4,1514.6 927.7,1519.7 929.0,1519.1 930.3,1515.4 931.6,1516.8 932.9,1513.9 934.2,1510.2 935.5,1509.3 936.8,1516.8 938.1,1510.4 939.4,1510.1 940.7,1518.8 942.0,1511.0 943.3,1510.8 944.6,1509.3 945.9,1520.6 947.2,1510.6 948.5,1518.3 949.8,1517.5 951.1,1513.8 952.4,1514.1 953.7,1520.0 955.0,1513.8 956.3,1509.6 957.6,1510.6 958.9,1513.7 960.2,1513.2 961.5,1516.6 962.8,1513.8 964.1,1508.9 965.4,1515.4 966.7,1512.4 968.0,1510.6 969.3,1508.9 970.6,1511.4 971.9,1512.2 973.2,1514.6 974.5,1515.1 975.8,1510.1 977.1,1506.4 978.4,1507.8 979.7,1512.3 981.0,1510.6 982.3,1510.3 983.6,1507.5 984.9,1507.8 986.2,1514.9 987.5,1514.4 988.8,1513.5 990.1,1513.7 991.4,1515.3 992.7,1511.6 994.0,1518.5 995.3,1518.6 996.6,1516.6 997.9,1519.9 999.2,1521.2 1000.5,1518.1 1001.8,1517.4 1003.1,1527.3 1004.4,1526.9 1005.7,1524.6 1007.0,1522.0 1008.3,1521.5 1009.6,1529.3 1010.9,1521.8 1012.2,1529.4 1013.5,1522.9 1014.8,1529.1 1016.1,1528.4 1017.4,1524.5 1018.7,1530.8 1020.0,1529.2 1021.3,1533.6 1022.6,1532.7 1023.9,1531.3 1025.2,1529.8 1026.5,1531.6 1027.8,1532.7 1029.1,1527.7 1030.4,1531.9 1031.7,1528.8 1033.0,1530.4 1034.3,1533.1 1035.6,1529.3 1036.9,1530.5 1038.2,1535.6 1039.5,1536.8 1040.8,1540.5 1042.1,1530.6 1043.4,1535.1 1044.7,1528.3 1046.0,1534.5 1047.3,1532.2 1048.6,1529.8 1049.9,1530.0 1051.2,1526.1 1052.5,1529.4 1053.8,1530.1 1055.1,1530.6 1056.4,1526.2 1057.7,1527.4 1059.0,1527.8 1060.3,1523.2 1061.6,1525.2 1062.9,1526.4 1064.2,1520.9 1065.5,1525.7 1066.8,1524.4 1068.1,1520.4 1069.4,1518.2 1070.7,1524.2 1072.0,1514.9 1073.3,1520.6 1074.6,1518.4 1075.9,1515.2 1077.2,1516.3 1078.5,1516.6 1079.8,1515.6 1081.1,1520.0 1082.4,1519.4 1083.7,1517.1 1085.0,1514.7 1086.3,1511.0 1087.6,1514.8 1088.9,1517.2 1090.2,1515.5 1091.5,1511.1 1092.8,1514.8 1094.1,1517.6 1095.4,1517.6 1096.7,1512.8 1098.0,1520.9 1099.3,1512.9 1100.6,1516.4 1101.9,1518.8 1103.2,1514.3 1104.5,1520.8 1105.8,1519.0 1107.1,1522.4 1108.4,1518.4 1109.7,1521.4 1111.0,1514.9 1112.3,1517.8 1113.6,1525.1 1114.9,1525.5 1116.2,1522.2 1117.5,1524.0 1118.8,1526.5 1120.1,1528.1 1121.4,1526.6 1122.7,1525.2 1124.0,1528.8 1125.3,1526.3 1126.6,1533.1 1127.9,1535.1 1129.2,1527.9 1130.5,1530.7 1131.8,1530.1 1133.1,1530.8 1134.4,1528.8 1135.7,1530.3 1137.0,1524.3 1138.3,1521.0 1139.6,1521.9 1140.9,1526.3 1142.2,1527.1 1143.5,1522.5 1144.8,1527.1 1146.1,1520.3 1147.4,1518.3 1148.7,1522.6 1150.0,1515.6 1151.3,1520.2 1152.6,1515.0 1153.9,1514.2 1155.2,1510.3 1156.5,1512.8 1157.8,1514.9 1159.1,1508.8 1160.4,1514.8 1161.7,1510.7 1163.0,1515.9 1164.3,1516.8 1165.6,1514.4 1166.9,1516.1 1168.2,1514.6 1169.5,1516.2 1170.8,1515.0 1172.1,1519.4 1173.4,1516.5 1174.7,1523.1 1176.0,1515.7 1177.3,1521.2 1178.6,1520.1 1179.9,1526.6 1181.2,1522.1 1182.5,1522.8 1183.8,1520.2 1185.1,1526.8 1186.4,1522.9 1187.7,1522.7 1189.0,1519.4 1190.3,1520.5 1191.6,1520.2 1192.9,1524.2 1194.2,1522.8 1195.5,1521.3 1196.8,1526.2 1198.1,1519.0 1199.4,1527.5 1200.7,1528.4 1202.0,1522.2 1203.3,1520.9 1204.6,1520.9 1205.9,1522.8 1207.2,1520.8 1208.5,1522.1 1209.8,1520.1 1211.1,1523.1 1212.4,1528.0 1213.7,1523.7 1215.0,1529.5 1216.3,1522.5 1217.6,1524.4 1218.9,1520.5 1220.2,1522.9 1221.5,1528.0 1222.8,1519.1 1224.1,1526.1 1225.4,1526.3 1226.7,1527.7 1228.0,1526.7 1229.3,1523.3 1230.6,1523.8 1231.9,1525.8 1233.2,1521.7 1234.5,1531.4 1235.8,1526.7 1237.1,1523.7 1238.4,1520.1 1239.7,1525.3 1241.0,1528.7 1242.3,1530.4 1243.6,1522.7 1244.9,1527.1 1246.2,1522.4 1247.5,1532.3 1248.8,1524.2 1250.1,1519.1 1251.4,1519.1 1252.7,1518.6 1254.0,1519.9 1255.3,1524.7 1256.6,1517.1 1257.9,1518.0 1259.2,1511.6 1260.5,1515.0 1261.8,1510.4 1263.1,1514.4 1264.4,1511.1 1265.7,1506.2 1267.0,1503.8 1268.3,1505.5 1269.6,1501.1 1270.9,1507.0 1272.2,1507.1 1273.5,1502.0 1274.8,1508.9 1276.1,1504.5 1277.4,1501.5 1278.7,1499.6 1280.0,1504.8 1281.3,1510.2 1282.6,1507.9 1283.9,1508.3 1285.2,1506.3 1286.5,1507.9 1287.8,1507.9 1289.1,1512.7 1290.4,1511.6 1291.7,1508.8 1293.0,1513.4 1294.3,1514.3 1295.6,1515.3 1296.9,1519.4 1298.2,1517.8 1299.5,1508.3 1300.8,1510.9 1302.1,1505.1 1303.4,1513.2 1304.7,1508.5 1306.0,1510.3 1307.3,1501.4 1308.6,1510.0 1309.9,1506.6 1311.2,1500.6 1312.5,1507.1 1313.8,1505.3 1315.1,1501.0 1316.4,1505.0 1317.7,1506.0 1319.0,1502.8 1320.3,1502.3 1321.6,1498.0 1322.9,1501.5 1324.2,1500.3 1325.5,1497.0 1326.8,1503.3 1328.1,1498.3 1329.4,1499.8 1330.7,1503.3 1332.0,1508.3 1333.3,1512.5 1334.6,1506.1 1335.9,1515.2 1337.2,1507.1 1338.5,1519.7 1339.8,1509.8 1341.1,1515.9 1342.4,1520.5 1343.7,1519.0 1345.0,1516.5 1346.3,1526.4 1347.6,1522.8 1348.9,1520.7 1350.2,1523.7 1351.5,1524.2 1352.8,1524.5 1354.1,1522.0 1355.4,1521.5 1356.7,1522.9 1358.0,1522.1 1359.3,1523.2 1360.6,1522.1 1361.9,1518.4 1363.2,1524.6 1364.5,1515.4 1365.8,1521.1 1367.1,1525.5 1368.4,1519.9 1369.7,1515.7 1371.0,1518.8 1372.3,1517.6 1373.6,1523.2 1374.9,1516.7 1376.2,1521.6 1377.5,1520.2 1378.8,1515.5 1380.1,1520.9 1381.4,1521.8 1382.7,1519.8 1384.0,1520.5 1385.3,1523.4 1386.6,1525.0 1387.9,1523.9 1389.2,1519.4 1390.5,1519.2 1391.8,1521.3 1393.1,1518.2 1394.4,1514.9 1395.7,1522.5 1397.0,1519.7 1398.3,1519.4 1399.6,1518.8 1400.9,1521.1 1402.2,1518.8 1403.5,1518.0 1404.8,1521.5 1406.1,1512.4 1407.4,1513.7 1408.7,1522.5 1410.0,1517.5 1411.3,1514.3 1412.6,1517.6 1413.9,1521.8 1415.2,1524.7 1416.5,1510.6 1417.8,1519.7 1419.1,1514.1 1420.4,1520.0 1421.7,1519.8 1423.0,1516.2 1424.3,1510.6 1425.6,1515.4 1426.9,1510.3 1428.2,1517.0 1429.5,1513.7 1430.8,1515.5 1432.1,1515.3 1433.4,1516.7 1434.7,1518.4 1436.0,1511.9 1437.3,1509.5 1438.6,1517.9 1439.9,1513.8 1441.2,1518.2 1442.5,1514.7 1443.8,1511.3 1445.1,1508.2 1446.4,1508.6 1447.7,1506.2 1449.0,1512.1 1450.3,1515.2 1451.6,1515.8 1452.9,1508.4 1454.2,1513.6 1455.5,1511.7 1456.8,1508.1 1458.1,1513.3 1459.4,1507.7 1460.7,1515.8 1462.0,1513.3 1463.3,1518.5 1464.6,1518.7 1465.9,1522.1 1467.2,1517.7 1468.5,1519.8 1469.8,1514.2 1471.1,1520.0 1472.4,1522.0 1473.7,1521.7 1475.0,1523.3 1476.3,1521.4 1477.6,1524.4 1478.9,1524.2 1480.2,1525.9 1481.5,1525.3 1482.8,1521.4 1484.1,1526.8 1485.4,1520.6 1486.7,1526.6 1488.0,1518.2 1489.3,1525.8 1490.6,1521.4 1491.9,1530.7 1493.2,1525.8 1494.5,1526.4 1495.8,1526.5 1497.1,1526.1 1498.4,1522.7 1499.7,1526.3 1501.0,1524.8 1502.3,1524.3 1503.6,1526.4 1504.9,1523.4 1506.2,1531.7 1507.5,1525.1 1508.8,1525.6 1510.1,1523.5 1511.4,1525.2 1512.7,1526.5 1514.0,1527.8 1515.3,1528.0 1516.6,1532.0 1517.9,1529.4 1519.2,1526.4 1520.5,1529.1 1521.8,1534.4 1523.1,1531.8 1524.4,1526.7 1525.7,1527.6 1527.0,1531.9 1528.3,1534.1 1529.6,1527.0 1530.9,1525.0 1532.2,1529.8 1533.5,1527.8 1534.8,1530.8 1536.1,1534.2 1537.4,1529.1 1538.7,1533.8 1540.0,1527.8 1541.3,1532.3 1542.6,1539.5 1543.9,1534.8 1545.2,1536.8 1546.5,1531.9 1547.8,1538.4 1549.1,1530.8 1550.4,1533.3 1551.7,1531.9 1553.0,1524.0 1554.3,1527.0 1555.6,1533.6 1556.9,1526.1 1558.2,1531.0 1559.5,1530.4 1560.8,1526.5 1562.1,1532.7 1563.4,1531.8 1564.7,1525.3 1566.0,1525.6 1567.3,1528.5 1568.6,1526.2 1569.9,1522.9 1571.2,1524.0 1572.5,1527.7 1573.8,1521.7 1575.1,1530.8 1576.4,1524.4 1577.7,1522.9 1579.0,1527.8 1580.3,1521.7 1581.6,1531.6 1582.9,1519.2 1584.2,1526.3 1585.5,1520.6 1586.8,1526.5 1588.1,1521.6 1589.4,1525.7 1590.7,1526.5 1592.0,1523.0 1593.3,1522.1 1594.6,1529.3 1595.9,1524.4 1597.2,1524.2 1598.5,1518.7 1599.8,1518.5 1601.1,1525.4 1602.4,1521.0 1603.7,1519.7 1605.0,1520.6 1606.3,1521.1 1607.6,1519.0 1608.9,1517.4 1610.2,1521.7 1611.5,1516.0 1612.8,1519.7 1614.1,1516.4 1615.4,1519.9 1616.7,1519.5 1618.0,1521.2 1619.3,1520.7 1620.6,1515.8 1621.9,1516.6 1623.2,1525.0 1624.5,1521.8 1625.8,1522.6 1627.1,1515.9 1628.4,1519.8 1629.7,1516.7 1631.0,1515.1 1632.3,1522.4 1633.6,1524.2 1634.9,1521.5 1636.2,1520.0 1637.5,1514.5 1638.8,1524.2 1640.1,1521.5 1641.4,1518.5 1642.7,1518.6 1644.0,1517.8 1645.3,1518.7 1646.6,1519.9 1647.9,1523.8 1649.2,1521.5 1650.5,1518.9 1651.8,1518.5 1653.1,1524.4 1654.4,1523.1 1655.7,1517.4 1657.0,1526.4 1658.3,1523.9 1659.6,1521.5 1660.9,1516.3 1662.2,1516.1 1663.5,1517.1 1664.8,1521.4 1666.1,1523.5 1667.4,1524.1 1668.7,1516.5 1670.0,1520.3 1671.3,1520.0 1672.6,1519.6 1673.9,1523.8 1675.2,1525.3 1676.5,1520.6 1677.8,1520.5 1679.1,1519.4 1680.4,1518.7 1681.7,1518.1 1683.0,1519.1 1684.3,1524.0 1685.6,1522.6 1686.9,1513.2 1688.2,1518.6 1689.5,1517.4 1690.8,1517.1 1692.1,1514.1 1693.4,1523.5 1694.7,1521.5 1696.0,1517.4 1697.3,1519.0 1698.6,1515.1 1699.9,1522.8 1701.2,1519.1 1702.5,1519.0 1703.8,1518.4 1705.1,1518.7 1706.4,1518.7 1707.7,1514.8 1709.0,1521.5 1710.3,1515.2 1711.6,1516.2 1712.9,1514.1 1714.2,1521.4 1715.5,1515.3 1716.8,1520.1 1718.1,1520.3 1719.4,1512.6 1720.7,1518.3 1722.0,1519.6 1723.3,1520.8 1724.6,1522.1 1725.9,1521.0 1727.2,1522.9 1728.5,1525.8 1729.8,1525.4 1731.1,1530.8 1732.4,1529.3 1733.7,1529.7 1735.0,1528.4 1736.3,1523.9 1737.6,1535.3 1738.9,1528.8 1740.2,1527.3 1741.5,1530.0 1742.8,1529.0 1744.1,1524.8 1745.4,1529.1 1746.7,1525.1 1748.0,1525.1 1749.3,1522.6 1750.6,1524.2 1751.9,1525.4 1753.2,1522.6 1754.5,1528.8 1755.8,1528.5 1757.1,1530.5 1758.4,1521.0 1759.7,1523.7 1761.0,1525.5 1762.3,1524.7 1763.6,1523.0 1764.9,1520.2 1766.2,1527.5 1767.5,1523.3 1768.8,1519.8 1770.1,1525.8 1771.4,1518.6 1772.7,1521.8 1774.0,1521.6 1775.3,1524.0 1776.6,1517.1 1777.9,1524.9 1779.2,1522.1 1780.5,1517.6 1781.8,1517.6 1783.1,1517.4 1784.4,1518.5 1785.7,1521.0 1787.0,1515.7 1788.3,1518.0 1789.6,1524.5 1790.9,1516.9 1792.2,1525.5 1793.5,1524.4 1794.8,1523.8 1796.1,1514.1 1797.4,1524.0 1798.7,1519.9 1800.0,1524.1 1801.3,1524.9 1802.6,1516.3 1803.9,1521.1 1805.2,1525.1 1806.5,1517.0 1807.8,1519.1 1809.1,1519.6 1810.4,1522.2 1811.7,1517.9 1813.0,1523.2 1814.3,1514.6 1815.6,1521.7 1816.9,1521.7 1818.2,1518.9 1819.5,1522.2 1820.8,1512.2 1822.1,1517.2 1823.4,1515.0 1824.7,1515.4 1826.0,1515.7 1827.3,1523.7 1828.6,1525.0 1829.9,1516.1 1831.2,1522.7 1832.5,1527.0 1833.8,1514.6 1835.1,1519.1 1836.4,1523.3 1837.7,1515.8 1839.0,1518.3 1840.3,1510.8 1841.6,1518.7 1842.9,1519.9 1844.2,1521.8 1845.5,1519.5 1846.8,1517.2 1848.1,1516.2 1849.4,1515.8 1850.7,1513.4 1852.0,1513.3 1853.3,1521.1 1854.6,1514.4 1855.9,1518.8 1857.2,1512.6 1858.5,1513.7 1859.8,1510.0 1861.1,1506.7 1862.4,1509.8 1863.7,1507.3"/>
<polyline fill="none" stroke="#545454" stroke-width="5" stroke-linejoin="round" points="32.0,1700.0 33.0,1700.0 34.0,1700.0 35.0,1700.0 36.0,1700.0 37.0,1700.0 38.0,1700.0 39.0,1700.0 40.0,1700.0 41.0,1699.9 42.0,1699.9 43.0,1699.9 44.0,1699.9 45.0,1699.9 46.0,1699.9 47.0,1699.8 48.0,1699.8 49.0,1699.8 50.0,1699.8 51.0,1699.8 52.0,1699.7 53.0,1699.7 54.0,1699.7 55.0,1699.6 56.0,1699.6 57.0,1699.6 58.0,1699.5 59.0,1699.5 60.0,1699.4 61.0,1699.3 62.0,1699.3 63.0,1699.2 64.0,1699.1 65.0,1699.0 66.0,1698.9 67.0,1698.7 68.0,1698.5 69.0,1698.3 70.0,1698.0 71.0,1697.7 72.0,1697.2 73.0,1696.7 74.0,1695.9 75.0,1694.7 76.0,1693.1 77.0,1690.5 78.0,1686.6 79.0,1680.7 80.0,1674.2 81.0,1672.2 82.0,1676.3 83.0,1681.4 84.0,1684.3 85.0,1684.9 86.0,1683.3 87.0,1678.9 88.0,1670.5 89.0,1655.7 90.0,1636.0 91.0,1628.6 92.0,1644.5 93.0,1663.7 94.0,1676.5 95.0,1684.1 96.0,1688.6 97.0,1691.5 98.0,1693.5 99.0,1694.8 100.0,1695.8 101.0,1696.5 102.0,1697.0 103.0,1697.4 104.0,1697.8 105.0,1698.1 106.0,1698.3 107.0,1698.5 108.0,1698.6 109.0,1698.7 110.0,1698.9 111.0,1698.9 112.0,1699.0 113.0,1699.1 114.0,1699.2 115.0,1699.2 116.0,1699.3 117.0,1699.3 118.0,1699.3 119.0,1699.4 120.0,1699.4 121.0,1699.4 122.0,1699.4 123.0,1699.5 124.0,1699.5 125.0,1699.5 126.0,1699.5 127.0,1699.5 128.0,1699.5 129.0,1699.5 130.0,1699.5 131.0,1699.6 132.0,1699.6 133.0,1699.6 134.0,1699.6 135.0,1699.6 136.0,1699.6 137.0,1699.6 138.0,1699.6 139.0,1699.6 140.0,1699.6 141.0,1699.6 142.0,1699.6 143.0,1699.6 144.0,1699.6 145.0,1699.5 146.0,1699.5 147.0,1699.5 148.0,1699.5 149.0,1699.5 150.0,1699.5 151.0,1699.5 152.0,1699.5 153.0,1699.5 154.0,1699.5 155.0,1699.5 156.0,1699.5 157.0,1699.5 158.0,1699.4 159.0,1699.4 160.0,1699.4 161.0,1699.4 162.0,1699.4 163.0,1699.4 164.0,1699.4 165.0,1699.3 166.0,1699.3 167.0,1699.3 168.0,1699.3 169.0,1699.3 170.0,1699.2 171.0,1699.2 172.0,1699.2 173.0,1699.2 174.0,1699.2 175.0,1699.1 176.0,1699.1 177.0,1699.1 178.0,1699.0 179.0,1699.0 180.0,1699.0 181.0,1698.9 182.0,1698.9 183.0,1698.9 184.0,1698.8 185.0,1698.8 186.0,1698.7 187.0,1698.7 188.0,1698.6 189.0,1698.6 190.0,1698.5 191.0,1698.4 192.0,1698.4 193.0,1698.3 194.0,1698.2 195.0,1698.1 196.0,1698.0 197.0,1697.9 198.0,1697.8 199.0,1697.7 200.0,1697.5 201.0,1697.4 202.0,1697.2 203.0,1697.1 204.0,1696.9 205.0,1696.6 206.0,1696.4 207.0,1696.1 208.0,1695.8 209.0,1695.4 210.0,1695.0 211.0,1694.4 212.0,1693.8 213.0,1693.1 214.0,1692.2 215.0,1691.1 216.0,1689.7 217.0,1687.8 218.0,1685.4 219.0,1682.0 220.0,1677.1 221.0,1669.8 222.0,1658.5 223.0,1640.2 224.0,1611.4 225.0,1575.2 226.0,1558.2 227.0,1581.2 228.0,1616.3 229.0,1641.9 230.0,1657.7 231.0,1667.1 232.0,1672.7 233.0,1676.2 234.0,1678.1 235.0,1679.2 236.0,1679.5 237.0,1679.2 238.0,1678.4 239.0,1676.9 240.0,1674.6 241.0,1671.0 242.0,1665.4 243.0,1656.6 244.0,1644.8 245.0,1635.0 246.0,1636.7 247.0,1648.3 248.0,1660.3 249.0,1668.8 250.0,1674.2 251.0,1677.5 252.0,1679.4 253.0,1680.0 254.0,1679.4 255.0,1677.5 256.0,1673.5 257.0,1667.2 258.0,1660.2 259.0,1658.3 260.0,1664.2 261.0,1672.7 262.0,1679.4 263.0,1684.0 264.0,1687.0 265.0,1689.2 266.0,1690.7 267.0,1691.8 268.0,1692.7 269.0,1693.4 270.0,1694.0 271.0,1694.5 272.0,1694.9 273.0,1695.3 274.0,1695.6 275.0,1695.9 276.0,1696.1 277.0,1696.3 278.0,1696.5 279.0,1696.7 280.0,1696.8 281.0,1697.0 282.0,1697.1 283.0,1697.2 284.0,1697.4 285.0,1697.5 286.0,1697.5 287.0,1697.6 288.0,1697.7 289.0,1697.8 290.0,1697.8 291.0,1697.9 292.0,1697.9 293.0,1698.0 294.0,1698.0 295.0,1698.0 296.0,1698.1 297.0,1698.1 298.0,1698.1 299.0,1698.1 300.0,1698.1 301.0,1698.0 302.0,1698.0 303.0,1698.0 304.0,1697.9 305.0,1697.8 306.0,1697.7 307.0,1697.5 308.0,1697.3 309.0,1696.9 310.0,1696.5 311.0,1695.9 312.0,1695.1 313.0,1693.8 314.0,1691.8 315.0,1688.6 316.0,1683.1 317.0,1674.0 318.0,1662.7 319.0,1659.7 320.0,1669.4 321.0,1680.0 322.0,1686.8 323.0,1690.8 324.0,1693.3 325.0,1694.8 326.0,1695.8 327.0,1696.6 328.0,1697.1 329.0,1697.5 330.0,1697.8 331.0,1698.0 332.0,1698.2 333.0,1698.3 334.0,1698.4 335.0,1698.5 336.0,1698.6 337.0,1698.7 338.0,1698.8 339.0,1698.8 340.0,1698.9 341.0,1698.9 342.0,1698.9 343.0,1699.0 344.0,1699.0 345.0,1699.0 346.0,1699.0 347.0,1699.1 348.0,1699.1 349.0,1699.1 350.0,1699.1 351.0,1699.1 352.0,1699.1 353.0,1699.1 354.0,1699.1 355.0,1699.1 356.0,1699.2 357.0,1699.2 358.0,1699.2 359.0,1699.2 360.0,1699.2 361.0,1699.2 362.0,1699.2 363.0,1699.2 364.0,1699.1 365.0,1699.1 366.0,1699.1 367.0,1699.1 368.0,1699.1 369.0,1699.1 370.0,1699.1 371.0,1699.1 372.0,1699.1 373.0,1699.0 374.0,1699.0 375.0,1699.0 376.0,1698.9 377.0,1698.9 378.0,1698.9 379.0,1698.8 380.0,1698.8 381.0,1698.7 382.0,1698.6 383.0,1698.5 384.0,1698.4 385.0,1698.3 386.0,1698.1 387.0,1697.9 388.0,1697.7 389.0,1697.4 390.0,1697.0 391.0,1696.5 392.0,1695.9 393.0,1695.0 394.0,1693.7 395.0,1691.9 396.0,1689.1 397.0,1685.2 398.0,1679.7 399.0,1673.8 400.0,1671.0 401.0,1673.8 402.0,1679.7 403.0,1685.1 404.0,1689.1 405.0,1691.8 406.0,1693.6 407.0,1694.8 408.0,1695.7 409.0,1696.4 410.0,1696.8 411.0,1697.2 412.0,1697.5 413.0,1697.7 414.0,1697.8 415.0,1698.0 416.0,1698.0 417.0,1698.1 418.0,1698.1 419.0,1698.2 420.0,1698.2 421.0,1698.2 422.0,1698.1 423.0,1698.0 424.0,1698.0 425.0,1697.8 426.0,1697.6 427.0,1697.4 428.0,1697.1 429.0,1696.6 430.0,1696.0 431.0,1695.0 432.0,1693.5 433.0,1691.2 434.0,1687.5 435.0,1682.4 436.0,1678.3 437.0,1679.5 438.0,1684.4 439.0,1688.9 440.0,1691.8 441.0,1693.6 442.0,1694.7 443.0,1695.3 444.0,1695.6 445.0,1695.7 446.0,1695.6 447.0,1695.3 448.0,1694.7 449.0,1693.7 450.0,1692.1 451.0,1689.5 452.0,1685.5 453.0,1680.8 454.0,1679.1 455.0,1682.2 456.0,1686.6 457.0,1689.7 458.0,1691.6 459.0,1692.6 460.0,1693.1 461.0,1693.3 462.0,1693.4 463.0,1693.4 464.0,1693.4 465.0,1693.4 466.0,1693.6 467.0,1693.8 468.0,1694.1 469.0,1694.5 470.0,1694.8 471.0,1695.1 472.0,1695.3 473.0,1695.5 474.0,1695.5 475.0,1695.5 476.0,1695.3 477.0,1695.0 478.0,1694.5 479.0,1693.6 480.0,1692.3 481.0,1690.1 482.0,1686.5 483.0,1680.3 484.0,1670.0 485.0,1657.2 486.0,1653.8 487.0,1664.9 488.0,1677.0 489.0,1684.8 490.0,1689.4 491.0,1692.2 492.0,1693.9 493.0,1695.1 494.0,1695.9 495.0,1696.5 496.0,1697.0 497.0,1697.3 498.0,1697.6 499.0,1697.8 500.0,1697.9 501.0,1698.0 502.0,1698.1 503.0,1698.2 504.0,1698.3 505.0,1698.3 506.0,1698.3 507.0,1698.3 508.0,1698.3 509.0,1698.2 510.0,1698.2 511.0,1698.0 512.0,1697.9 513.0,1697.6 514.0,1697.2 515.0,1696.7 516.0,1695.7 517.0,1694.3 518.0,1692.0 519.0,1688.8 520.0,1686.2 521.0,1687.0 522.0,1690.2 523.0,1693.1 524.0,1695.1 525.0,1696.3 526.0,1697.1 527.0,1697.6 528.0,1698.0 529.0,1698.2 530.0,1698.4 531.0,1698.5 532.0,1698.7 533.0,1698.7 534.0,1698.8 535.0,1698.9 536.0,1698.9 537.0,1699.0 538.0,1699.0 539.0,1699.0 540.0,1699.0 541.0,1699.1 542.0,1699.1 543.0,1699.1 544.0,1699.1 545.0,1699.1 546.0,1699.1 547.0,1699.1 548.0,1699.1 549.0,1699.1 550.0,1699.1 551.0,1699.1 552.0,1699.2 553.0,1699.2 554.0,1699.1 555.0,1699.1 556.0,1699.1 557.0,1699.1 558.0,1699.1 559.0,1699.1 560.0,1699.1 561.0,1699.1 562.0,1699.1 563.0,1699.1 564.0,1699.1 565.0,1699.0 566.0,1699.0 567.0,1699.0 568.0,1699.0 569.0,1698.9 570.0,1698.9 571.0,1698.8 572.0,1698.8 573.0,1698.7 574.0,1698.6 575.0,1698.5 576.0,1698.4 577.0,1698.2 578.0,1698.0 579.0,1697.7 580.0,1697.2 581.0,1696.6 582.0,1695.8 583.0,1694.5 584.0,1692.4 585.0,1689.1 586.0,1684.2 587.0,1679.2 588.0,1678.5 589.0,1683.1 590.0,1688.2 591.0,1691.8 592.0,1694.1 593.0,1695.6 594.0,1696.5 595.0,1697.1 596.0,1697.6 597.0,1697.9 598.0,1698.2 599.0,1698.3 600.0,1698.5 601.0,1698.6 602.0,1698.7 603.0,1698.8 604.0,1698.8 605.0,1698.9 606.0,1698.9 607.0,1699.0 608.0,1699.0 609.0,1699.0 610.0,1699.0 611.0,1699.1 612.0,1699.1 613.0,1699.1 614.0,1699.1 615.0,1699.1 616.0,1699.1 617.0,1699.1 618.0,1699.2 619.0,1699.2 620.0,1699.2 621.0,1699.2 622.0,1699.2 623.0,1699.2 624.0,1699.2 625.0,1699.2 626.0,1699.2 627.0,1699.2 628.0,1699.2 629.0,1699.2 630.0,1699.2 631.0,1699.2 632.0,1699.2 633.0,1699.2 634.0,1699.2 635.0,1699.2 636.0,1699.2 637.0,1699.2 638.0,1699.2 639.0,1699.2 640.0,1699.2 641.0,1699.2 642.0,1699.2 643.0,1699.2 644.0,1699.2 645.0,1699.2 646.0,1699.2 647.0,1699.2 648.0,1699.2 649.0,1699.2 650.0,1699.2 651.0,1699.2 652.0,1699.2 653.0,1699.2 654.0,1699.2 655.0,1699.2 656.0,1699.2 657.0,1699.2 658.0,1699.2 659.0,1699.2 660.0,1699.2 661.0,1699.2 662.0,1699.2 663.0,1699.2 664.0,1699.1 665.0,1699.1 666.0,1699.1 667.0,1699.1 668.0,1699.1 669.0,1699.1 670.0,1699.1 671.0,1699.1 672.0,1699.1 673.0,1699.1 674.0,1699.1 675.0,1699.1 676.0,1699.1 677.0,1699.1 678.0,1699.1 679.0,1699.1 680.0,1699.1 681.0,1699.0 682.0,1699.0 683.0,1699.0 684.0,1699.0 685.0,1699.0 686.0,1699.0 687.0,1699.0 688.0,1699.0 689.0,1699.0 690.0,1698.9 691.0,1698.9 692.0,1698.9 693.0,1698.9 694.0,1698.9 695.0,1698.8 696.0,1698.8 697.0,1698.8 698.0,1698.8 699.0,1698.7 700.0,1698.7 701.0,1698.7 702.0,1698.6 703.0,1698.6 704.0,1698.6 705.0,1698.5 706.0,1698.5 707.0,1698.4 708.0,1698.3 709.0,1698.2 710.0,1698.1 711.0,1698.0 712.0,1697.9 713.0,1697.8 714.0,1697.6 715.0,1697.4 716.0,1697.1 717.0,1696.8 718.0,1696.4 719.0,1695.9 720.0,1695.2 721.0,1694.3 722.0,1693.0 723.0,1691.1 724.0,1688.3 725.0,1684.2 726.0,1678.5 727.0,1672.7 728.0,1671.2 729.0,1675.1 730.0,1680.4 731.0,1684.4 732.0,1686.6 733.0,1687.5 734.0,1687.3 735.0,1686.0 736.0,1683.4 737.0,1679.3 738.0,1673.2 739.0,1665.7 740.0,1659.8 741.0,1660.0 742.0,1666.2 743.0,1674.1 744.0,1680.6 745.0,1685.4 746.0,1688.7 747.0,1691.0 748.0,1692.6 749.0,1693.8 750.0,1694.7 751.0,1695.4 752.0,1695.9 753.0,1696.4 754.0,1696.7 755.0,1697.0 756.0,1697.2 757.0,1697.4 758.0,1697.5 759.0,1697.7 760.0,1697.8 761.0,1697.9 762.0,1698.0 763.0,1698.0 764.0,1698.1 765.0,1698.1 766.0,1698.2 767.0,1698.2 768.0,1698.3 769.0,1698.3 770.0,1698.3 771.0,1698.3 772.0,1698.3 773.0,1698.3 774.0,1698.3 775.0,1698.3 776.0,1698.3 777.0,1698.2 778.0,1698.2 779.0,1698.1 780.0,1698.1 781.0,1698.0 782.0,1697.9 783.0,1697.7 784.0,1697.5 785.0,1697.3 786.0,1696.9 787.0,1696.4 788.0,1695.8 789.0,1694.8 790.0,1693.3 791.0,1691.3 792.0,1689.1 793.0,1688.0 794.0,1688.8 795.0,1690.6 796.0,1692.1 797.0,1693.0 798.0,1693.3 799.0,1692.9 800.0,1691.7 801.0,1689.4 802.0,1685.6 803.0,1680.7 804.0,1678.0 805.0,1680.9 806.0,1686.1 807.0,1690.2 808.0,1692.8 809.0,1694.5 810.0,1695.6 811.0,1696.3 812.0,1696.8 813.0,1697.2 814.0,1697.4 815.0,1697.6 816.0,1697.8 817.0,1697.9 818.0,1698.0 819.0,1698.1 820.0,1698.1 821.0,1698.2 822.0,1698.2 823.0,1698.2 824.0,1698.2 825.0,1698.2 826.0,1698.2 827.0,1698.1 828.0,1698.1 829.0,1698.0 830.0,1697.9 831.0,1697.8 832.0,1697.6 833.0,1697.3 834.0,1697.0 835.0,1696.5 836.0,1695.7 837.0,1694.5 838.0,1692.7 839.0,1689.7 840.0,1685.6 841.0,1682.2 842.0,1683.2 843.0,1687.3 844.0,1691.0 845.0,1693.5 846.0,1695.1 847.0,1696.1 848.0,1696.7 849.0,1697.2 850.0,1697.5 851.0,1697.7 852.0,1697.9 853.0,1698.0 854.0,1698.1 855.0,1698.2 856.0,1698.3 857.0,1698.3 858.0,1698.4 859.0,1698.4 860.0,1698.4 861.0,1698.4 862.0,1698.4 863.0,1698.4 864.0,1698.4 865.0,1698.3 866.0,1698.3 867.0,1698.2 868.0,1698.1 869.0,1697.9 870.0,1697.7 871.0,1697.3 872.0,1696.7 873.0,1695.8 874.0,1694.6 875.0,1694.0 876.0,1694.6 877.0,1695.8 878.0,1696.7 879.0,1697.3 880.0,1697.6 881.0,1697.8 882.0,1698.0 883.0,1698.0 884.0,1698.1 885.0,1698.1 886.0,1698.1 887.0,1698.1 888.0,1698.1 889.0,1698.0 890.0,1698.0 891.0,1697.9 892.0,1697.8 893.0,1697.7 894.0,1697.5 895.0,1697.3 896.0,1697.0 897.0,1696.6 898.0,1696.1 899.0,1695.4 900.0,1694.4 901.0,1693.0 902.0,1690.8 903.0,1687.8 904.0,1684.3 905.0,1682.1 906.0,1683.0 907.0,1686.0 908.0,1689.0 909.0,1691.2 910.0,1692.5 911.0,1693.0 912.0,1693.0 913.0,1692.3 914.0,1691.1 915.0,1689.6 916.0,1689.0 917.0,1690.0 918.0,1691.9 919.0,1693.6 920.0,1694.8 921.0,1695.6 922.0,1696.2 923.0,1696.6 924.0,1696.8 925.0,1697.0 926.0,1697.1 927.0,1697.1 928.0,1697.1 929.0,1697.1 930.0,1697.0 931.0,1696.8 932.0,1696.6 933.0,1696.3 934.0,1695.8 935.0,1695.1 936.0,1694.2 937.0,1692.7 938.0,1690.6 939.0,1687.7 940.0,1684.6 941.0,1683.0 942.0,1684.3 943.0,1687.2 944.0,1689.8 945.0,1691.5 946.0,1692.4 947.0,1692.7 948.0,1692.4 949.0,1691.5 950.0,1689.8 951.0,1687.2 952.0,1684.3 953.0,1683.0 954.0,1684.6 955.0,1687.8 956.0,1690.7 957.0,1692.8 958.0,1694.3 959.0,1695.3 960.0,1696.0 961.0,1696.5 962.0,1696.9 963.0,1697.1 964.0,1697.3 965.0,1697.5 966.0,1697.6 967.0,1697.7 968.0,1697.8 969.0,1697.9 970.0,1697.9 971.0,1698.0 972.0,1698.0 973.0,1698.0 974.0,1698.0 975.0,1698.0 976.0,1698.0 977.0,1697.9 978.0,1697.9 979.0,1697.8 980.0,1697.7 981.0,1697.6 982.0,1697.4 983.0,1697.2 984.0,1696.9 985.0,1696.5 986.0,1695.9 987.0,1695.1 988.0,1693.8 989.0,1691.9 990.0,1689.6 991.0,1687.5 992.0,1687.2 993.0,1689.0 994.0,1691.4 995.0,1693.3 996.0,1694.6 997.0,1695.4 998.0,1695.9 999.0,1696.2 1000.0,1696.3 1001.0,1696.2 1002.0,1696.0 1003.0,1695.4 1004.0,1694.6 1005.0,1693.4 1006.0,1692.3 1007.0,1692.1 1008.0,1693.0 1009.0,1694.4 1010.0,1695.5 1011.0,1696.3 1012.0,1696.9 1013.0,1697.2 1014.0,1697.5 1015.0,1697.7 1016.0,1697.8 1017.0,1697.9 1018.0,1698.0 1019.0,1698.1 1020.0,1698.1 1021.0,1698.1 1022.0,1698.2 1023.0,1698.2 1024.0,1698.2 1025.0,1698.2 1026.0,1698.1 1027.0,1698.1 1028.0,1698.0 1029.0,1697.9 1030.0,1697.8 1031.0,1697.6 1032.0,1697.3 1033.0,1696.9 1034.0,1696.3 1035.0,1695.4 1036.0,1694.5 1037.0,1694.0 1038.0,1694.5 1039.0,1695.4 1040.0,1696.3 1041.0,1696.9 1042.0,1697.3 1043.0,1697.6 1044.0,1697.8 1045.0,1697.9 1046.0,1698.0 1047.0,1698.1 1048.0,1698.2 1049.0,1698.2 1050.0,1698.2 1051.0,1698.2 1052.0,1698.2 1053.0,1698.2 1054.0,1698.2 1055.0,1698.2 1056.0,1698.2 1057.0,1698.1 1058.0,1698.1 1059.0,1698.0 1060.0,1698.0 1061.0,1697.9 1062.0,1697.7 1063.0,1697.6 1064.0,1697.3 1065.0,1697.0 1066.0,1696.5 1067.0,1695.8 1068.0,1694.8 1069.0,1693.4 1070.0,1692.3 1071.0,1692.1 1072.0,1693.1 1073.0,1694.3 1074.0,1695.3 1075.0,1696.0 1076.0,1696.4 1077.0,1696.6 1078.0,1696.7 1079.0,1696.6 1080.0,1696.4 1081.0,1696.1 1082.0,1695.5 1083.0,1694.6 1084.0,1693.3 1085.0,1691.4 1086.0,1689.0 1087.0,1687.2 1088.0,1687.4 1089.0,1689.5 1090.0,1691.9 1091.0,1693.7 1092.0,1695.0 1093.0,1695.9 1094.0,1696.5 1095.0,1696.9 1096.0,1697.2 1097.0,1697.4 1098.0,1697.5 1099.0,1697.6 1100.0,1697.7 1101.0,1697.8 1102.0,1697.8 1103.0,1697.8 1104.0,1697.8 1105.0,1697.7 1106.0,1697.6 1107.0,1697.5 1108.0,1697.3 1109.0,1696.9 1110.0,1696.4 1111.0,1695.7 1112.0,1695.1 1113.0,1695.1 1114.0,1695.6 1115.0,1696.3 1116.0,1696.8 1117.0,1697.2 1118.0,1697.5 1119.0,1697.6 1120.0,1697.7 1121.0,1697.8 1122.0,1697.8 1123.0,1697.8 1124.0,1697.8 1125.0,1697.8 1126.0,1697.7 1127.0,1697.6 1128.0,1697.5 1129.0,1697.4 1130.0,1697.1 1131.0,1696.8 1132.0,1696.4 1133.0,1695.7 1134.0,1694.8 1135.0,1693.4 1136.0,1691.5 1137.0,1689.6 1138.0,1689.0 1139.0,1690.3 1140.0,1692.2 1141.0,1693.9 1142.0,1695.0 1143.0,1695.8 1144.0,1696.3 1145.0,1696.6 1146.0,1696.7 1147.0,1696.8 1148.0,1696.7 1149.0,1696.5 1150.0,1696.1 1151.0,1695.5 1152.0,1694.6 1153.0,1693.3 1154.0,1692.2 1155.0,1692.1 1156.0,1693.1 1157.0,1694.5 1158.0,1695.6 1159.0,1696.3 1160.0,1696.9 1161.0,1697.2 1162.0,1697.5 1163.0,1697.6 1164.0,1697.8 1165.0,1697.9 1166.0,1698.0 1167.0,1698.0 1168.0,1698.1 1169.0,1698.1 1170.0,1698.1 1171.0,1698.2 1172.0,1698.2 1173.0,1698.2 1174.0,1698.2 1175.0,1698.2 1176.0,1698.2 1177.0,1698.2 1178.0,1698.2 1179.0,1698.2 1180.0,1698.1 1181.0,1698.1 1182.0,1698.1 1183.0,1698.0 1184.0,1697.9 1185.0,1697.8 1186.0,1697.6 1187.0,1697.4 1188.0,1697.0 1189.0,1696.4 1190.0,1695.7 1191.0,1695.1 1192.0,1695.1 1193.0,1695.6 1194.0,1696.3 1195.0,1696.9 1196.0,1697.3 1197.0,1697.5 1198.0,1697.7 1199.0,1697.8 1200.0,1697.9 1201.0,1698.0 1202.0,1698.0 1203.0,1698.0 1204.0,1698.1 1205.0,1698.1 1206.0,1698.1 1207.0,1698.0 1208.0,1698.0 1209.0,1698.0 1210.0,1698.0 1211.0,1697.9 1212.0,1697.9 1213.0,1697.8 1214.0,1697.7 1215.0,1697.6 1216.0,1697.4 1217.0,1697.2 1218.0,1696.9 1219.0,1696.4 1220.0,1695.8 1221.0,1694.8 1222.0,1693.4 1223.0,1691.7 1224.0,1690.2 1225.0,1690.2 1226.0,1691.6 1227.0,1693.4 1228.0,1694.7 1229.0,1695.7 1230.0,1696.3 1231.0,1696.7 1232.0,1697.0 1233.0,1697.2 1234.0,1697.4 1235.0,1697.5 1236.0,1697.6 1237.0,1697.6 1238.0,1697.6 1239.0,1697.6 1240.0,1697.6 1241.0,1697.5 1242.0,1697.5 1243.0,1697.4 1244.0,1697.2 1245.0,1697.1 1246.0,1696.8 1247.0,1696.4 1248.0,1695.9 1249.0,1695.1 1250.0,1693.9 1251.0,1692.3 1252.0,1690.7 1253.0,1690.0 1254.0,1690.9 1255.0,1692.5 1256.0,1693.9 1257.0,1694.8 1258.0,1695.4 1259.0,1695.7 1260.0,1695.8 1261.0,1695.8 1262.0,1695.5 1263.0,1695.0 1264.0,1694.1 1265.0,1692.8 1266.0,1691.0 1267.0,1689.0 1268.0,1688.0 1269.0,1689.0 1270.0,1691.1 1271.0,1693.0 1272.0,1694.4 1273.0,1695.3 1274.0,1696.0 1275.0,1696.4 1276.0,1696.7 1277.0,1696.9 1278.0,1697.0 1279.0,1697.1 1280.0,1697.2 1281.0,1697.2 1282.0,1697.2 1283.0,1697.1 1284.0,1697.0 1285.0,1696.9 1286.0,1696.6 1287.0,1696.3 1288.0,1695.9 1289.0,1695.2 1290.0,1694.1 1291.0,1692.4 1292.0,1689.7 1293.0,1685.8 1294.0,1682.4 1295.0,1682.9 1296.0,1686.6 1297.0,1690.3 1298.0,1692.7 1299.0,1694.3 1300.0,1695.2 1301.0,1695.8 1302.0,1696.2 1303.0,1696.5 1304.0,1696.6 1305.0,1696.7 1306.0,1696.6 1307.0,1696.5 1308.0,1696.3 1309.0,1696.0 1310.0,1695.5 1311.0,1694.6 1312.0,1693.4 1313.0,1691.7 1314.0,1689.9 1315.0,1689.0 1316.0,1689.9 1317.0,1691.8 1318.0,1693.6 1319.0,1694.8 1320.0,1695.7 1321.0,1696.3 1322.0,1696.7 1323.0,1697.0 1324.0,1697.2 1325.0,1697.4 1326.0,1697.5 1327.0,1697.6 1328.0,1697.7 1329.0,1697.7 1330.0,1697.8 1331.0,1697.8 1332.0,1697.9 1333.0,1697.9 1334.0,1697.9 1335.0,1697.9 1336.0,1697.9 1337.0,1697.9 1338.0,1697.9 1339.0,1697.9 1340.0,1697.9 1341.0,1697.9 1342.0,1697.9 1343.0,1697.9 1344.0,1697.9 1345.0,1697.9 1346.0,1697.9 1347.0,1697.9 1348.0,1697.8 1349.0,1697.8 1350.0,1697.7 1351.0,1697.7 1352.0,1697.6 1353.0,1697.5 1354.0,1697.4 1355.0,1697.3 1356.0,1697.1 1357.0,1696.8 1358.0,1696.5 1359.0,1696.0 1360.0,1695.3 1361.0,1694.2 1362.0,1692.5 1363.0,1689.8 1364.0,1685.9 1365.0,1682.4 1366.0,1682.9 1367.0,1686.7 1368.0,1690.4 1369.0,1692.9 1370.0,1694.4 1371.0,1695.4 1372.0,1696.1 1373.0,1696.5 1374.0,1696.8 1375.0,1697.1 1376.0,1697.2 1377.0,1697.3 1378.0,1697.4 1379.0,1697.5 1380.0,1697.5 1381.0,1697.6 1382.0,1697.6 1383.0,1697.6 1384.0,1697.6 1385.0,1697.6 1386.0,1697.5 1387.0,1697.5 1388.0,1697.4 1389.0,1697.2 1390.0,1697.0 1391.0,1696.8 1392.0,1696.4 1393.0,1695.8 1394.0,1694.9 1395.0,1693.9 1396.0,1693.1 1397.0,1693.2 1398.0,1694.1 1399.0,1695.1 1400.0,1695.8 1401.0,1696.4 1402.0,1696.7 1403.0,1696.9 1404.0,1697.0 1405.0,1697.1 1406.0,1697.1 1407.0,1697.1 1408.0,1697.0 1409.0,1696.9 1410.0,1696.7 1411.0,1696.4 1412.0,1696.0 1413.0,1695.4 1414.0,1694.4 1415.0,1693.1 1416.0,1691.7 1417.0,1691.0 1418.0,1691.7 1419.0,1693.1 1420.0,1694.3 1421.0,1695.3 1422.0,1695.9 1423.0,1696.3 1424.0,1696.5 1425.0,1696.6 1426.0,1696.7 1427.0,1696.7 1428.0,1696.6 1429.0,1696.4 1430.0,1696.1 1431.0,1695.6 1432.0,1694.9 1433.0,1693.9 1434.0,1692.4 1435.0,1690.8 1436.0,1690.0 1437.0,1690.8 1438.0,1692.3 1439.0,1693.8 1440.0,1694.8 1441.0,1695.5 1442.0,1696.0 1443.0,1696.2 1444.0,1696.4 1445.0,1696.4 1446.0,1696.4 1447.0,1696.3 1448.0,1696.1 1449.0,1695.7 1450.0,1695.1 1451.0,1694.2 1452.0,1692.9 1453.0,1691.0 1454.0,1689.0 1455.0,1688.0 1456.0,1689.0 1457.0,1691.1 1458.0,1693.0 1459.0,1694.3 1460.0,1695.3 1461.0,1695.9 1462.0,1696.3 1463.0,1696.6 1464.0,1696.9 1465.0,1697.0 1466.0,1697.1 1467.0,1697.2 1468.0,1697.3 1469.0,1697.3 1470.0,1697.3 1471.0,1697.2 1472.0,1697.1 1473.0,1697.0 1474.0,1696.8 1475.0,1696.5 1476.0,1696.0 1477.0,1695.3 1478.0,1694.4 1479.0,1693.7 1480.0,1693.7 1481.0,1694.5 1482.0,1695.4 1483.0,1696.1 1484.0,1696.6 1485.0,1697.0 1486.0,1697.2 1487.0,1697.4 1488.0,1697.5 1489.0,1697.6 1490.0,1697.6 1491.0,1697.7 1492.0,1697.7 1493.0,1697.8 1494.0,1697.8 1495.0,1697.8 1496.0,1697.8 1497.0,1697.8 1498.0,1697.8 1499.0,1697.8 1500.0,1697.8 1501.0,1697.8 1502.0,1697.8 1503.0,1697.8 1504.0,1697.8 1505.0,1697.8 1506.0,1697.8 1507.0,1697.8 1508.0,1697.7 1509.0,1697.7 1510.0,1697.7 1511.0,1697.6 1512.0,1697.5 1513.0,1697.4 1514.0,1697.3 1515.0,1697.1 1516.0,1696.8 1517.0,1696.4 1518.0,1695.8 1519.0,1694.9 1520.0,1694.0 1521.0,1693.6 1522.0,1694.0 1523.0,1694.9 1524.0,1695.8 1525.0,1696.4 1526.0,1696.8 1527.0,1697.1 1528.0,1697.3 1529.0,1697.4 1530.0,1697.5 1531.0,1697.6 1532.0,1697.7 1533.0,1697.7 1534.0,1697.7 1535.0,1697.8 1536.0,1697.8 1537.0,1697.8 1538.0,1697.8 1539.0,1697.8 1540.0,1697.8 1541.0,1697.8 1542.0,1697.8 1543.0,1697.8 1544.0,1697.9 1545.0,1697.8 1546.0,1697.8 1547.0,1697.8 1548.0,1697.8 1549.0,1697.8 1550.0,1697.8 1551.0,1697.8 1552.0,1697.8 1553.0,1697.8 1554.0,1697.8 1555.0,1697.8 1556.0,1697.7 1557.0,1697.7 1558.0,1697.7 1559.0,1697.6 1560.0,1697.6 1561.0,1697.5 1562.0,1697.5 1563.0,1697.4 1564.0,1697.3 1565.0,1697.1 1566.0,1697.0 1567.0,1696.7 1568.0,1696.3 1569.0,1695.8 1570.0,1695.0 1571.0,1693.8 1572.0,1692.3 1573.0,1690.7 1574.0,1690.0 1575.0,1690.9 1576.0,1692.6 1577.0,1694.1 1578.0,1695.2 1579.0,1695.9 1580.0,1696.4 1581.0,1696.7 1582.0,1697.0 1583.0,1697.1 1584.0,1697.3 1585.0,1697.4 1586.0,1697.5 1587.0,1697.5 1588.0,1697.6 1589.0,1697.6 1590.0,1697.6 1591.0,1697.7 1592.0,1697.7 1593.0,1697.7 1594.0,1697.7 1595.0,1697.7 1596.0,1697.7 1597.0,1697.7 1598.0,1697.7 1599.0,1697.7 1600.0,1697.7 1601.0,1697.7 1602.0,1697.7 1603.0,1697.7 1604.0,1697.7 1605.0,1697.7 1606.0,1697.7 1607.0,1697.7 1608.0,1697.7 1609.0,1697.7 1610.0,1697.6 1611.0,1697.6 1612.0,1697.6 1613.0,1697.5 1614.0,1697.5 1615.0,1697.4 1616.0,1697.4 1617.0,1697.3 1618.0,1697.1 1619.0,1697.0 1620.0,1696.7 1621.0,1696.4 1622.0,1695.9 1623.0,1695.1 1624.0,1694.1 1625.0,1692.7 1626.0,1691.4 1627.0,1691.1 1628.0,1692.1 1629.0,1693.5 1630.0,1694.7 1631.0,1695.6 1632.0,1696.2 1633.0,1696.6 1634.0,1696.8 1635.0,1697.0 1636.0,1697.2 1637.0,1697.3 1638.0,1697.3 1639.0,1697.4 1640.0,1697.4 1641.0,1697.5 1642.0,1697.5 1643.0,1697.5 1644.0,1697.5 1645.0,1697.5 1646.0,1697.5 1647.0,1697.5 1648.0,1697.4 1649.0,1697.4 1650.0,1697.3 1651.0,1697.3 1652.0,1697.2 1653.0,1697.0 1654.0,1696.8 1655.0,1696.5 1656.0,1696.1 1657.0,1695.4 1658.0,1694.5 1659.0,1693.5 1660.0,1693.0 1661.0,1693.5 1662.0,1694.5 1663.0,1695.4 1664.0,1696.1 1665.0,1696.5 1666.0,1696.8 1667.0,1697.0 1668.0,1697.2 1669.0,1697.3 1670.0,1697.4 1671.0,1697.4 1672.0,1697.5 1673.0,1697.5 1674.0,1697.6 1675.0,1697.6 1676.0,1697.6 1677.0,1697.6 1678.0,1697.6 1679.0,1697.6 1680.0,1697.6 1681.0,1697.6 1682.0,1697.6 1683.0,1697.6 1684.0,1697.6 1685.0,1697.6 1686.0,1697.6 1687.0,1697.6 1688.0,1697.6 1689.0,1697.6 1690.0,1697.6 1691.0,1697.6 1692.0,1697.6 1693.0,1697.6 1694.0,1697.5 1695.0,1697.5 1696.0,1697.5 1697.0,1697.4 1698.0,1697.4 1699.0,1697.3 1700.0,1697.2 1701.0,1697.1 1702.0,1697.0 1703.0,1696.8 1704.0,1696.5 1705.0,1696.0 1706.0,1695.4 1707.0,1694.5 1708.0,1693.3 1709.0,1692.1 1710.0,1691.7 1711.0,1692.5 1712.0,1693.8 1713.0,1694.9 1714.0,1695.7 1715.0,1696.2 1716.0,1696.6 1717.0,1696.8 1718.0,1697.0 1719.0,1697.1 1720.0,1697.2 1721.0,1697.3 1722.0,1697.4 1723.0,1697.4 1724.0,1697.4 1725.0,1697.5 1726.0,1697.5 1727.0,1697.5 1728.0,1697.5 1729.0,1697.5 1730.0,1697.5 1731.0,1697.5 1732.0,1697.5 1733.0,1697.5 1734.0,1697.5 1735.0,1697.5 1736.0,1697.5 1737.0,1697.5 1738.0,1697.5 1739.0,1697.5 1740.0,1697.4 1741.0,1697.4 1742.0,1697.4 1743.0,1697.3 1744.0,1697.3 1745.0,1697.2 1746.0,1697.1 1747.0,1697.0 1748.0,1696.8 1749.0,1696.6 1750.0,1696.3 1751.0,1695.8 1752.0,1695.1 1753.0,1694.1 1754.0,1693.0 1755.0,1692.5 1756.0,1693.0 1757.0,1694.0 1758.0,1695.0 1759.0,1695.7 1760.0,1696.1 1761.0,1696.4 1762.0,1696.6 1763.0,1696.8 1764.0,1696.8 1765.0,1696.9 1766.0,1696.9 1767.0,1696.9 1768.0,1696.8 1769.0,1696.7 1770.0,1696.6 1771.0,1696.4 1772.0,1696.1 1773.0,1695.6 1774.0,1695.0 1775.0,1694.0 1776.0,1692.7 1777.0,1691.4 1778.0,1691.0 1779.0,1691.9 1780.0,1693.2 1781.0,1694.3 1782.0,1695.1 1783.0,1695.7 1784.0,1696.0 1785.0,1696.2 1786.0,1696.3 1787.0,1696.4 1788.0,1696.3 1789.0,1696.2 1790.0,1696.0 1791.0,1695.7 1792.0,1695.2 1793.0,1694.4 1794.0,1693.3 1795.0,1691.8 1796.0,1690.4 1797.0,1690.1 1798.0,1691.2 1799.0,1692.8 1800.0,1694.1 1801.0,1695.1 1802.0,1695.7 1803.0,1696.1 1804.0,1696.4 1805.0,1696.7 1806.0,1696.8 1807.0,1696.9 1808.0,1697.0 1809.0,1697.1 1810.0,1697.2 1811.0,1697.2 1812.0,1697.3 1813.0,1697.3 1814.0,1697.3 1815.0,1697.3 1816.0,1697.3 1817.0,1697.4 1818.0,1697.4 1819.0,1697.4 1820.0,1697.4 1821.0,1697.4 1822.0,1697.4 1823.0,1697.4 1824.0,1697.3 1825.0,1697.3 1826.0,1697.3 1827.0,1697.3 1828.0,1697.2 1829.0,1697.2 1830.0,1697.1 1831.0,1697.1 1832.0,1697.0 1833.0,1696.8 1834.0,1696.6 1835.0,1696.3 1836.0,1695.9 1837.0,1695.3 1838.0,1694.4 1839.0,1693.5 1840.0,1693.0 1841.0,1693.4 1842.0,1694.4 1843.0,1695.2 1844.0,1695.9 1845.0,1696.3 1846.0,1696.6 1847.0,1696.8 1848.0,1696.9 1849.0,1697.0 1850.0,1697.0 1851.0,1697.1 1852.0,1697.1 1853.0,1697.1 1854.0,1697.0 1855.0,1697.0 1856.0,1696.9 1857.0,1696.8 1858.0,1696.6 1859.0,1696.2 1860.0,1695.6 1861.0,1694.5 1862.0,1692.7 1863.0,1690.4 1864.0,1690.4"/>
<g stroke="#000" stroke-width="9" fill="none">
<line x1="27" y1="1742.4" x2="1869" y2="1742.4"/>
<line x1="31.5" y1="1738" x2="31.5" y2="1778"/>
<line x1="642.4" y1="1738" x2="642.4" y2="1778"/>
<line x1="1253.3" y1="1738" x2="1253.3" y2="1778"/>
<line x1="1864" y1="1738" x2="1864" y2="1778"/>
<line x1="337" y1="1738" x2="337" y2="1760"/>
<line x1="947.8" y1="1738" x2="947.8" y2="1760"/>
<line x1="1558.8" y1="1738" x2="1558.8" y2="1760"/>
</g>
<g class="tk">
<g transform="translate(31.5,1858.6) scale(0.965,1)"><text x="0" y="0" text-anchor="middle">5</text></g>
<g transform="translate(644,1858.6) scale(0.965,1)"><text x="0" y="0" text-anchor="middle">15</text></g>
<g transform="translate(1253,1858.6) scale(0.965,1)"><text x="0" y="0" text-anchor="middle">25</text></g>
<g transform="translate(1863,1858.6) scale(0.965,1)"><text x="0" y="0" text-anchor="middle">35</text></g>
</g>
<g transform="translate(779,1929) scale(0.94,1)"><text x="0" y="0" font-size="77" font-weight="bold" fill="#000">2 theta</text></g>
<text y="1929" font-size="76" fill="#000"><tspan x="1037">(</tspan><tspan x="1062" font-size="54" dy="-31">o</tspan><tspan x="1092" dy="31">)</tspan></text>
</svg>
</body></html>
